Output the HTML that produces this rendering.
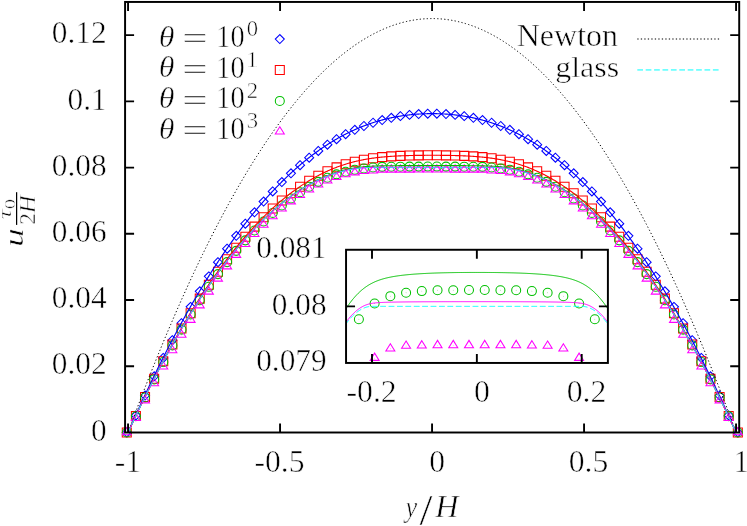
<!DOCTYPE html>
<html><head><meta charset="utf-8"><title>plot</title>
<style>
html,body{margin:0;padding:0;background:#fff;}
svg{display:block;font-family:"Liberation Serif",serif;fill:#000;will-change:transform;}
text{stroke:#fff;stroke-width:0.55;vector-effect:non-scaling-stroke;}
</style></head><body>
<svg width="747" height="526" viewBox="0 0 747 526">
<rect x="0" y="0" width="747" height="526" fill="#fff"/>
<g>
<path d="M126.79 427.99 l-4.50 4.50 l4.50 4.50 l4.50 -4.50 z" fill="none" stroke="#0000ff" stroke-width="1.05"/><circle cx="126.79" cy="432.49" r="0.45" fill="#0000ff" fill-opacity="0.6"/><path d="M135.91 410.89 l-4.50 4.50 l4.50 4.50 l4.50 -4.50 z" fill="none" stroke="#0000ff" stroke-width="1.05"/><circle cx="135.91" cy="415.39" r="0.45" fill="#0000ff" fill-opacity="0.6"/><path d="M145.03 391.02 l-4.50 4.50 l4.50 4.50 l4.50 -4.50 z" fill="none" stroke="#0000ff" stroke-width="1.05"/><circle cx="145.03" cy="395.52" r="0.45" fill="#0000ff" fill-opacity="0.6"/><path d="M154.15 371.86 l-4.50 4.50 l4.50 4.50 l4.50 -4.50 z" fill="none" stroke="#0000ff" stroke-width="1.05"/><circle cx="154.15" cy="376.36" r="0.45" fill="#0000ff" fill-opacity="0.6"/><path d="M163.27 353.42 l-4.50 4.50 l4.50 4.50 l4.50 -4.50 z" fill="none" stroke="#0000ff" stroke-width="1.05"/><circle cx="163.27" cy="357.92" r="0.45" fill="#0000ff" fill-opacity="0.6"/><path d="M172.39 335.70 l-4.50 4.50 l4.50 4.50 l4.50 -4.50 z" fill="none" stroke="#0000ff" stroke-width="1.05"/><circle cx="172.39" cy="340.20" r="0.45" fill="#0000ff" fill-opacity="0.6"/><path d="M181.51 318.68 l-4.50 4.50 l4.50 4.50 l4.50 -4.50 z" fill="none" stroke="#0000ff" stroke-width="1.05"/><circle cx="181.51" cy="323.18" r="0.45" fill="#0000ff" fill-opacity="0.6"/><path d="M190.63 302.37 l-4.50 4.50 l4.50 4.50 l4.50 -4.50 z" fill="none" stroke="#0000ff" stroke-width="1.05"/><circle cx="190.63" cy="306.87" r="0.45" fill="#0000ff" fill-opacity="0.6"/><path d="M199.75 286.77 l-4.50 4.50 l4.50 4.50 l4.50 -4.50 z" fill="none" stroke="#0000ff" stroke-width="1.05"/><circle cx="199.75" cy="291.27" r="0.45" fill="#0000ff" fill-opacity="0.6"/><path d="M208.87 271.87 l-4.50 4.50 l4.50 4.50 l4.50 -4.50 z" fill="none" stroke="#0000ff" stroke-width="1.05"/><circle cx="208.87" cy="276.37" r="0.45" fill="#0000ff" fill-opacity="0.6"/><path d="M217.99 257.66 l-4.50 4.50 l4.50 4.50 l4.50 -4.50 z" fill="none" stroke="#0000ff" stroke-width="1.05"/><circle cx="217.99" cy="262.16" r="0.45" fill="#0000ff" fill-opacity="0.6"/><path d="M227.11 244.16 l-4.50 4.50 l4.50 4.50 l4.50 -4.50 z" fill="none" stroke="#0000ff" stroke-width="1.05"/><circle cx="227.11" cy="248.66" r="0.45" fill="#0000ff" fill-opacity="0.6"/><path d="M236.23 231.35 l-4.50 4.50 l4.50 4.50 l4.50 -4.50 z" fill="none" stroke="#0000ff" stroke-width="1.05"/><circle cx="236.23" cy="235.85" r="0.45" fill="#0000ff" fill-opacity="0.6"/><path d="M245.35 219.22 l-4.50 4.50 l4.50 4.50 l4.50 -4.50 z" fill="none" stroke="#0000ff" stroke-width="1.05"/><circle cx="245.35" cy="223.72" r="0.45" fill="#0000ff" fill-opacity="0.6"/><path d="M254.47 207.79 l-4.50 4.50 l4.50 4.50 l4.50 -4.50 z" fill="none" stroke="#0000ff" stroke-width="1.05"/><circle cx="254.47" cy="212.29" r="0.45" fill="#0000ff" fill-opacity="0.6"/><path d="M263.59 197.03 l-4.50 4.50 l4.50 4.50 l4.50 -4.50 z" fill="none" stroke="#0000ff" stroke-width="1.05"/><circle cx="263.59" cy="201.53" r="0.45" fill="#0000ff" fill-opacity="0.6"/><path d="M272.71 186.94 l-4.50 4.50 l4.50 4.50 l4.50 -4.50 z" fill="none" stroke="#0000ff" stroke-width="1.05"/><circle cx="272.71" cy="191.44" r="0.45" fill="#0000ff" fill-opacity="0.6"/><path d="M281.83 177.53 l-4.50 4.50 l4.50 4.50 l4.50 -4.50 z" fill="none" stroke="#0000ff" stroke-width="1.05"/><circle cx="281.83" cy="182.03" r="0.45" fill="#0000ff" fill-opacity="0.6"/><path d="M290.95 168.78 l-4.50 4.50 l4.50 4.50 l4.50 -4.50 z" fill="none" stroke="#0000ff" stroke-width="1.05"/><circle cx="290.95" cy="173.28" r="0.45" fill="#0000ff" fill-opacity="0.6"/><path d="M300.07 160.68 l-4.50 4.50 l4.50 4.50 l4.50 -4.50 z" fill="none" stroke="#0000ff" stroke-width="1.05"/><circle cx="300.07" cy="165.18" r="0.45" fill="#0000ff" fill-opacity="0.6"/><path d="M309.19 153.23 l-4.50 4.50 l4.50 4.50 l4.50 -4.50 z" fill="none" stroke="#0000ff" stroke-width="1.05"/><circle cx="309.19" cy="157.73" r="0.45" fill="#0000ff" fill-opacity="0.6"/><path d="M318.31 146.41 l-4.50 4.50 l4.50 4.50 l4.50 -4.50 z" fill="none" stroke="#0000ff" stroke-width="1.05"/><circle cx="318.31" cy="150.91" r="0.45" fill="#0000ff" fill-opacity="0.6"/><path d="M327.43 140.23 l-4.50 4.50 l4.50 4.50 l4.50 -4.50 z" fill="none" stroke="#0000ff" stroke-width="1.05"/><circle cx="327.43" cy="144.73" r="0.45" fill="#0000ff" fill-opacity="0.6"/><path d="M336.55 134.66 l-4.50 4.50 l4.50 4.50 l4.50 -4.50 z" fill="none" stroke="#0000ff" stroke-width="1.05"/><circle cx="336.55" cy="139.16" r="0.45" fill="#0000ff" fill-opacity="0.6"/><path d="M345.67 129.69 l-4.50 4.50 l4.50 4.50 l4.50 -4.50 z" fill="none" stroke="#0000ff" stroke-width="1.05"/><circle cx="345.67" cy="134.19" r="0.45" fill="#0000ff" fill-opacity="0.6"/><path d="M354.79 125.31 l-4.50 4.50 l4.50 4.50 l4.50 -4.50 z" fill="none" stroke="#0000ff" stroke-width="1.05"/><circle cx="354.79" cy="129.81" r="0.45" fill="#0000ff" fill-opacity="0.6"/><path d="M363.91 121.50 l-4.50 4.50 l4.50 4.50 l4.50 -4.50 z" fill="none" stroke="#0000ff" stroke-width="1.05"/><circle cx="363.91" cy="126.00" r="0.45" fill="#0000ff" fill-opacity="0.6"/><path d="M373.03 118.25 l-4.50 4.50 l4.50 4.50 l4.50 -4.50 z" fill="none" stroke="#0000ff" stroke-width="1.05"/><circle cx="373.03" cy="122.75" r="0.45" fill="#0000ff" fill-opacity="0.6"/><path d="M382.15 115.54 l-4.50 4.50 l4.50 4.50 l4.50 -4.50 z" fill="none" stroke="#0000ff" stroke-width="1.05"/><circle cx="382.15" cy="120.04" r="0.45" fill="#0000ff" fill-opacity="0.6"/><path d="M391.27 113.33 l-4.50 4.50 l4.50 4.50 l4.50 -4.50 z" fill="none" stroke="#0000ff" stroke-width="1.05"/><circle cx="391.27" cy="117.83" r="0.45" fill="#0000ff" fill-opacity="0.6"/><path d="M400.39 111.63 l-4.50 4.50 l4.50 4.50 l4.50 -4.50 z" fill="none" stroke="#0000ff" stroke-width="1.05"/><circle cx="400.39" cy="116.13" r="0.45" fill="#0000ff" fill-opacity="0.6"/><path d="M409.51 110.38 l-4.50 4.50 l4.50 4.50 l4.50 -4.50 z" fill="none" stroke="#0000ff" stroke-width="1.05"/><circle cx="409.51" cy="114.88" r="0.45" fill="#0000ff" fill-opacity="0.6"/><path d="M418.63 109.58 l-4.50 4.50 l4.50 4.50 l4.50 -4.50 z" fill="none" stroke="#0000ff" stroke-width="1.05"/><circle cx="418.63" cy="114.08" r="0.45" fill="#0000ff" fill-opacity="0.6"/><path d="M427.75 109.19 l-4.50 4.50 l4.50 4.50 l4.50 -4.50 z" fill="none" stroke="#0000ff" stroke-width="1.05"/><circle cx="427.75" cy="113.69" r="0.45" fill="#0000ff" fill-opacity="0.6"/><path d="M436.87 109.19 l-4.50 4.50 l4.50 4.50 l4.50 -4.50 z" fill="none" stroke="#0000ff" stroke-width="1.05"/><circle cx="436.87" cy="113.69" r="0.45" fill="#0000ff" fill-opacity="0.6"/><path d="M445.99 109.58 l-4.50 4.50 l4.50 4.50 l4.50 -4.50 z" fill="none" stroke="#0000ff" stroke-width="1.05"/><circle cx="445.99" cy="114.08" r="0.45" fill="#0000ff" fill-opacity="0.6"/><path d="M455.11 110.38 l-4.50 4.50 l4.50 4.50 l4.50 -4.50 z" fill="none" stroke="#0000ff" stroke-width="1.05"/><circle cx="455.11" cy="114.88" r="0.45" fill="#0000ff" fill-opacity="0.6"/><path d="M464.23 111.63 l-4.50 4.50 l4.50 4.50 l4.50 -4.50 z" fill="none" stroke="#0000ff" stroke-width="1.05"/><circle cx="464.23" cy="116.13" r="0.45" fill="#0000ff" fill-opacity="0.6"/><path d="M473.35 113.33 l-4.50 4.50 l4.50 4.50 l4.50 -4.50 z" fill="none" stroke="#0000ff" stroke-width="1.05"/><circle cx="473.35" cy="117.83" r="0.45" fill="#0000ff" fill-opacity="0.6"/><path d="M482.47 115.54 l-4.50 4.50 l4.50 4.50 l4.50 -4.50 z" fill="none" stroke="#0000ff" stroke-width="1.05"/><circle cx="482.47" cy="120.04" r="0.45" fill="#0000ff" fill-opacity="0.6"/><path d="M491.59 118.25 l-4.50 4.50 l4.50 4.50 l4.50 -4.50 z" fill="none" stroke="#0000ff" stroke-width="1.05"/><circle cx="491.59" cy="122.75" r="0.45" fill="#0000ff" fill-opacity="0.6"/><path d="M500.71 121.50 l-4.50 4.50 l4.50 4.50 l4.50 -4.50 z" fill="none" stroke="#0000ff" stroke-width="1.05"/><circle cx="500.71" cy="126.00" r="0.45" fill="#0000ff" fill-opacity="0.6"/><path d="M509.83 125.31 l-4.50 4.50 l4.50 4.50 l4.50 -4.50 z" fill="none" stroke="#0000ff" stroke-width="1.05"/><circle cx="509.83" cy="129.81" r="0.45" fill="#0000ff" fill-opacity="0.6"/><path d="M518.95 129.69 l-4.50 4.50 l4.50 4.50 l4.50 -4.50 z" fill="none" stroke="#0000ff" stroke-width="1.05"/><circle cx="518.95" cy="134.19" r="0.45" fill="#0000ff" fill-opacity="0.6"/><path d="M528.07 134.66 l-4.50 4.50 l4.50 4.50 l4.50 -4.50 z" fill="none" stroke="#0000ff" stroke-width="1.05"/><circle cx="528.07" cy="139.16" r="0.45" fill="#0000ff" fill-opacity="0.6"/><path d="M537.19 140.23 l-4.50 4.50 l4.50 4.50 l4.50 -4.50 z" fill="none" stroke="#0000ff" stroke-width="1.05"/><circle cx="537.19" cy="144.73" r="0.45" fill="#0000ff" fill-opacity="0.6"/><path d="M546.31 146.41 l-4.50 4.50 l4.50 4.50 l4.50 -4.50 z" fill="none" stroke="#0000ff" stroke-width="1.05"/><circle cx="546.31" cy="150.91" r="0.45" fill="#0000ff" fill-opacity="0.6"/><path d="M555.43 153.23 l-4.50 4.50 l4.50 4.50 l4.50 -4.50 z" fill="none" stroke="#0000ff" stroke-width="1.05"/><circle cx="555.43" cy="157.73" r="0.45" fill="#0000ff" fill-opacity="0.6"/><path d="M564.55 160.68 l-4.50 4.50 l4.50 4.50 l4.50 -4.50 z" fill="none" stroke="#0000ff" stroke-width="1.05"/><circle cx="564.55" cy="165.18" r="0.45" fill="#0000ff" fill-opacity="0.6"/><path d="M573.67 168.78 l-4.50 4.50 l4.50 4.50 l4.50 -4.50 z" fill="none" stroke="#0000ff" stroke-width="1.05"/><circle cx="573.67" cy="173.28" r="0.45" fill="#0000ff" fill-opacity="0.6"/><path d="M582.79 177.53 l-4.50 4.50 l4.50 4.50 l4.50 -4.50 z" fill="none" stroke="#0000ff" stroke-width="1.05"/><circle cx="582.79" cy="182.03" r="0.45" fill="#0000ff" fill-opacity="0.6"/><path d="M591.91 186.94 l-4.50 4.50 l4.50 4.50 l4.50 -4.50 z" fill="none" stroke="#0000ff" stroke-width="1.05"/><circle cx="591.91" cy="191.44" r="0.45" fill="#0000ff" fill-opacity="0.6"/><path d="M601.03 197.03 l-4.50 4.50 l4.50 4.50 l4.50 -4.50 z" fill="none" stroke="#0000ff" stroke-width="1.05"/><circle cx="601.03" cy="201.53" r="0.45" fill="#0000ff" fill-opacity="0.6"/><path d="M610.15 207.79 l-4.50 4.50 l4.50 4.50 l4.50 -4.50 z" fill="none" stroke="#0000ff" stroke-width="1.05"/><circle cx="610.15" cy="212.29" r="0.45" fill="#0000ff" fill-opacity="0.6"/><path d="M619.27 219.22 l-4.50 4.50 l4.50 4.50 l4.50 -4.50 z" fill="none" stroke="#0000ff" stroke-width="1.05"/><circle cx="619.27" cy="223.72" r="0.45" fill="#0000ff" fill-opacity="0.6"/><path d="M628.39 231.35 l-4.50 4.50 l4.50 4.50 l4.50 -4.50 z" fill="none" stroke="#0000ff" stroke-width="1.05"/><circle cx="628.39" cy="235.85" r="0.45" fill="#0000ff" fill-opacity="0.6"/><path d="M637.51 244.16 l-4.50 4.50 l4.50 4.50 l4.50 -4.50 z" fill="none" stroke="#0000ff" stroke-width="1.05"/><circle cx="637.51" cy="248.66" r="0.45" fill="#0000ff" fill-opacity="0.6"/><path d="M646.63 257.66 l-4.50 4.50 l4.50 4.50 l4.50 -4.50 z" fill="none" stroke="#0000ff" stroke-width="1.05"/><circle cx="646.63" cy="262.16" r="0.45" fill="#0000ff" fill-opacity="0.6"/><path d="M655.75 271.87 l-4.50 4.50 l4.50 4.50 l4.50 -4.50 z" fill="none" stroke="#0000ff" stroke-width="1.05"/><circle cx="655.75" cy="276.37" r="0.45" fill="#0000ff" fill-opacity="0.6"/><path d="M664.87 286.77 l-4.50 4.50 l4.50 4.50 l4.50 -4.50 z" fill="none" stroke="#0000ff" stroke-width="1.05"/><circle cx="664.87" cy="291.27" r="0.45" fill="#0000ff" fill-opacity="0.6"/><path d="M673.99 302.37 l-4.50 4.50 l4.50 4.50 l4.50 -4.50 z" fill="none" stroke="#0000ff" stroke-width="1.05"/><circle cx="673.99" cy="306.87" r="0.45" fill="#0000ff" fill-opacity="0.6"/><path d="M683.11 318.68 l-4.50 4.50 l4.50 4.50 l4.50 -4.50 z" fill="none" stroke="#0000ff" stroke-width="1.05"/><circle cx="683.11" cy="323.18" r="0.45" fill="#0000ff" fill-opacity="0.6"/><path d="M692.23 335.70 l-4.50 4.50 l4.50 4.50 l4.50 -4.50 z" fill="none" stroke="#0000ff" stroke-width="1.05"/><circle cx="692.23" cy="340.20" r="0.45" fill="#0000ff" fill-opacity="0.6"/><path d="M701.35 353.42 l-4.50 4.50 l4.50 4.50 l4.50 -4.50 z" fill="none" stroke="#0000ff" stroke-width="1.05"/><circle cx="701.35" cy="357.92" r="0.45" fill="#0000ff" fill-opacity="0.6"/><path d="M710.47 371.86 l-4.50 4.50 l4.50 4.50 l4.50 -4.50 z" fill="none" stroke="#0000ff" stroke-width="1.05"/><circle cx="710.47" cy="376.36" r="0.45" fill="#0000ff" fill-opacity="0.6"/><path d="M719.59 391.02 l-4.50 4.50 l4.50 4.50 l4.50 -4.50 z" fill="none" stroke="#0000ff" stroke-width="1.05"/><circle cx="719.59" cy="395.52" r="0.45" fill="#0000ff" fill-opacity="0.6"/><path d="M728.71 410.89 l-4.50 4.50 l4.50 4.50 l4.50 -4.50 z" fill="none" stroke="#0000ff" stroke-width="1.05"/><circle cx="728.71" cy="415.39" r="0.45" fill="#0000ff" fill-opacity="0.6"/><path d="M737.83 427.99 l-4.50 4.50 l4.50 4.50 l4.50 -4.50 z" fill="none" stroke="#0000ff" stroke-width="1.05"/><circle cx="737.83" cy="432.49" r="0.45" fill="#0000ff" fill-opacity="0.6"/>
<path d="M122.29 427.99 h9.00 v9.00 h-9.00 z" fill="none" stroke="#ff0000" stroke-width="1.05"/><circle cx="126.79" cy="432.49" r="0.45" fill="#ff0000" fill-opacity="0.6"/><path d="M131.41 411.59 h9.00 v9.00 h-9.00 z" fill="none" stroke="#ff0000" stroke-width="1.05"/><circle cx="135.91" cy="416.09" r="0.45" fill="#ff0000" fill-opacity="0.6"/><path d="M140.53 392.59 h9.00 v9.00 h-9.00 z" fill="none" stroke="#ff0000" stroke-width="1.05"/><circle cx="145.03" cy="397.09" r="0.45" fill="#ff0000" fill-opacity="0.6"/><path d="M149.65 374.33 h9.00 v9.00 h-9.00 z" fill="none" stroke="#ff0000" stroke-width="1.05"/><circle cx="154.15" cy="378.83" r="0.45" fill="#ff0000" fill-opacity="0.6"/><path d="M158.77 356.81 h9.00 v9.00 h-9.00 z" fill="none" stroke="#ff0000" stroke-width="1.05"/><circle cx="163.27" cy="361.31" r="0.45" fill="#ff0000" fill-opacity="0.6"/><path d="M167.89 340.02 h9.00 v9.00 h-9.00 z" fill="none" stroke="#ff0000" stroke-width="1.05"/><circle cx="172.39" cy="344.52" r="0.45" fill="#ff0000" fill-opacity="0.6"/><path d="M177.01 323.98 h9.00 v9.00 h-9.00 z" fill="none" stroke="#ff0000" stroke-width="1.05"/><circle cx="181.51" cy="328.48" r="0.45" fill="#ff0000" fill-opacity="0.6"/><path d="M186.13 308.67 h9.00 v9.00 h-9.00 z" fill="none" stroke="#ff0000" stroke-width="1.05"/><circle cx="190.63" cy="313.17" r="0.45" fill="#ff0000" fill-opacity="0.6"/><path d="M195.25 294.10 h9.00 v9.00 h-9.00 z" fill="none" stroke="#ff0000" stroke-width="1.05"/><circle cx="199.75" cy="298.60" r="0.45" fill="#ff0000" fill-opacity="0.6"/><path d="M204.37 280.27 h9.00 v9.00 h-9.00 z" fill="none" stroke="#ff0000" stroke-width="1.05"/><circle cx="208.87" cy="284.77" r="0.45" fill="#ff0000" fill-opacity="0.6"/><path d="M213.49 267.18 h9.00 v9.00 h-9.00 z" fill="none" stroke="#ff0000" stroke-width="1.05"/><circle cx="217.99" cy="271.68" r="0.45" fill="#ff0000" fill-opacity="0.6"/><path d="M222.61 254.82 h9.00 v9.00 h-9.00 z" fill="none" stroke="#ff0000" stroke-width="1.05"/><circle cx="227.11" cy="259.32" r="0.45" fill="#ff0000" fill-opacity="0.6"/><path d="M231.73 243.19 h9.00 v9.00 h-9.00 z" fill="none" stroke="#ff0000" stroke-width="1.05"/><circle cx="236.23" cy="247.69" r="0.45" fill="#ff0000" fill-opacity="0.6"/><path d="M240.85 232.29 h9.00 v9.00 h-9.00 z" fill="none" stroke="#ff0000" stroke-width="1.05"/><circle cx="245.35" cy="236.79" r="0.45" fill="#ff0000" fill-opacity="0.6"/><path d="M249.97 222.13 h9.00 v9.00 h-9.00 z" fill="none" stroke="#ff0000" stroke-width="1.05"/><circle cx="254.47" cy="226.63" r="0.45" fill="#ff0000" fill-opacity="0.6"/><path d="M259.09 212.69 h9.00 v9.00 h-9.00 z" fill="none" stroke="#ff0000" stroke-width="1.05"/><circle cx="263.59" cy="217.19" r="0.45" fill="#ff0000" fill-opacity="0.6"/><path d="M268.21 203.98 h9.00 v9.00 h-9.00 z" fill="none" stroke="#ff0000" stroke-width="1.05"/><circle cx="272.71" cy="208.48" r="0.45" fill="#ff0000" fill-opacity="0.6"/><path d="M277.33 195.99 h9.00 v9.00 h-9.00 z" fill="none" stroke="#ff0000" stroke-width="1.05"/><circle cx="281.83" cy="200.49" r="0.45" fill="#ff0000" fill-opacity="0.6"/><path d="M286.45 188.71 h9.00 v9.00 h-9.00 z" fill="none" stroke="#ff0000" stroke-width="1.05"/><circle cx="290.95" cy="193.21" r="0.45" fill="#ff0000" fill-opacity="0.6"/><path d="M295.57 182.16 h9.00 v9.00 h-9.00 z" fill="none" stroke="#ff0000" stroke-width="1.05"/><circle cx="300.07" cy="186.66" r="0.45" fill="#ff0000" fill-opacity="0.6"/><path d="M304.69 176.30 h9.00 v9.00 h-9.00 z" fill="none" stroke="#ff0000" stroke-width="1.05"/><circle cx="309.19" cy="180.80" r="0.45" fill="#ff0000" fill-opacity="0.6"/><path d="M313.81 171.15 h9.00 v9.00 h-9.00 z" fill="none" stroke="#ff0000" stroke-width="1.05"/><circle cx="318.31" cy="175.65" r="0.45" fill="#ff0000" fill-opacity="0.6"/><path d="M322.93 166.68 h9.00 v9.00 h-9.00 z" fill="none" stroke="#ff0000" stroke-width="1.05"/><circle cx="327.43" cy="171.18" r="0.45" fill="#ff0000" fill-opacity="0.6"/><path d="M332.05 162.87 h9.00 v9.00 h-9.00 z" fill="none" stroke="#ff0000" stroke-width="1.05"/><circle cx="336.55" cy="167.37" r="0.45" fill="#ff0000" fill-opacity="0.6"/><path d="M341.17 159.71 h9.00 v9.00 h-9.00 z" fill="none" stroke="#ff0000" stroke-width="1.05"/><circle cx="345.67" cy="164.21" r="0.45" fill="#ff0000" fill-opacity="0.6"/><path d="M350.29 157.16 h9.00 v9.00 h-9.00 z" fill="none" stroke="#ff0000" stroke-width="1.05"/><circle cx="354.79" cy="161.66" r="0.45" fill="#ff0000" fill-opacity="0.6"/><path d="M359.41 155.17 h9.00 v9.00 h-9.00 z" fill="none" stroke="#ff0000" stroke-width="1.05"/><circle cx="363.91" cy="159.67" r="0.45" fill="#ff0000" fill-opacity="0.6"/><path d="M368.53 153.68 h9.00 v9.00 h-9.00 z" fill="none" stroke="#ff0000" stroke-width="1.05"/><circle cx="373.03" cy="158.18" r="0.45" fill="#ff0000" fill-opacity="0.6"/><path d="M377.65 152.60 h9.00 v9.00 h-9.00 z" fill="none" stroke="#ff0000" stroke-width="1.05"/><circle cx="382.15" cy="157.10" r="0.45" fill="#ff0000" fill-opacity="0.6"/><path d="M386.77 151.85 h9.00 v9.00 h-9.00 z" fill="none" stroke="#ff0000" stroke-width="1.05"/><circle cx="391.27" cy="156.35" r="0.45" fill="#ff0000" fill-opacity="0.6"/><path d="M395.89 151.35 h9.00 v9.00 h-9.00 z" fill="none" stroke="#ff0000" stroke-width="1.05"/><circle cx="400.39" cy="155.85" r="0.45" fill="#ff0000" fill-opacity="0.6"/><path d="M405.01 151.04 h9.00 v9.00 h-9.00 z" fill="none" stroke="#ff0000" stroke-width="1.05"/><circle cx="409.51" cy="155.54" r="0.45" fill="#ff0000" fill-opacity="0.6"/><path d="M414.13 150.86 h9.00 v9.00 h-9.00 z" fill="none" stroke="#ff0000" stroke-width="1.05"/><circle cx="418.63" cy="155.36" r="0.45" fill="#ff0000" fill-opacity="0.6"/><path d="M423.25 150.78 h9.00 v9.00 h-9.00 z" fill="none" stroke="#ff0000" stroke-width="1.05"/><circle cx="427.75" cy="155.28" r="0.45" fill="#ff0000" fill-opacity="0.6"/><path d="M432.37 150.78 h9.00 v9.00 h-9.00 z" fill="none" stroke="#ff0000" stroke-width="1.05"/><circle cx="436.87" cy="155.28" r="0.45" fill="#ff0000" fill-opacity="0.6"/><path d="M441.49 150.86 h9.00 v9.00 h-9.00 z" fill="none" stroke="#ff0000" stroke-width="1.05"/><circle cx="445.99" cy="155.36" r="0.45" fill="#ff0000" fill-opacity="0.6"/><path d="M450.61 151.04 h9.00 v9.00 h-9.00 z" fill="none" stroke="#ff0000" stroke-width="1.05"/><circle cx="455.11" cy="155.54" r="0.45" fill="#ff0000" fill-opacity="0.6"/><path d="M459.73 151.35 h9.00 v9.00 h-9.00 z" fill="none" stroke="#ff0000" stroke-width="1.05"/><circle cx="464.23" cy="155.85" r="0.45" fill="#ff0000" fill-opacity="0.6"/><path d="M468.85 151.85 h9.00 v9.00 h-9.00 z" fill="none" stroke="#ff0000" stroke-width="1.05"/><circle cx="473.35" cy="156.35" r="0.45" fill="#ff0000" fill-opacity="0.6"/><path d="M477.97 152.60 h9.00 v9.00 h-9.00 z" fill="none" stroke="#ff0000" stroke-width="1.05"/><circle cx="482.47" cy="157.10" r="0.45" fill="#ff0000" fill-opacity="0.6"/><path d="M487.09 153.68 h9.00 v9.00 h-9.00 z" fill="none" stroke="#ff0000" stroke-width="1.05"/><circle cx="491.59" cy="158.18" r="0.45" fill="#ff0000" fill-opacity="0.6"/><path d="M496.21 155.17 h9.00 v9.00 h-9.00 z" fill="none" stroke="#ff0000" stroke-width="1.05"/><circle cx="500.71" cy="159.67" r="0.45" fill="#ff0000" fill-opacity="0.6"/><path d="M505.33 157.16 h9.00 v9.00 h-9.00 z" fill="none" stroke="#ff0000" stroke-width="1.05"/><circle cx="509.83" cy="161.66" r="0.45" fill="#ff0000" fill-opacity="0.6"/><path d="M514.45 159.71 h9.00 v9.00 h-9.00 z" fill="none" stroke="#ff0000" stroke-width="1.05"/><circle cx="518.95" cy="164.21" r="0.45" fill="#ff0000" fill-opacity="0.6"/><path d="M523.57 162.87 h9.00 v9.00 h-9.00 z" fill="none" stroke="#ff0000" stroke-width="1.05"/><circle cx="528.07" cy="167.37" r="0.45" fill="#ff0000" fill-opacity="0.6"/><path d="M532.69 166.68 h9.00 v9.00 h-9.00 z" fill="none" stroke="#ff0000" stroke-width="1.05"/><circle cx="537.19" cy="171.18" r="0.45" fill="#ff0000" fill-opacity="0.6"/><path d="M541.81 171.15 h9.00 v9.00 h-9.00 z" fill="none" stroke="#ff0000" stroke-width="1.05"/><circle cx="546.31" cy="175.65" r="0.45" fill="#ff0000" fill-opacity="0.6"/><path d="M550.93 176.30 h9.00 v9.00 h-9.00 z" fill="none" stroke="#ff0000" stroke-width="1.05"/><circle cx="555.43" cy="180.80" r="0.45" fill="#ff0000" fill-opacity="0.6"/><path d="M560.05 182.16 h9.00 v9.00 h-9.00 z" fill="none" stroke="#ff0000" stroke-width="1.05"/><circle cx="564.55" cy="186.66" r="0.45" fill="#ff0000" fill-opacity="0.6"/><path d="M569.17 188.71 h9.00 v9.00 h-9.00 z" fill="none" stroke="#ff0000" stroke-width="1.05"/><circle cx="573.67" cy="193.21" r="0.45" fill="#ff0000" fill-opacity="0.6"/><path d="M578.29 195.99 h9.00 v9.00 h-9.00 z" fill="none" stroke="#ff0000" stroke-width="1.05"/><circle cx="582.79" cy="200.49" r="0.45" fill="#ff0000" fill-opacity="0.6"/><path d="M587.41 203.98 h9.00 v9.00 h-9.00 z" fill="none" stroke="#ff0000" stroke-width="1.05"/><circle cx="591.91" cy="208.48" r="0.45" fill="#ff0000" fill-opacity="0.6"/><path d="M596.53 212.69 h9.00 v9.00 h-9.00 z" fill="none" stroke="#ff0000" stroke-width="1.05"/><circle cx="601.03" cy="217.19" r="0.45" fill="#ff0000" fill-opacity="0.6"/><path d="M605.65 222.13 h9.00 v9.00 h-9.00 z" fill="none" stroke="#ff0000" stroke-width="1.05"/><circle cx="610.15" cy="226.63" r="0.45" fill="#ff0000" fill-opacity="0.6"/><path d="M614.77 232.29 h9.00 v9.00 h-9.00 z" fill="none" stroke="#ff0000" stroke-width="1.05"/><circle cx="619.27" cy="236.79" r="0.45" fill="#ff0000" fill-opacity="0.6"/><path d="M623.89 243.19 h9.00 v9.00 h-9.00 z" fill="none" stroke="#ff0000" stroke-width="1.05"/><circle cx="628.39" cy="247.69" r="0.45" fill="#ff0000" fill-opacity="0.6"/><path d="M633.01 254.82 h9.00 v9.00 h-9.00 z" fill="none" stroke="#ff0000" stroke-width="1.05"/><circle cx="637.51" cy="259.32" r="0.45" fill="#ff0000" fill-opacity="0.6"/><path d="M642.13 267.18 h9.00 v9.00 h-9.00 z" fill="none" stroke="#ff0000" stroke-width="1.05"/><circle cx="646.63" cy="271.68" r="0.45" fill="#ff0000" fill-opacity="0.6"/><path d="M651.25 280.27 h9.00 v9.00 h-9.00 z" fill="none" stroke="#ff0000" stroke-width="1.05"/><circle cx="655.75" cy="284.77" r="0.45" fill="#ff0000" fill-opacity="0.6"/><path d="M660.37 294.10 h9.00 v9.00 h-9.00 z" fill="none" stroke="#ff0000" stroke-width="1.05"/><circle cx="664.87" cy="298.60" r="0.45" fill="#ff0000" fill-opacity="0.6"/><path d="M669.49 308.67 h9.00 v9.00 h-9.00 z" fill="none" stroke="#ff0000" stroke-width="1.05"/><circle cx="673.99" cy="313.17" r="0.45" fill="#ff0000" fill-opacity="0.6"/><path d="M678.61 323.98 h9.00 v9.00 h-9.00 z" fill="none" stroke="#ff0000" stroke-width="1.05"/><circle cx="683.11" cy="328.48" r="0.45" fill="#ff0000" fill-opacity="0.6"/><path d="M687.73 340.02 h9.00 v9.00 h-9.00 z" fill="none" stroke="#ff0000" stroke-width="1.05"/><circle cx="692.23" cy="344.52" r="0.45" fill="#ff0000" fill-opacity="0.6"/><path d="M696.85 356.81 h9.00 v9.00 h-9.00 z" fill="none" stroke="#ff0000" stroke-width="1.05"/><circle cx="701.35" cy="361.31" r="0.45" fill="#ff0000" fill-opacity="0.6"/><path d="M705.97 374.33 h9.00 v9.00 h-9.00 z" fill="none" stroke="#ff0000" stroke-width="1.05"/><circle cx="710.47" cy="378.83" r="0.45" fill="#ff0000" fill-opacity="0.6"/><path d="M715.09 392.59 h9.00 v9.00 h-9.00 z" fill="none" stroke="#ff0000" stroke-width="1.05"/><circle cx="719.59" cy="397.09" r="0.45" fill="#ff0000" fill-opacity="0.6"/><path d="M724.21 411.59 h9.00 v9.00 h-9.00 z" fill="none" stroke="#ff0000" stroke-width="1.05"/><circle cx="728.71" cy="416.09" r="0.45" fill="#ff0000" fill-opacity="0.6"/><path d="M733.33 427.99 h9.00 v9.00 h-9.00 z" fill="none" stroke="#ff0000" stroke-width="1.05"/><circle cx="737.83" cy="432.49" r="0.45" fill="#ff0000" fill-opacity="0.6"/>
<circle cx="126.79" cy="432.49" r="4.50" fill="none" stroke="#00c000" stroke-width="1.05"/><circle cx="126.79" cy="432.49" r="0.45" fill="#00c000" fill-opacity="0.6"/><circle cx="135.91" cy="416.27" r="4.50" fill="none" stroke="#00c000" stroke-width="1.05"/><circle cx="135.91" cy="416.27" r="0.45" fill="#00c000" fill-opacity="0.6"/><circle cx="145.03" cy="397.46" r="4.50" fill="none" stroke="#00c000" stroke-width="1.05"/><circle cx="145.03" cy="397.46" r="0.45" fill="#00c000" fill-opacity="0.6"/><circle cx="154.15" cy="379.41" r="4.50" fill="none" stroke="#00c000" stroke-width="1.05"/><circle cx="154.15" cy="379.41" r="0.45" fill="#00c000" fill-opacity="0.6"/><circle cx="163.27" cy="362.08" r="4.50" fill="none" stroke="#00c000" stroke-width="1.05"/><circle cx="163.27" cy="362.08" r="0.45" fill="#00c000" fill-opacity="0.6"/><circle cx="172.39" cy="345.49" r="4.50" fill="none" stroke="#00c000" stroke-width="1.05"/><circle cx="172.39" cy="345.49" r="0.45" fill="#00c000" fill-opacity="0.6"/><circle cx="181.51" cy="329.64" r="4.50" fill="none" stroke="#00c000" stroke-width="1.05"/><circle cx="181.51" cy="329.64" r="0.45" fill="#00c000" fill-opacity="0.6"/><circle cx="190.63" cy="314.55" r="4.50" fill="none" stroke="#00c000" stroke-width="1.05"/><circle cx="190.63" cy="314.55" r="0.45" fill="#00c000" fill-opacity="0.6"/><circle cx="199.75" cy="300.33" r="4.50" fill="none" stroke="#00c000" stroke-width="1.05"/><circle cx="199.75" cy="300.33" r="0.45" fill="#00c000" fill-opacity="0.6"/><circle cx="208.87" cy="286.84" r="4.50" fill="none" stroke="#00c000" stroke-width="1.05"/><circle cx="208.87" cy="286.84" r="0.45" fill="#00c000" fill-opacity="0.6"/><circle cx="217.99" cy="274.11" r="4.50" fill="none" stroke="#00c000" stroke-width="1.05"/><circle cx="217.99" cy="274.11" r="0.45" fill="#00c000" fill-opacity="0.6"/><circle cx="227.11" cy="262.11" r="4.50" fill="none" stroke="#00c000" stroke-width="1.05"/><circle cx="227.11" cy="262.11" r="0.45" fill="#00c000" fill-opacity="0.6"/><circle cx="236.23" cy="250.86" r="4.50" fill="none" stroke="#00c000" stroke-width="1.05"/><circle cx="236.23" cy="250.86" r="0.45" fill="#00c000" fill-opacity="0.6"/><circle cx="245.35" cy="240.35" r="4.50" fill="none" stroke="#00c000" stroke-width="1.05"/><circle cx="245.35" cy="240.35" r="0.45" fill="#00c000" fill-opacity="0.6"/><circle cx="254.47" cy="230.54" r="4.50" fill="none" stroke="#00c000" stroke-width="1.05"/><circle cx="254.47" cy="230.54" r="0.45" fill="#00c000" fill-opacity="0.6"/><circle cx="263.59" cy="221.43" r="4.50" fill="none" stroke="#00c000" stroke-width="1.05"/><circle cx="263.59" cy="221.43" r="0.45" fill="#00c000" fill-opacity="0.6"/><circle cx="272.71" cy="213.05" r="4.50" fill="none" stroke="#00c000" stroke-width="1.05"/><circle cx="272.71" cy="213.05" r="0.45" fill="#00c000" fill-opacity="0.6"/><circle cx="281.83" cy="205.42" r="4.50" fill="none" stroke="#00c000" stroke-width="1.05"/><circle cx="281.83" cy="205.42" r="0.45" fill="#00c000" fill-opacity="0.6"/><circle cx="290.95" cy="198.53" r="4.50" fill="none" stroke="#00c000" stroke-width="1.05"/><circle cx="290.95" cy="198.53" r="0.45" fill="#00c000" fill-opacity="0.6"/><circle cx="300.07" cy="192.29" r="4.50" fill="none" stroke="#00c000" stroke-width="1.05"/><circle cx="300.07" cy="192.29" r="0.45" fill="#00c000" fill-opacity="0.6"/><circle cx="309.19" cy="186.71" r="4.50" fill="none" stroke="#00c000" stroke-width="1.05"/><circle cx="309.19" cy="186.71" r="0.45" fill="#00c000" fill-opacity="0.6"/><circle cx="318.31" cy="181.86" r="4.50" fill="none" stroke="#00c000" stroke-width="1.05"/><circle cx="318.31" cy="181.86" r="0.45" fill="#00c000" fill-opacity="0.6"/><circle cx="327.43" cy="177.74" r="4.50" fill="none" stroke="#00c000" stroke-width="1.05"/><circle cx="327.43" cy="177.74" r="0.45" fill="#00c000" fill-opacity="0.6"/><circle cx="336.55" cy="174.36" r="4.50" fill="none" stroke="#00c000" stroke-width="1.05"/><circle cx="336.55" cy="174.36" r="0.45" fill="#00c000" fill-opacity="0.6"/><circle cx="345.67" cy="171.70" r="4.50" fill="none" stroke="#00c000" stroke-width="1.05"/><circle cx="345.67" cy="171.70" r="0.45" fill="#00c000" fill-opacity="0.6"/><circle cx="354.79" cy="169.75" r="4.50" fill="none" stroke="#00c000" stroke-width="1.05"/><circle cx="354.79" cy="169.75" r="0.45" fill="#00c000" fill-opacity="0.6"/><circle cx="363.91" cy="168.48" r="4.50" fill="none" stroke="#00c000" stroke-width="1.05"/><circle cx="363.91" cy="168.48" r="0.45" fill="#00c000" fill-opacity="0.6"/><circle cx="373.03" cy="167.45" r="4.50" fill="none" stroke="#00c000" stroke-width="1.05"/><circle cx="373.03" cy="167.45" r="0.45" fill="#00c000" fill-opacity="0.6"/><circle cx="382.15" cy="166.87" r="4.50" fill="none" stroke="#00c000" stroke-width="1.05"/><circle cx="382.15" cy="166.87" r="0.45" fill="#00c000" fill-opacity="0.6"/><circle cx="391.27" cy="166.74" r="4.50" fill="none" stroke="#00c000" stroke-width="1.05"/><circle cx="391.27" cy="166.74" r="0.45" fill="#00c000" fill-opacity="0.6"/><circle cx="400.39" cy="166.66" r="4.50" fill="none" stroke="#00c000" stroke-width="1.05"/><circle cx="400.39" cy="166.66" r="0.45" fill="#00c000" fill-opacity="0.6"/><circle cx="409.51" cy="166.62" r="4.50" fill="none" stroke="#00c000" stroke-width="1.05"/><circle cx="409.51" cy="166.62" r="0.45" fill="#00c000" fill-opacity="0.6"/><circle cx="418.63" cy="166.60" r="4.50" fill="none" stroke="#00c000" stroke-width="1.05"/><circle cx="418.63" cy="166.60" r="0.45" fill="#00c000" fill-opacity="0.6"/><circle cx="427.75" cy="166.59" r="4.50" fill="none" stroke="#00c000" stroke-width="1.05"/><circle cx="427.75" cy="166.59" r="0.45" fill="#00c000" fill-opacity="0.6"/><circle cx="436.87" cy="166.59" r="4.50" fill="none" stroke="#00c000" stroke-width="1.05"/><circle cx="436.87" cy="166.59" r="0.45" fill="#00c000" fill-opacity="0.6"/><circle cx="445.99" cy="166.60" r="4.50" fill="none" stroke="#00c000" stroke-width="1.05"/><circle cx="445.99" cy="166.60" r="0.45" fill="#00c000" fill-opacity="0.6"/><circle cx="455.11" cy="166.62" r="4.50" fill="none" stroke="#00c000" stroke-width="1.05"/><circle cx="455.11" cy="166.62" r="0.45" fill="#00c000" fill-opacity="0.6"/><circle cx="464.23" cy="166.66" r="4.50" fill="none" stroke="#00c000" stroke-width="1.05"/><circle cx="464.23" cy="166.66" r="0.45" fill="#00c000" fill-opacity="0.6"/><circle cx="473.35" cy="166.74" r="4.50" fill="none" stroke="#00c000" stroke-width="1.05"/><circle cx="473.35" cy="166.74" r="0.45" fill="#00c000" fill-opacity="0.6"/><circle cx="482.47" cy="166.87" r="4.50" fill="none" stroke="#00c000" stroke-width="1.05"/><circle cx="482.47" cy="166.87" r="0.45" fill="#00c000" fill-opacity="0.6"/><circle cx="491.59" cy="167.45" r="4.50" fill="none" stroke="#00c000" stroke-width="1.05"/><circle cx="491.59" cy="167.45" r="0.45" fill="#00c000" fill-opacity="0.6"/><circle cx="500.71" cy="168.48" r="4.50" fill="none" stroke="#00c000" stroke-width="1.05"/><circle cx="500.71" cy="168.48" r="0.45" fill="#00c000" fill-opacity="0.6"/><circle cx="509.83" cy="169.75" r="4.50" fill="none" stroke="#00c000" stroke-width="1.05"/><circle cx="509.83" cy="169.75" r="0.45" fill="#00c000" fill-opacity="0.6"/><circle cx="518.95" cy="171.70" r="4.50" fill="none" stroke="#00c000" stroke-width="1.05"/><circle cx="518.95" cy="171.70" r="0.45" fill="#00c000" fill-opacity="0.6"/><circle cx="528.07" cy="174.36" r="4.50" fill="none" stroke="#00c000" stroke-width="1.05"/><circle cx="528.07" cy="174.36" r="0.45" fill="#00c000" fill-opacity="0.6"/><circle cx="537.19" cy="177.74" r="4.50" fill="none" stroke="#00c000" stroke-width="1.05"/><circle cx="537.19" cy="177.74" r="0.45" fill="#00c000" fill-opacity="0.6"/><circle cx="546.31" cy="181.86" r="4.50" fill="none" stroke="#00c000" stroke-width="1.05"/><circle cx="546.31" cy="181.86" r="0.45" fill="#00c000" fill-opacity="0.6"/><circle cx="555.43" cy="186.71" r="4.50" fill="none" stroke="#00c000" stroke-width="1.05"/><circle cx="555.43" cy="186.71" r="0.45" fill="#00c000" fill-opacity="0.6"/><circle cx="564.55" cy="192.29" r="4.50" fill="none" stroke="#00c000" stroke-width="1.05"/><circle cx="564.55" cy="192.29" r="0.45" fill="#00c000" fill-opacity="0.6"/><circle cx="573.67" cy="198.53" r="4.50" fill="none" stroke="#00c000" stroke-width="1.05"/><circle cx="573.67" cy="198.53" r="0.45" fill="#00c000" fill-opacity="0.6"/><circle cx="582.79" cy="205.42" r="4.50" fill="none" stroke="#00c000" stroke-width="1.05"/><circle cx="582.79" cy="205.42" r="0.45" fill="#00c000" fill-opacity="0.6"/><circle cx="591.91" cy="213.05" r="4.50" fill="none" stroke="#00c000" stroke-width="1.05"/><circle cx="591.91" cy="213.05" r="0.45" fill="#00c000" fill-opacity="0.6"/><circle cx="601.03" cy="221.43" r="4.50" fill="none" stroke="#00c000" stroke-width="1.05"/><circle cx="601.03" cy="221.43" r="0.45" fill="#00c000" fill-opacity="0.6"/><circle cx="610.15" cy="230.54" r="4.50" fill="none" stroke="#00c000" stroke-width="1.05"/><circle cx="610.15" cy="230.54" r="0.45" fill="#00c000" fill-opacity="0.6"/><circle cx="619.27" cy="240.35" r="4.50" fill="none" stroke="#00c000" stroke-width="1.05"/><circle cx="619.27" cy="240.35" r="0.45" fill="#00c000" fill-opacity="0.6"/><circle cx="628.39" cy="250.86" r="4.50" fill="none" stroke="#00c000" stroke-width="1.05"/><circle cx="628.39" cy="250.86" r="0.45" fill="#00c000" fill-opacity="0.6"/><circle cx="637.51" cy="262.11" r="4.50" fill="none" stroke="#00c000" stroke-width="1.05"/><circle cx="637.51" cy="262.11" r="0.45" fill="#00c000" fill-opacity="0.6"/><circle cx="646.63" cy="274.11" r="4.50" fill="none" stroke="#00c000" stroke-width="1.05"/><circle cx="646.63" cy="274.11" r="0.45" fill="#00c000" fill-opacity="0.6"/><circle cx="655.75" cy="286.84" r="4.50" fill="none" stroke="#00c000" stroke-width="1.05"/><circle cx="655.75" cy="286.84" r="0.45" fill="#00c000" fill-opacity="0.6"/><circle cx="664.87" cy="300.33" r="4.50" fill="none" stroke="#00c000" stroke-width="1.05"/><circle cx="664.87" cy="300.33" r="0.45" fill="#00c000" fill-opacity="0.6"/><circle cx="673.99" cy="314.55" r="4.50" fill="none" stroke="#00c000" stroke-width="1.05"/><circle cx="673.99" cy="314.55" r="0.45" fill="#00c000" fill-opacity="0.6"/><circle cx="683.11" cy="329.64" r="4.50" fill="none" stroke="#00c000" stroke-width="1.05"/><circle cx="683.11" cy="329.64" r="0.45" fill="#00c000" fill-opacity="0.6"/><circle cx="692.23" cy="345.49" r="4.50" fill="none" stroke="#00c000" stroke-width="1.05"/><circle cx="692.23" cy="345.49" r="0.45" fill="#00c000" fill-opacity="0.6"/><circle cx="701.35" cy="362.08" r="4.50" fill="none" stroke="#00c000" stroke-width="1.05"/><circle cx="701.35" cy="362.08" r="0.45" fill="#00c000" fill-opacity="0.6"/><circle cx="710.47" cy="379.41" r="4.50" fill="none" stroke="#00c000" stroke-width="1.05"/><circle cx="710.47" cy="379.41" r="0.45" fill="#00c000" fill-opacity="0.6"/><circle cx="719.59" cy="397.46" r="4.50" fill="none" stroke="#00c000" stroke-width="1.05"/><circle cx="719.59" cy="397.46" r="0.45" fill="#00c000" fill-opacity="0.6"/><circle cx="728.71" cy="416.27" r="4.50" fill="none" stroke="#00c000" stroke-width="1.05"/><circle cx="728.71" cy="416.27" r="0.45" fill="#00c000" fill-opacity="0.6"/><circle cx="737.83" cy="432.49" r="4.50" fill="none" stroke="#00c000" stroke-width="1.05"/><circle cx="737.83" cy="432.49" r="0.45" fill="#00c000" fill-opacity="0.6"/>
<path d="M126.79 427.45 l-4.50 7.29 h9.00 z" fill="none" stroke="#ff00ff" stroke-width="1.05"/><circle cx="126.79" cy="432.49" r="0.45" fill="#ff00ff" fill-opacity="0.6"/><path d="M135.91 413.30 l-4.50 7.29 h9.00 z" fill="none" stroke="#ff00ff" stroke-width="1.05"/><circle cx="135.91" cy="418.34" r="0.45" fill="#ff00ff" fill-opacity="0.6"/><path d="M145.03 395.57 l-4.50 7.29 h9.00 z" fill="none" stroke="#ff00ff" stroke-width="1.05"/><circle cx="145.03" cy="400.61" r="0.45" fill="#ff00ff" fill-opacity="0.6"/><path d="M154.15 378.54 l-4.50 7.29 h9.00 z" fill="none" stroke="#ff00ff" stroke-width="1.05"/><circle cx="154.15" cy="383.58" r="0.45" fill="#ff00ff" fill-opacity="0.6"/><path d="M163.27 361.66 l-4.50 7.29 h9.00 z" fill="none" stroke="#ff00ff" stroke-width="1.05"/><circle cx="163.27" cy="366.70" r="0.45" fill="#ff00ff" fill-opacity="0.6"/><path d="M172.39 345.52 l-4.50 7.29 h9.00 z" fill="none" stroke="#ff00ff" stroke-width="1.05"/><circle cx="172.39" cy="350.56" r="0.45" fill="#ff00ff" fill-opacity="0.6"/><path d="M181.51 329.92 l-4.50 7.29 h9.00 z" fill="none" stroke="#ff00ff" stroke-width="1.05"/><circle cx="181.51" cy="334.96" r="0.45" fill="#ff00ff" fill-opacity="0.6"/><path d="M190.63 315.07 l-4.50 7.29 h9.00 z" fill="none" stroke="#ff00ff" stroke-width="1.05"/><circle cx="190.63" cy="320.11" r="0.45" fill="#ff00ff" fill-opacity="0.6"/><path d="M199.75 300.58 l-4.50 7.29 h9.00 z" fill="none" stroke="#ff00ff" stroke-width="1.05"/><circle cx="199.75" cy="305.62" r="0.45" fill="#ff00ff" fill-opacity="0.6"/><path d="M208.87 286.83 l-4.50 7.29 h9.00 z" fill="none" stroke="#ff00ff" stroke-width="1.05"/><circle cx="208.87" cy="291.87" r="0.45" fill="#ff00ff" fill-opacity="0.6"/><path d="M217.99 273.83 l-4.50 7.29 h9.00 z" fill="none" stroke="#ff00ff" stroke-width="1.05"/><circle cx="217.99" cy="278.87" r="0.45" fill="#ff00ff" fill-opacity="0.6"/><path d="M227.11 261.58 l-4.50 7.29 h9.00 z" fill="none" stroke="#ff00ff" stroke-width="1.05"/><circle cx="227.11" cy="266.62" r="0.45" fill="#ff00ff" fill-opacity="0.6"/><path d="M236.23 250.07 l-4.50 7.29 h9.00 z" fill="none" stroke="#ff00ff" stroke-width="1.05"/><circle cx="236.23" cy="255.11" r="0.45" fill="#ff00ff" fill-opacity="0.6"/><path d="M245.35 239.30 l-4.50 7.29 h9.00 z" fill="none" stroke="#ff00ff" stroke-width="1.05"/><circle cx="245.35" cy="244.34" r="0.45" fill="#ff00ff" fill-opacity="0.6"/><path d="M254.47 229.27 l-4.50 7.29 h9.00 z" fill="none" stroke="#ff00ff" stroke-width="1.05"/><circle cx="254.47" cy="234.31" r="0.45" fill="#ff00ff" fill-opacity="0.6"/><path d="M263.59 219.98 l-4.50 7.29 h9.00 z" fill="none" stroke="#ff00ff" stroke-width="1.05"/><circle cx="263.59" cy="225.02" r="0.45" fill="#ff00ff" fill-opacity="0.6"/><path d="M272.71 211.43 l-4.50 7.29 h9.00 z" fill="none" stroke="#ff00ff" stroke-width="1.05"/><circle cx="272.71" cy="216.47" r="0.45" fill="#ff00ff" fill-opacity="0.6"/><path d="M281.83 203.63 l-4.50 7.29 h9.00 z" fill="none" stroke="#ff00ff" stroke-width="1.05"/><circle cx="281.83" cy="208.67" r="0.45" fill="#ff00ff" fill-opacity="0.6"/><path d="M290.95 196.57 l-4.50 7.29 h9.00 z" fill="none" stroke="#ff00ff" stroke-width="1.05"/><circle cx="290.95" cy="201.61" r="0.45" fill="#ff00ff" fill-opacity="0.6"/><path d="M300.07 190.26 l-4.50 7.29 h9.00 z" fill="none" stroke="#ff00ff" stroke-width="1.05"/><circle cx="300.07" cy="195.30" r="0.45" fill="#ff00ff" fill-opacity="0.6"/><path d="M309.19 184.64 l-4.50 7.29 h9.00 z" fill="none" stroke="#ff00ff" stroke-width="1.05"/><circle cx="309.19" cy="189.68" r="0.45" fill="#ff00ff" fill-opacity="0.6"/><path d="M318.31 179.76 l-4.50 7.29 h9.00 z" fill="none" stroke="#ff00ff" stroke-width="1.05"/><circle cx="318.31" cy="184.80" r="0.45" fill="#ff00ff" fill-opacity="0.6"/><path d="M327.43 175.63 l-4.50 7.29 h9.00 z" fill="none" stroke="#ff00ff" stroke-width="1.05"/><circle cx="327.43" cy="180.67" r="0.45" fill="#ff00ff" fill-opacity="0.6"/><path d="M336.55 172.25 l-4.50 7.29 h9.00 z" fill="none" stroke="#ff00ff" stroke-width="1.05"/><circle cx="336.55" cy="177.29" r="0.45" fill="#ff00ff" fill-opacity="0.6"/><path d="M345.67 169.55 l-4.50 7.29 h9.00 z" fill="none" stroke="#ff00ff" stroke-width="1.05"/><circle cx="345.67" cy="174.59" r="0.45" fill="#ff00ff" fill-opacity="0.6"/><path d="M354.79 167.60 l-4.50 7.29 h9.00 z" fill="none" stroke="#ff00ff" stroke-width="1.05"/><circle cx="354.79" cy="172.64" r="0.45" fill="#ff00ff" fill-opacity="0.6"/><path d="M363.91 166.28 l-4.50 7.29 h9.00 z" fill="none" stroke="#ff00ff" stroke-width="1.05"/><circle cx="363.91" cy="171.32" r="0.45" fill="#ff00ff" fill-opacity="0.6"/><path d="M373.03 165.64 l-4.50 7.29 h9.00 z" fill="none" stroke="#ff00ff" stroke-width="1.05"/><circle cx="373.03" cy="170.68" r="0.45" fill="#ff00ff" fill-opacity="0.6"/><path d="M382.15 164.84 l-4.50 7.29 h9.00 z" fill="none" stroke="#ff00ff" stroke-width="1.05"/><circle cx="382.15" cy="169.88" r="0.45" fill="#ff00ff" fill-opacity="0.6"/><path d="M391.27 164.83 l-4.50 7.29 h9.00 z" fill="none" stroke="#ff00ff" stroke-width="1.05"/><circle cx="391.27" cy="169.87" r="0.45" fill="#ff00ff" fill-opacity="0.6"/><path d="M400.39 164.82 l-4.50 7.29 h9.00 z" fill="none" stroke="#ff00ff" stroke-width="1.05"/><circle cx="400.39" cy="169.86" r="0.45" fill="#ff00ff" fill-opacity="0.6"/><path d="M409.51 164.82 l-4.50 7.29 h9.00 z" fill="none" stroke="#ff00ff" stroke-width="1.05"/><circle cx="409.51" cy="169.86" r="0.45" fill="#ff00ff" fill-opacity="0.6"/><path d="M418.63 164.81 l-4.50 7.29 h9.00 z" fill="none" stroke="#ff00ff" stroke-width="1.05"/><circle cx="418.63" cy="169.85" r="0.45" fill="#ff00ff" fill-opacity="0.6"/><path d="M427.75 164.81 l-4.50 7.29 h9.00 z" fill="none" stroke="#ff00ff" stroke-width="1.05"/><circle cx="427.75" cy="169.85" r="0.45" fill="#ff00ff" fill-opacity="0.6"/><path d="M436.87 164.81 l-4.50 7.29 h9.00 z" fill="none" stroke="#ff00ff" stroke-width="1.05"/><circle cx="436.87" cy="169.85" r="0.45" fill="#ff00ff" fill-opacity="0.6"/><path d="M445.99 164.81 l-4.50 7.29 h9.00 z" fill="none" stroke="#ff00ff" stroke-width="1.05"/><circle cx="445.99" cy="169.85" r="0.45" fill="#ff00ff" fill-opacity="0.6"/><path d="M455.11 164.82 l-4.50 7.29 h9.00 z" fill="none" stroke="#ff00ff" stroke-width="1.05"/><circle cx="455.11" cy="169.86" r="0.45" fill="#ff00ff" fill-opacity="0.6"/><path d="M464.23 164.82 l-4.50 7.29 h9.00 z" fill="none" stroke="#ff00ff" stroke-width="1.05"/><circle cx="464.23" cy="169.86" r="0.45" fill="#ff00ff" fill-opacity="0.6"/><path d="M473.35 164.83 l-4.50 7.29 h9.00 z" fill="none" stroke="#ff00ff" stroke-width="1.05"/><circle cx="473.35" cy="169.87" r="0.45" fill="#ff00ff" fill-opacity="0.6"/><path d="M482.47 164.84 l-4.50 7.29 h9.00 z" fill="none" stroke="#ff00ff" stroke-width="1.05"/><circle cx="482.47" cy="169.88" r="0.45" fill="#ff00ff" fill-opacity="0.6"/><path d="M491.59 165.64 l-4.50 7.29 h9.00 z" fill="none" stroke="#ff00ff" stroke-width="1.05"/><circle cx="491.59" cy="170.68" r="0.45" fill="#ff00ff" fill-opacity="0.6"/><path d="M500.71 166.28 l-4.50 7.29 h9.00 z" fill="none" stroke="#ff00ff" stroke-width="1.05"/><circle cx="500.71" cy="171.32" r="0.45" fill="#ff00ff" fill-opacity="0.6"/><path d="M509.83 167.60 l-4.50 7.29 h9.00 z" fill="none" stroke="#ff00ff" stroke-width="1.05"/><circle cx="509.83" cy="172.64" r="0.45" fill="#ff00ff" fill-opacity="0.6"/><path d="M518.95 169.55 l-4.50 7.29 h9.00 z" fill="none" stroke="#ff00ff" stroke-width="1.05"/><circle cx="518.95" cy="174.59" r="0.45" fill="#ff00ff" fill-opacity="0.6"/><path d="M528.07 172.25 l-4.50 7.29 h9.00 z" fill="none" stroke="#ff00ff" stroke-width="1.05"/><circle cx="528.07" cy="177.29" r="0.45" fill="#ff00ff" fill-opacity="0.6"/><path d="M537.19 175.63 l-4.50 7.29 h9.00 z" fill="none" stroke="#ff00ff" stroke-width="1.05"/><circle cx="537.19" cy="180.67" r="0.45" fill="#ff00ff" fill-opacity="0.6"/><path d="M546.31 179.76 l-4.50 7.29 h9.00 z" fill="none" stroke="#ff00ff" stroke-width="1.05"/><circle cx="546.31" cy="184.80" r="0.45" fill="#ff00ff" fill-opacity="0.6"/><path d="M555.43 184.64 l-4.50 7.29 h9.00 z" fill="none" stroke="#ff00ff" stroke-width="1.05"/><circle cx="555.43" cy="189.68" r="0.45" fill="#ff00ff" fill-opacity="0.6"/><path d="M564.55 190.26 l-4.50 7.29 h9.00 z" fill="none" stroke="#ff00ff" stroke-width="1.05"/><circle cx="564.55" cy="195.30" r="0.45" fill="#ff00ff" fill-opacity="0.6"/><path d="M573.67 196.57 l-4.50 7.29 h9.00 z" fill="none" stroke="#ff00ff" stroke-width="1.05"/><circle cx="573.67" cy="201.61" r="0.45" fill="#ff00ff" fill-opacity="0.6"/><path d="M582.79 203.63 l-4.50 7.29 h9.00 z" fill="none" stroke="#ff00ff" stroke-width="1.05"/><circle cx="582.79" cy="208.67" r="0.45" fill="#ff00ff" fill-opacity="0.6"/><path d="M591.91 211.43 l-4.50 7.29 h9.00 z" fill="none" stroke="#ff00ff" stroke-width="1.05"/><circle cx="591.91" cy="216.47" r="0.45" fill="#ff00ff" fill-opacity="0.6"/><path d="M601.03 219.98 l-4.50 7.29 h9.00 z" fill="none" stroke="#ff00ff" stroke-width="1.05"/><circle cx="601.03" cy="225.02" r="0.45" fill="#ff00ff" fill-opacity="0.6"/><path d="M610.15 229.27 l-4.50 7.29 h9.00 z" fill="none" stroke="#ff00ff" stroke-width="1.05"/><circle cx="610.15" cy="234.31" r="0.45" fill="#ff00ff" fill-opacity="0.6"/><path d="M619.27 239.30 l-4.50 7.29 h9.00 z" fill="none" stroke="#ff00ff" stroke-width="1.05"/><circle cx="619.27" cy="244.34" r="0.45" fill="#ff00ff" fill-opacity="0.6"/><path d="M628.39 250.07 l-4.50 7.29 h9.00 z" fill="none" stroke="#ff00ff" stroke-width="1.05"/><circle cx="628.39" cy="255.11" r="0.45" fill="#ff00ff" fill-opacity="0.6"/><path d="M637.51 261.58 l-4.50 7.29 h9.00 z" fill="none" stroke="#ff00ff" stroke-width="1.05"/><circle cx="637.51" cy="266.62" r="0.45" fill="#ff00ff" fill-opacity="0.6"/><path d="M646.63 273.83 l-4.50 7.29 h9.00 z" fill="none" stroke="#ff00ff" stroke-width="1.05"/><circle cx="646.63" cy="278.87" r="0.45" fill="#ff00ff" fill-opacity="0.6"/><path d="M655.75 286.83 l-4.50 7.29 h9.00 z" fill="none" stroke="#ff00ff" stroke-width="1.05"/><circle cx="655.75" cy="291.87" r="0.45" fill="#ff00ff" fill-opacity="0.6"/><path d="M664.87 300.58 l-4.50 7.29 h9.00 z" fill="none" stroke="#ff00ff" stroke-width="1.05"/><circle cx="664.87" cy="305.62" r="0.45" fill="#ff00ff" fill-opacity="0.6"/><path d="M673.99 315.07 l-4.50 7.29 h9.00 z" fill="none" stroke="#ff00ff" stroke-width="1.05"/><circle cx="673.99" cy="320.11" r="0.45" fill="#ff00ff" fill-opacity="0.6"/><path d="M683.11 329.92 l-4.50 7.29 h9.00 z" fill="none" stroke="#ff00ff" stroke-width="1.05"/><circle cx="683.11" cy="334.96" r="0.45" fill="#ff00ff" fill-opacity="0.6"/><path d="M692.23 345.52 l-4.50 7.29 h9.00 z" fill="none" stroke="#ff00ff" stroke-width="1.05"/><circle cx="692.23" cy="350.56" r="0.45" fill="#ff00ff" fill-opacity="0.6"/><path d="M701.35 361.66 l-4.50 7.29 h9.00 z" fill="none" stroke="#ff00ff" stroke-width="1.05"/><circle cx="701.35" cy="366.70" r="0.45" fill="#ff00ff" fill-opacity="0.6"/><path d="M710.47 378.54 l-4.50 7.29 h9.00 z" fill="none" stroke="#ff00ff" stroke-width="1.05"/><circle cx="710.47" cy="383.58" r="0.45" fill="#ff00ff" fill-opacity="0.6"/><path d="M719.59 395.57 l-4.50 7.29 h9.00 z" fill="none" stroke="#ff00ff" stroke-width="1.05"/><circle cx="719.59" cy="400.61" r="0.45" fill="#ff00ff" fill-opacity="0.6"/><path d="M728.71 413.30 l-4.50 7.29 h9.00 z" fill="none" stroke="#ff00ff" stroke-width="1.05"/><circle cx="728.71" cy="418.34" r="0.45" fill="#ff00ff" fill-opacity="0.6"/><path d="M737.83 427.45 l-4.50 7.29 h9.00 z" fill="none" stroke="#ff00ff" stroke-width="1.05"/><circle cx="737.83" cy="432.49" r="0.45" fill="#ff00ff" fill-opacity="0.6"/>
<path d="M128.06 432.49 L128.82 430.42 L129.58 428.36 L130.34 426.30 L131.10 424.25 L131.86 422.21 L132.62 420.17 L133.38 418.13 L134.14 416.10 L134.90 414.07 L135.66 412.05 L136.42 410.04 L137.18 408.03 L137.94 406.02 L138.70 404.02 L139.46 402.03 L140.22 400.04 L140.98 398.05 L141.74 396.07 L142.50 394.10 L143.26 392.13 L144.02 390.17 L144.78 388.21 L145.54 386.26 L146.30 384.31 L147.06 382.37 L147.82 380.43 L148.58 378.50 L149.34 376.57 L150.10 374.65 L150.86 372.73 L151.62 370.82 L152.38 368.91 L153.14 367.01 L153.90 365.11 L154.66 363.22 L155.42 361.34 L156.18 359.46 L156.94 357.58 L157.70 355.71 L158.46 353.84 L159.22 351.98 L159.98 350.13 L160.74 348.28 L161.50 346.43 L162.26 344.60 L163.02 342.76 L163.78 340.93 L164.54 339.11 L165.30 337.29 L166.06 335.48 L166.82 333.67 L167.58 331.86 L168.34 330.07 L169.10 328.27 L169.86 326.49 L170.62 324.70 L171.38 322.93 L172.14 321.15 L172.90 319.39 L173.66 317.63 L174.42 315.87 L175.18 314.12 L175.94 312.37 L176.70 310.63 L177.46 308.89 L178.22 307.16 L178.98 305.44 L179.74 303.72 L180.50 302.00 L181.26 300.29 L182.02 298.59 L182.78 296.89 L183.54 295.19 L184.30 293.50 L185.06 291.82 L185.82 290.14 L186.58 288.47 L187.34 286.80 L188.10 285.14 L188.86 283.48 L189.62 281.82 L190.38 280.18 L191.14 278.53 L191.90 276.90 L192.66 275.26 L193.42 273.64 L194.18 272.01 L194.94 270.40 L195.70 268.79 L196.46 267.18 L197.22 265.58 L197.98 263.98 L198.74 262.39 L199.50 260.80 L200.26 259.22 L201.02 257.65 L201.78 256.08 L202.54 254.51 L203.30 252.95 L204.06 251.40 L204.82 249.85 L205.58 248.30 L206.34 246.76 L207.10 245.23 L207.86 243.70 L208.62 242.18 L209.38 240.66 L210.14 239.15 L210.90 237.64 L211.66 236.13 L212.42 234.64 L213.18 233.14 L213.94 231.66 L214.70 230.17 L215.46 228.70 L216.22 227.22 L216.98 225.76 L217.74 224.30 L218.50 222.84 L219.26 221.39 L220.02 219.94 L220.78 218.50 L221.54 217.07 L222.30 215.63 L223.06 214.21 L223.82 212.79 L224.58 211.37 L225.34 209.96 L226.10 208.56 L226.86 207.16 L227.62 205.77 L228.38 204.38 L229.14 202.99 L229.90 201.61 L230.66 200.24 L231.42 198.87 L232.18 197.51 L232.94 196.15 L233.70 194.80 L234.46 193.45 L235.22 192.11 L235.98 190.77 L236.74 189.44 L237.50 188.11 L238.26 186.79 L239.02 185.47 L239.78 184.16 L240.54 182.85 L241.30 181.55 L242.06 180.25 L242.82 178.96 L243.58 177.68 L244.34 176.40 L245.10 175.12 L245.86 173.85 L246.62 172.59 L247.38 171.33 L248.14 170.07 L248.90 168.82 L249.66 167.58 L250.42 166.34 L251.18 165.10 L251.94 163.88 L252.70 162.65 L253.46 161.43 L254.22 160.22 L254.98 159.01 L255.74 157.81 L256.50 156.61 L257.26 155.42 L258.02 154.23 L258.78 153.05 L259.54 151.87 L260.30 150.70 L261.06 149.53 L261.82 148.37 L262.58 147.22 L263.34 146.06 L264.10 144.92 L264.86 143.78 L265.62 142.64 L266.38 141.51 L267.14 140.39 L267.90 139.27 L268.66 138.15 L269.42 137.04 L270.18 135.94 L270.94 134.84 L271.70 133.74 L272.46 132.65 L273.22 131.57 L273.98 130.49 L274.74 129.42 L275.50 128.35 L276.26 127.28 L277.02 126.23 L277.78 125.17 L278.54 124.13 L279.30 123.08 L280.06 122.05 L280.82 121.01 L281.58 119.99 L282.34 118.97 L283.10 117.95 L283.86 116.94 L284.62 115.93 L285.38 114.93 L286.14 113.93 L286.90 112.94 L287.66 111.96 L288.42 110.98 L289.18 110.00 L289.94 109.03 L290.70 108.07 L291.46 107.11 L292.22 106.15 L292.98 105.20 L293.74 104.26 L294.50 103.32 L295.26 102.38 L296.02 101.46 L296.78 100.53 L297.54 99.61 L298.30 98.70 L299.06 97.79 L299.82 96.89 L300.58 95.99 L301.34 95.10 L302.10 94.21 L302.86 93.33 L303.62 92.45 L304.38 91.58 L305.14 90.71 L305.90 89.85 L306.66 89.00 L307.42 88.15 L308.18 87.30 L308.94 86.46 L309.70 85.62 L310.46 84.79 L311.22 83.97 L311.98 83.15 L312.74 82.33 L313.50 81.52 L314.26 80.72 L315.02 79.92 L315.78 79.12 L316.54 78.34 L317.30 77.55 L318.06 76.77 L318.82 76.00 L319.58 75.23 L320.34 74.47 L321.10 73.71 L321.86 72.96 L322.62 72.21 L323.38 71.47 L324.14 70.73 L324.90 70.00 L325.66 69.27 L326.42 68.55 L327.18 67.83 L327.94 67.12 L328.70 66.41 L329.46 65.71 L330.22 65.02 L330.98 64.33 L331.74 63.64 L332.50 62.96 L333.26 62.29 L334.02 61.62 L334.78 60.95 L335.54 60.29 L336.30 59.64 L337.06 58.99 L337.82 58.34 L338.58 57.70 L339.34 57.07 L340.10 56.44 L340.86 55.82 L341.62 55.20 L342.38 54.59 L343.14 53.98 L343.90 53.38 L344.66 52.78 L345.42 52.19 L346.18 51.60 L346.94 51.02 L347.70 50.44 L348.46 49.87 L349.22 49.30 L349.98 48.74 L350.74 48.18 L351.50 47.63 L352.26 47.09 L353.02 46.55 L353.78 46.01 L354.54 45.48 L355.30 44.96 L356.06 44.44 L356.82 43.92 L357.58 43.41 L358.34 42.91 L359.10 42.41 L359.86 41.91 L360.62 41.42 L361.38 40.94 L362.14 40.46 L362.90 39.99 L363.66 39.52 L364.42 39.06 L365.18 38.60 L365.94 38.15 L366.70 37.70 L367.46 37.26 L368.22 36.82 L368.98 36.39 L369.74 35.96 L370.50 35.54 L371.26 35.12 L372.02 34.71 L372.78 34.30 L373.54 33.90 L374.30 33.51 L375.06 33.12 L375.82 32.73 L376.58 32.35 L377.34 31.98 L378.10 31.61 L378.86 31.24 L379.62 30.88 L380.38 30.53 L381.14 30.18 L381.90 29.83 L382.66 29.50 L383.42 29.16 L384.18 28.83 L384.94 28.51 L385.70 28.19 L386.46 27.88 L387.22 27.57 L387.98 27.27 L388.74 26.97 L389.50 26.68 L390.26 26.39 L391.02 26.11 L391.78 25.83 L392.54 25.56 L393.30 25.29 L394.06 25.03 L394.82 24.78 L395.58 24.53 L396.34 24.28 L397.10 24.04 L397.86 23.80 L398.62 23.57 L399.38 23.35 L400.14 23.13 L400.90 22.91 L401.66 22.70 L402.42 22.50 L403.18 22.30 L403.94 22.11 L404.70 21.92 L405.46 21.73 L406.22 21.56 L406.98 21.38 L407.74 21.21 L408.50 21.05 L409.26 20.89 L410.02 20.74 L410.78 20.59 L411.54 20.45 L412.30 20.31 L413.06 20.18 L413.82 20.06 L414.58 19.93 L415.34 19.82 L416.10 19.71 L416.86 19.60 L417.62 19.50 L418.38 19.40 L419.14 19.31 L419.90 19.23 L420.66 19.15 L421.42 19.07 L422.18 19.00 L422.94 18.94 L423.70 18.88 L424.46 18.82 L425.22 18.77 L425.98 18.73 L426.74 18.69 L427.50 18.66 L428.26 18.63 L429.02 18.61 L429.78 18.59 L430.54 18.58 L431.30 18.57 L432.06 18.56 L432.82 18.57 L433.58 18.58 L434.34 18.59 L435.10 18.61 L435.86 18.63 L436.62 18.66 L437.38 18.69 L438.14 18.73 L438.90 18.77 L439.66 18.82 L440.42 18.88 L441.18 18.94 L441.94 19.00 L442.70 19.07 L443.46 19.15 L444.22 19.23 L444.98 19.31 L445.74 19.40 L446.50 19.50 L447.26 19.60 L448.02 19.71 L448.78 19.82 L449.54 19.93 L450.30 20.06 L451.06 20.18 L451.82 20.31 L452.58 20.45 L453.34 20.59 L454.10 20.74 L454.86 20.89 L455.62 21.05 L456.38 21.21 L457.14 21.38 L457.90 21.56 L458.66 21.73 L459.42 21.92 L460.18 22.11 L460.94 22.30 L461.70 22.50 L462.46 22.70 L463.22 22.91 L463.98 23.13 L464.74 23.35 L465.50 23.57 L466.26 23.80 L467.02 24.04 L467.78 24.28 L468.54 24.53 L469.30 24.78 L470.06 25.03 L470.82 25.29 L471.58 25.56 L472.34 25.83 L473.10 26.11 L473.86 26.39 L474.62 26.68 L475.38 26.97 L476.14 27.27 L476.90 27.57 L477.66 27.88 L478.42 28.19 L479.18 28.51 L479.94 28.83 L480.70 29.16 L481.46 29.50 L482.22 29.83 L482.98 30.18 L483.74 30.53 L484.50 30.88 L485.26 31.24 L486.02 31.61 L486.78 31.98 L487.54 32.35 L488.30 32.73 L489.06 33.12 L489.82 33.51 L490.58 33.90 L491.34 34.30 L492.10 34.71 L492.86 35.12 L493.62 35.54 L494.38 35.96 L495.14 36.39 L495.90 36.82 L496.66 37.26 L497.42 37.70 L498.18 38.15 L498.94 38.60 L499.70 39.06 L500.46 39.52 L501.22 39.99 L501.98 40.46 L502.74 40.94 L503.50 41.42 L504.26 41.91 L505.02 42.41 L505.78 42.91 L506.54 43.41 L507.30 43.92 L508.06 44.44 L508.82 44.96 L509.58 45.48 L510.34 46.01 L511.10 46.55 L511.86 47.09 L512.62 47.63 L513.38 48.18 L514.14 48.74 L514.90 49.30 L515.66 49.87 L516.42 50.44 L517.18 51.02 L517.94 51.60 L518.70 52.19 L519.46 52.78 L520.22 53.38 L520.98 53.98 L521.74 54.59 L522.50 55.20 L523.26 55.82 L524.02 56.44 L524.78 57.07 L525.54 57.70 L526.30 58.34 L527.06 58.99 L527.82 59.64 L528.58 60.29 L529.34 60.95 L530.10 61.62 L530.86 62.29 L531.62 62.96 L532.38 63.64 L533.14 64.33 L533.90 65.02 L534.66 65.71 L535.42 66.41 L536.18 67.12 L536.94 67.83 L537.70 68.55 L538.46 69.27 L539.22 70.00 L539.98 70.73 L540.74 71.47 L541.50 72.21 L542.26 72.96 L543.02 73.71 L543.78 74.47 L544.54 75.23 L545.30 76.00 L546.06 76.77 L546.82 77.55 L547.58 78.34 L548.34 79.12 L549.10 79.92 L549.86 80.72 L550.62 81.52 L551.38 82.33 L552.14 83.15 L552.90 83.97 L553.66 84.79 L554.42 85.62 L555.18 86.46 L555.94 87.30 L556.70 88.15 L557.46 89.00 L558.22 89.85 L558.98 90.71 L559.74 91.58 L560.50 92.45 L561.26 93.33 L562.02 94.21 L562.78 95.10 L563.54 95.99 L564.30 96.89 L565.06 97.79 L565.82 98.70 L566.58 99.61 L567.34 100.53 L568.10 101.46 L568.86 102.38 L569.62 103.32 L570.38 104.26 L571.14 105.20 L571.90 106.15 L572.66 107.11 L573.42 108.07 L574.18 109.03 L574.94 110.00 L575.70 110.98 L576.46 111.96 L577.22 112.94 L577.98 113.93 L578.74 114.93 L579.50 115.93 L580.26 116.94 L581.02 117.95 L581.78 118.97 L582.54 119.99 L583.30 121.01 L584.06 122.05 L584.82 123.08 L585.58 124.13 L586.34 125.17 L587.10 126.23 L587.86 127.28 L588.62 128.35 L589.38 129.42 L590.14 130.49 L590.90 131.57 L591.66 132.65 L592.42 133.74 L593.18 134.84 L593.94 135.94 L594.70 137.04 L595.46 138.15 L596.22 139.27 L596.98 140.39 L597.74 141.51 L598.50 142.64 L599.26 143.78 L600.02 144.92 L600.78 146.06 L601.54 147.22 L602.30 148.37 L603.06 149.53 L603.82 150.70 L604.58 151.87 L605.34 153.05 L606.10 154.23 L606.86 155.42 L607.62 156.61 L608.38 157.81 L609.14 159.01 L609.90 160.22 L610.66 161.43 L611.42 162.65 L612.18 163.88 L612.94 165.10 L613.70 166.34 L614.46 167.58 L615.22 168.82 L615.98 170.07 L616.74 171.33 L617.50 172.59 L618.26 173.85 L619.02 175.12 L619.78 176.40 L620.54 177.68 L621.30 178.96 L622.06 180.25 L622.82 181.55 L623.58 182.85 L624.34 184.16 L625.10 185.47 L625.86 186.79 L626.62 188.11 L627.38 189.44 L628.14 190.77 L628.90 192.11 L629.66 193.45 L630.42 194.80 L631.18 196.15 L631.94 197.51 L632.70 198.87 L633.46 200.24 L634.22 201.61 L634.98 202.99 L635.74 204.38 L636.50 205.77 L637.26 207.16 L638.02 208.56 L638.78 209.96 L639.54 211.37 L640.30 212.79 L641.06 214.21 L641.82 215.63 L642.58 217.07 L643.34 218.50 L644.10 219.94 L644.86 221.39 L645.62 222.84 L646.38 224.30 L647.14 225.76 L647.90 227.22 L648.66 228.70 L649.42 230.17 L650.18 231.66 L650.94 233.14 L651.70 234.64 L652.46 236.13 L653.22 237.64 L653.98 239.15 L654.74 240.66 L655.50 242.18 L656.26 243.70 L657.02 245.23 L657.78 246.76 L658.54 248.30 L659.30 249.85 L660.06 251.40 L660.82 252.95 L661.58 254.51 L662.34 256.08 L663.10 257.65 L663.86 259.22 L664.62 260.80 L665.38 262.39 L666.14 263.98 L666.90 265.58 L667.66 267.18 L668.42 268.79 L669.18 270.40 L669.94 272.01 L670.70 273.64 L671.46 275.26 L672.22 276.90 L672.98 278.53 L673.74 280.18 L674.50 281.82 L675.26 283.48 L676.02 285.14 L676.78 286.80 L677.54 288.47 L678.30 290.14 L679.06 291.82 L679.82 293.50 L680.58 295.19 L681.34 296.89 L682.10 298.59 L682.86 300.29 L683.62 302.00 L684.38 303.72 L685.14 305.44 L685.90 307.16 L686.66 308.89 L687.42 310.63 L688.18 312.37 L688.94 314.12 L689.70 315.87 L690.46 317.63 L691.22 319.39 L691.98 321.15 L692.74 322.93 L693.50 324.70 L694.26 326.49 L695.02 328.27 L695.78 330.07 L696.54 331.86 L697.30 333.67 L698.06 335.48 L698.82 337.29 L699.58 339.11 L700.34 340.93 L701.10 342.76 L701.86 344.60 L702.62 346.43 L703.38 348.28 L704.14 350.13 L704.90 351.98 L705.66 353.84 L706.42 355.71 L707.18 357.58 L707.94 359.46 L708.70 361.34 L709.46 363.22 L710.22 365.11 L710.98 367.01 L711.74 368.91 L712.50 370.82 L713.26 372.73 L714.02 374.65 L714.78 376.57 L715.54 378.50 L716.30 380.43 L717.06 382.37 L717.82 384.31 L718.58 386.26 L719.34 388.21 L720.10 390.17 L720.86 392.13 L721.62 394.10 L722.38 396.07 L723.14 398.05 L723.90 400.04 L724.66 402.03 L725.42 404.02 L726.18 406.02 L726.94 408.03 L727.70 410.04 L728.46 412.05 L729.22 414.07 L729.98 416.10 L730.74 418.13 L731.50 420.17 L732.26 422.21 L733.02 424.25 L733.78 426.30 L734.54 428.36 L735.30 430.42 L736.06 432.49" fill="none" stroke="#000" stroke-width="1.0" stroke-dasharray="1.25 2.25"/>
<path d="M128.06 432.49 L128.82 430.76 L129.58 429.03 L130.34 427.31 L131.10 425.59 L131.86 423.88 L132.62 422.17 L133.38 420.46 L134.14 418.77 L134.90 417.07 L135.66 415.39 L136.42 413.70 L137.18 412.02 L137.94 410.35 L138.70 408.68 L139.46 407.02 L140.22 405.36 L140.98 403.71 L141.74 402.06 L142.50 400.42 L143.26 398.78 L144.02 397.15 L144.78 395.52 L145.54 393.89 L146.30 392.27 L147.06 390.66 L147.82 389.05 L148.58 387.45 L149.34 385.85 L150.10 384.26 L150.86 382.67 L151.62 381.09 L152.38 379.51 L153.14 377.93 L153.90 376.36 L154.66 374.80 L155.42 373.24 L156.18 371.69 L156.94 370.14 L157.70 368.59 L158.46 367.06 L159.22 365.52 L159.98 363.99 L160.74 362.47 L161.50 360.95 L162.26 359.43 L163.02 357.92 L163.78 356.42 L164.54 354.92 L165.30 353.43 L166.06 351.94 L166.82 350.45 L167.58 348.97 L168.34 347.50 L169.10 346.03 L169.86 344.56 L170.62 343.10 L171.38 341.65 L172.14 340.20 L172.90 338.75 L173.66 337.31 L174.42 335.88 L175.18 334.45 L175.94 333.02 L176.70 331.60 L177.46 330.18 L178.22 328.77 L178.98 327.37 L179.74 325.97 L180.50 324.57 L181.26 323.18 L182.02 321.79 L182.78 320.41 L183.54 319.04 L184.30 317.67 L185.06 316.30 L185.82 314.94 L186.58 313.58 L187.34 312.23 L188.10 310.88 L188.86 309.54 L189.62 308.20 L190.38 306.87 L191.14 305.54 L191.90 304.22 L192.66 302.90 L193.42 301.59 L194.18 300.28 L194.94 298.98 L195.70 297.68 L196.46 296.39 L197.22 295.10 L197.98 293.82 L198.74 292.54 L199.50 291.27 L200.26 290.00 L201.02 288.73 L201.78 287.48 L202.54 286.22 L203.30 284.97 L204.06 283.73 L204.82 282.49 L205.58 281.26 L206.34 280.03 L207.10 278.80 L207.86 277.58 L208.62 276.37 L209.38 275.16 L210.14 273.95 L210.90 272.75 L211.66 271.55 L212.42 270.36 L213.18 269.18 L213.94 268.00 L214.70 266.82 L215.46 265.65 L216.22 264.48 L216.98 263.32 L217.74 262.16 L218.50 261.01 L219.26 259.87 L220.02 258.72 L220.78 257.59 L221.54 256.45 L222.30 255.32 L223.06 254.20 L223.82 253.08 L224.58 251.97 L225.34 250.86 L226.10 249.76 L226.86 248.66 L227.62 247.56 L228.38 246.48 L229.14 245.39 L229.90 244.31 L230.66 243.24 L231.42 242.17 L232.18 241.10 L232.94 240.04 L233.70 238.99 L234.46 237.93 L235.22 236.89 L235.98 235.85 L236.74 234.81 L237.50 233.78 L238.26 232.75 L239.02 231.73 L239.78 230.71 L240.54 229.70 L241.30 228.69 L242.06 227.69 L242.82 226.69 L243.58 225.70 L244.34 224.71 L245.10 223.72 L245.86 222.74 L246.62 221.77 L247.38 220.80 L248.14 219.84 L248.90 218.87 L249.66 217.92 L250.42 216.97 L251.18 216.02 L251.94 215.08 L252.70 214.14 L253.46 213.21 L254.22 212.29 L254.98 211.36 L255.74 210.45 L256.50 209.53 L257.26 208.62 L258.02 207.72 L258.78 206.82 L259.54 205.93 L260.30 205.04 L261.06 204.15 L261.82 203.27 L262.58 202.40 L263.34 201.53 L264.10 200.66 L264.86 199.80 L265.62 198.94 L266.38 198.09 L267.14 197.24 L267.90 196.40 L268.66 195.56 L269.42 194.73 L270.18 193.90 L270.94 193.08 L271.70 192.26 L272.46 191.44 L273.22 190.63 L273.98 189.83 L274.74 189.03 L275.50 188.23 L276.26 187.44 L277.02 186.65 L277.78 185.87 L278.54 185.09 L279.30 184.32 L280.06 183.55 L280.82 182.79 L281.58 182.03 L282.34 181.27 L283.10 180.52 L283.86 179.78 L284.62 179.04 L285.38 178.30 L286.14 177.57 L286.90 176.84 L287.66 176.12 L288.42 175.40 L289.18 174.69 L289.94 173.98 L290.70 173.28 L291.46 172.58 L292.22 171.88 L292.98 171.19 L293.74 170.50 L294.50 169.82 L295.26 169.15 L296.02 168.47 L296.78 167.81 L297.54 167.14 L298.30 166.48 L299.06 165.83 L299.82 165.18 L300.58 164.53 L301.34 163.89 L302.10 163.26 L302.86 162.62 L303.62 162.00 L304.38 161.37 L305.14 160.75 L305.90 160.14 L306.66 159.53 L307.42 158.92 L308.18 158.32 L308.94 157.73 L309.70 157.14 L310.46 156.55 L311.22 155.96 L311.98 155.39 L312.74 154.81 L313.50 154.24 L314.26 153.68 L315.02 153.11 L315.78 152.56 L316.54 152.01 L317.30 151.46 L318.06 150.91 L318.82 150.37 L319.58 149.84 L320.34 149.31 L321.10 148.78 L321.86 148.26 L322.62 147.74 L323.38 147.23 L324.14 146.72 L324.90 146.22 L325.66 145.72 L326.42 145.22 L327.18 144.73 L327.94 144.24 L328.70 143.76 L329.46 143.28 L330.22 142.80 L330.98 142.33 L331.74 141.87 L332.50 141.40 L333.26 140.95 L334.02 140.49 L334.78 140.04 L335.54 139.60 L336.30 139.16 L337.06 138.72 L337.82 138.29 L338.58 137.86 L339.34 137.43 L340.10 137.01 L340.86 136.60 L341.62 136.19 L342.38 135.78 L343.14 135.38 L343.90 134.98 L344.66 134.58 L345.42 134.19 L346.18 133.80 L346.94 133.42 L347.70 133.04 L348.46 132.66 L349.22 132.29 L349.98 131.93 L350.74 131.56 L351.50 131.21 L352.26 130.85 L353.02 130.50 L353.78 130.15 L354.54 129.81 L355.30 129.47 L356.06 129.14 L356.82 128.81 L357.58 128.48 L358.34 128.16 L359.10 127.84 L359.86 127.52 L360.62 127.21 L361.38 126.90 L362.14 126.60 L362.90 126.30 L363.66 126.00 L364.42 125.71 L365.18 125.42 L365.94 125.14 L366.70 124.86 L367.46 124.58 L368.22 124.31 L368.98 124.04 L369.74 123.78 L370.50 123.51 L371.26 123.26 L372.02 123.00 L372.78 122.75 L373.54 122.51 L374.30 122.26 L375.06 122.02 L375.82 121.79 L376.58 121.56 L377.34 121.33 L378.10 121.10 L378.86 120.88 L379.62 120.67 L380.38 120.45 L381.14 120.24 L381.90 120.04 L382.66 119.83 L383.42 119.63 L384.18 119.44 L384.94 119.25 L385.70 119.06 L386.46 118.87 L387.22 118.69 L387.98 118.51 L388.74 118.34 L389.50 118.17 L390.26 118.00 L391.02 117.83 L391.78 117.67 L392.54 117.52 L393.30 117.36 L394.06 117.21 L394.82 117.06 L395.58 116.92 L396.34 116.78 L397.10 116.64 L397.86 116.51 L398.62 116.38 L399.38 116.25 L400.14 116.13 L400.90 116.00 L401.66 115.89 L402.42 115.77 L403.18 115.66 L403.94 115.55 L404.70 115.45 L405.46 115.34 L406.22 115.25 L406.98 115.15 L407.74 115.06 L408.50 114.97 L409.26 114.88 L410.02 114.80 L410.78 114.72 L411.54 114.64 L412.30 114.57 L413.06 114.50 L413.82 114.43 L414.58 114.36 L415.34 114.30 L416.10 114.24 L416.86 114.18 L417.62 114.13 L418.38 114.08 L419.14 114.03 L419.90 113.99 L420.66 113.95 L421.42 113.91 L422.18 113.87 L422.94 113.84 L423.70 113.81 L424.46 113.78 L425.22 113.75 L425.98 113.73 L426.74 113.71 L427.50 113.69 L428.26 113.68 L429.02 113.67 L429.78 113.66 L430.54 113.65 L431.30 113.65 L432.06 113.65 L432.82 113.65 L433.58 113.65 L434.34 113.66 L435.10 113.67 L435.86 113.68 L436.62 113.69 L437.38 113.71 L438.14 113.73 L438.90 113.75 L439.66 113.78 L440.42 113.81 L441.18 113.84 L441.94 113.87 L442.70 113.91 L443.46 113.95 L444.22 113.99 L444.98 114.03 L445.74 114.08 L446.50 114.13 L447.26 114.18 L448.02 114.24 L448.78 114.30 L449.54 114.36 L450.30 114.43 L451.06 114.50 L451.82 114.57 L452.58 114.64 L453.34 114.72 L454.10 114.80 L454.86 114.88 L455.62 114.97 L456.38 115.06 L457.14 115.15 L457.90 115.25 L458.66 115.34 L459.42 115.45 L460.18 115.55 L460.94 115.66 L461.70 115.77 L462.46 115.89 L463.22 116.00 L463.98 116.13 L464.74 116.25 L465.50 116.38 L466.26 116.51 L467.02 116.64 L467.78 116.78 L468.54 116.92 L469.30 117.06 L470.06 117.21 L470.82 117.36 L471.58 117.52 L472.34 117.67 L473.10 117.83 L473.86 118.00 L474.62 118.17 L475.38 118.34 L476.14 118.51 L476.90 118.69 L477.66 118.87 L478.42 119.06 L479.18 119.25 L479.94 119.44 L480.70 119.63 L481.46 119.83 L482.22 120.04 L482.98 120.24 L483.74 120.45 L484.50 120.67 L485.26 120.88 L486.02 121.10 L486.78 121.33 L487.54 121.56 L488.30 121.79 L489.06 122.02 L489.82 122.26 L490.58 122.51 L491.34 122.75 L492.10 123.00 L492.86 123.26 L493.62 123.51 L494.38 123.78 L495.14 124.04 L495.90 124.31 L496.66 124.58 L497.42 124.86 L498.18 125.14 L498.94 125.42 L499.70 125.71 L500.46 126.00 L501.22 126.30 L501.98 126.60 L502.74 126.90 L503.50 127.21 L504.26 127.52 L505.02 127.84 L505.78 128.16 L506.54 128.48 L507.30 128.81 L508.06 129.14 L508.82 129.47 L509.58 129.81 L510.34 130.15 L511.10 130.50 L511.86 130.85 L512.62 131.21 L513.38 131.56 L514.14 131.93 L514.90 132.29 L515.66 132.66 L516.42 133.04 L517.18 133.42 L517.94 133.80 L518.70 134.19 L519.46 134.58 L520.22 134.98 L520.98 135.38 L521.74 135.78 L522.50 136.19 L523.26 136.60 L524.02 137.01 L524.78 137.43 L525.54 137.86 L526.30 138.29 L527.06 138.72 L527.82 139.16 L528.58 139.60 L529.34 140.04 L530.10 140.49 L530.86 140.95 L531.62 141.40 L532.38 141.87 L533.14 142.33 L533.90 142.80 L534.66 143.28 L535.42 143.76 L536.18 144.24 L536.94 144.73 L537.70 145.22 L538.46 145.72 L539.22 146.22 L539.98 146.72 L540.74 147.23 L541.50 147.74 L542.26 148.26 L543.02 148.78 L543.78 149.31 L544.54 149.84 L545.30 150.37 L546.06 150.91 L546.82 151.46 L547.58 152.01 L548.34 152.56 L549.10 153.11 L549.86 153.68 L550.62 154.24 L551.38 154.81 L552.14 155.39 L552.90 155.96 L553.66 156.55 L554.42 157.14 L555.18 157.73 L555.94 158.32 L556.70 158.92 L557.46 159.53 L558.22 160.14 L558.98 160.75 L559.74 161.37 L560.50 162.00 L561.26 162.62 L562.02 163.26 L562.78 163.89 L563.54 164.53 L564.30 165.18 L565.06 165.83 L565.82 166.48 L566.58 167.14 L567.34 167.81 L568.10 168.47 L568.86 169.15 L569.62 169.82 L570.38 170.50 L571.14 171.19 L571.90 171.88 L572.66 172.58 L573.42 173.28 L574.18 173.98 L574.94 174.69 L575.70 175.40 L576.46 176.12 L577.22 176.84 L577.98 177.57 L578.74 178.30 L579.50 179.04 L580.26 179.78 L581.02 180.52 L581.78 181.27 L582.54 182.03 L583.30 182.79 L584.06 183.55 L584.82 184.32 L585.58 185.09 L586.34 185.87 L587.10 186.65 L587.86 187.44 L588.62 188.23 L589.38 189.03 L590.14 189.83 L590.90 190.63 L591.66 191.44 L592.42 192.26 L593.18 193.08 L593.94 193.90 L594.70 194.73 L595.46 195.56 L596.22 196.40 L596.98 197.24 L597.74 198.09 L598.50 198.94 L599.26 199.80 L600.02 200.66 L600.78 201.53 L601.54 202.40 L602.30 203.27 L603.06 204.15 L603.82 205.04 L604.58 205.93 L605.34 206.82 L606.10 207.72 L606.86 208.62 L607.62 209.53 L608.38 210.45 L609.14 211.36 L609.90 212.29 L610.66 213.21 L611.42 214.14 L612.18 215.08 L612.94 216.02 L613.70 216.97 L614.46 217.92 L615.22 218.87 L615.98 219.84 L616.74 220.80 L617.50 221.77 L618.26 222.74 L619.02 223.72 L619.78 224.71 L620.54 225.70 L621.30 226.69 L622.06 227.69 L622.82 228.69 L623.58 229.70 L624.34 230.71 L625.10 231.73 L625.86 232.75 L626.62 233.78 L627.38 234.81 L628.14 235.85 L628.90 236.89 L629.66 237.93 L630.42 238.99 L631.18 240.04 L631.94 241.10 L632.70 242.17 L633.46 243.24 L634.22 244.31 L634.98 245.39 L635.74 246.48 L636.50 247.56 L637.26 248.66 L638.02 249.76 L638.78 250.86 L639.54 251.97 L640.30 253.08 L641.06 254.20 L641.82 255.32 L642.58 256.45 L643.34 257.59 L644.10 258.72 L644.86 259.87 L645.62 261.01 L646.38 262.16 L647.14 263.32 L647.90 264.48 L648.66 265.65 L649.42 266.82 L650.18 268.00 L650.94 269.18 L651.70 270.36 L652.46 271.55 L653.22 272.75 L653.98 273.95 L654.74 275.16 L655.50 276.37 L656.26 277.58 L657.02 278.80 L657.78 280.03 L658.54 281.26 L659.30 282.49 L660.06 283.73 L660.82 284.97 L661.58 286.22 L662.34 287.48 L663.10 288.73 L663.86 290.00 L664.62 291.27 L665.38 292.54 L666.14 293.82 L666.90 295.10 L667.66 296.39 L668.42 297.68 L669.18 298.98 L669.94 300.28 L670.70 301.59 L671.46 302.90 L672.22 304.22 L672.98 305.54 L673.74 306.87 L674.50 308.20 L675.26 309.54 L676.02 310.88 L676.78 312.23 L677.54 313.58 L678.30 314.94 L679.06 316.30 L679.82 317.67 L680.58 319.04 L681.34 320.41 L682.10 321.79 L682.86 323.18 L683.62 324.57 L684.38 325.97 L685.14 327.37 L685.90 328.77 L686.66 330.18 L687.42 331.60 L688.18 333.02 L688.94 334.45 L689.70 335.88 L690.46 337.31 L691.22 338.75 L691.98 340.20 L692.74 341.65 L693.50 343.10 L694.26 344.56 L695.02 346.03 L695.78 347.50 L696.54 348.97 L697.30 350.45 L698.06 351.94 L698.82 353.43 L699.58 354.92 L700.34 356.42 L701.10 357.92 L701.86 359.43 L702.62 360.95 L703.38 362.47 L704.14 363.99 L704.90 365.52 L705.66 367.06 L706.42 368.59 L707.18 370.14 L707.94 371.69 L708.70 373.24 L709.46 374.80 L710.22 376.36 L710.98 377.93 L711.74 379.51 L712.50 381.09 L713.26 382.67 L714.02 384.26 L714.78 385.85 L715.54 387.45 L716.30 389.05 L717.06 390.66 L717.82 392.27 L718.58 393.89 L719.34 395.52 L720.10 397.15 L720.86 398.78 L721.62 400.42 L722.38 402.06 L723.14 403.71 L723.90 405.36 L724.66 407.02 L725.42 408.68 L726.18 410.35 L726.94 412.02 L727.70 413.70 L728.46 415.39 L729.22 417.07 L729.98 418.77 L730.74 420.46 L731.50 422.17 L732.26 423.88 L733.02 425.59 L733.78 427.31 L734.54 429.03 L735.30 430.76 L736.06 432.49" fill="none" stroke="#0000ff" stroke-width="1.15"/>
<path d="M128.06 432.49 L128.82 430.83 L129.58 429.17 L130.34 427.52 L131.10 425.87 L131.86 424.23 L132.62 422.59 L133.38 420.96 L134.14 419.33 L134.90 417.71 L135.66 416.09 L136.42 414.48 L137.18 412.87 L137.94 411.27 L138.70 409.67 L139.46 408.08 L140.22 406.50 L140.98 404.92 L141.74 403.34 L142.50 401.77 L143.26 400.20 L144.02 398.64 L144.78 397.09 L145.54 395.54 L146.30 393.99 L147.06 392.45 L147.82 390.92 L148.58 389.39 L149.34 387.87 L150.10 386.35 L150.86 384.83 L151.62 383.32 L152.38 381.82 L153.14 380.32 L153.90 378.83 L154.66 377.34 L155.42 375.86 L156.18 374.38 L156.94 372.90 L157.70 371.44 L158.46 369.97 L159.22 368.52 L159.98 367.06 L160.74 365.62 L161.50 364.17 L162.26 362.74 L163.02 361.31 L163.78 359.88 L164.54 358.46 L165.30 357.04 L166.06 355.63 L166.82 354.22 L167.58 352.82 L168.34 351.43 L169.10 350.03 L169.86 348.65 L170.62 347.27 L171.38 345.89 L172.14 344.52 L172.90 343.16 L173.66 341.80 L174.42 340.44 L175.18 339.09 L175.94 337.75 L176.70 336.41 L177.46 335.07 L178.22 333.74 L178.98 332.42 L179.74 331.10 L180.50 329.79 L181.26 328.48 L182.02 327.17 L182.78 325.88 L183.54 324.58 L184.30 323.29 L185.06 322.01 L185.82 320.73 L186.58 319.46 L187.34 318.19 L188.10 316.93 L188.86 315.67 L189.62 314.42 L190.38 313.17 L191.14 311.93 L191.90 310.69 L192.66 309.46 L193.42 308.23 L194.18 307.01 L194.94 305.80 L195.70 304.58 L196.46 303.38 L197.22 302.18 L197.98 300.98 L198.74 299.79 L199.50 298.60 L200.26 297.42 L201.02 296.25 L201.78 295.08 L202.54 293.91 L203.30 292.75 L204.06 291.60 L204.82 290.45 L205.58 289.30 L206.34 288.16 L207.10 287.03 L207.86 285.90 L208.62 284.77 L209.38 283.65 L210.14 282.54 L210.90 281.43 L211.66 280.33 L212.42 279.23 L213.18 278.13 L213.94 277.04 L214.70 275.96 L215.46 274.88 L216.22 273.81 L216.98 272.74 L217.74 271.68 L218.50 270.62 L219.26 269.57 L220.02 268.52 L220.78 267.47 L221.54 266.44 L222.30 265.40 L223.06 264.38 L223.82 263.35 L224.58 262.34 L225.34 261.32 L226.10 260.32 L226.86 259.32 L227.62 258.32 L228.38 257.33 L229.14 256.34 L229.90 255.36 L230.66 254.38 L231.42 253.41 L232.18 252.44 L232.94 251.48 L233.70 250.53 L234.46 249.57 L235.22 248.63 L235.98 247.69 L236.74 246.75 L237.50 245.82 L238.26 244.89 L239.02 243.97 L239.78 243.06 L240.54 242.15 L241.30 241.24 L242.06 240.34 L242.82 239.45 L243.58 238.56 L244.34 237.67 L245.10 236.79 L245.86 235.92 L246.62 235.05 L247.38 234.18 L248.14 233.32 L248.90 232.47 L249.66 231.62 L250.42 230.77 L251.18 229.93 L251.94 229.10 L252.70 228.27 L253.46 227.45 L254.22 226.63 L254.98 225.81 L255.74 225.00 L256.50 224.20 L257.26 223.40 L258.02 222.61 L258.78 221.82 L259.54 221.03 L260.30 220.25 L261.06 219.48 L261.82 218.71 L262.58 217.95 L263.34 217.19 L264.10 216.43 L264.86 215.69 L265.62 214.94 L266.38 214.20 L267.14 213.47 L267.90 212.74 L268.66 212.02 L269.42 211.30 L270.18 210.59 L270.94 209.88 L271.70 209.17 L272.46 208.48 L273.22 207.78 L273.98 207.09 L274.74 206.41 L275.50 205.73 L276.26 205.06 L277.02 204.39 L277.78 203.73 L278.54 203.07 L279.30 202.42 L280.06 201.77 L280.82 201.12 L281.58 200.49 L282.34 199.85 L283.10 199.22 L283.86 198.60 L284.62 197.98 L285.38 197.37 L286.14 196.76 L286.90 196.16 L287.66 195.56 L288.42 194.97 L289.18 194.38 L289.94 193.79 L290.70 193.21 L291.46 192.64 L292.22 192.07 L292.98 191.51 L293.74 190.95 L294.50 190.40 L295.26 189.85 L296.02 189.30 L296.78 188.76 L297.54 188.23 L298.30 187.70 L299.06 187.18 L299.82 186.66 L300.58 186.14 L301.34 185.63 L302.10 185.13 L302.86 184.63 L303.62 184.13 L304.38 183.64 L305.14 183.16 L305.90 182.68 L306.66 182.20 L307.42 181.73 L308.18 181.26 L308.94 180.80 L309.70 180.35 L310.46 179.90 L311.22 179.45 L311.98 179.01 L312.74 178.57 L313.50 178.14 L314.26 177.71 L315.02 177.29 L315.78 176.87 L316.54 176.46 L317.30 176.05 L318.06 175.65 L318.82 175.25 L319.58 174.85 L320.34 174.47 L321.10 174.08 L321.86 173.70 L322.62 173.33 L323.38 172.96 L324.14 172.59 L324.90 172.23 L325.66 171.87 L326.42 171.52 L327.18 171.18 L327.94 170.83 L328.70 170.50 L329.46 170.16 L330.22 169.83 L330.98 169.51 L331.74 169.19 L332.50 168.88 L333.26 168.57 L334.02 168.26 L334.78 167.96 L335.54 167.66 L336.30 167.37 L337.06 167.08 L337.82 166.80 L338.58 166.52 L339.34 166.25 L340.10 165.98 L340.86 165.71 L341.62 165.45 L342.38 165.20 L343.14 164.94 L343.90 164.70 L344.66 164.45 L345.42 164.21 L346.18 163.98 L346.94 163.75 L347.70 163.52 L348.46 163.30 L349.22 163.08 L349.98 162.86 L350.74 162.65 L351.50 162.45 L352.26 162.24 L353.02 162.05 L353.78 161.85 L354.54 161.66 L355.30 161.48 L356.06 161.29 L356.82 161.11 L357.58 160.94 L358.34 160.77 L359.10 160.60 L359.86 160.44 L360.62 160.28 L361.38 160.12 L362.14 159.97 L362.90 159.82 L363.66 159.67 L364.42 159.53 L365.18 159.39 L365.94 159.26 L366.70 159.12 L367.46 158.99 L368.22 158.87 L368.98 158.75 L369.74 158.63 L370.50 158.51 L371.26 158.40 L372.02 158.29 L372.78 158.18 L373.54 158.07 L374.30 157.97 L375.06 157.87 L375.82 157.78 L376.58 157.68 L377.34 157.59 L378.10 157.51 L378.86 157.42 L379.62 157.34 L380.38 157.26 L381.14 157.18 L381.90 157.10 L382.66 157.03 L383.42 156.96 L384.18 156.89 L384.94 156.82 L385.70 156.75 L386.46 156.69 L387.22 156.63 L387.98 156.57 L388.74 156.51 L389.50 156.46 L390.26 156.40 L391.02 156.35 L391.78 156.30 L392.54 156.25 L393.30 156.21 L394.06 156.16 L394.82 156.12 L395.58 156.08 L396.34 156.04 L397.10 156.00 L397.86 155.96 L398.62 155.92 L399.38 155.89 L400.14 155.85 L400.90 155.82 L401.66 155.79 L402.42 155.76 L403.18 155.73 L403.94 155.70 L404.70 155.68 L405.46 155.65 L406.22 155.63 L406.98 155.60 L407.74 155.58 L408.50 155.56 L409.26 155.54 L410.02 155.52 L410.78 155.50 L411.54 155.48 L412.30 155.46 L413.06 155.45 L413.82 155.43 L414.58 155.42 L415.34 155.41 L416.10 155.39 L416.86 155.38 L417.62 155.37 L418.38 155.36 L419.14 155.35 L419.90 155.34 L420.66 155.33 L421.42 155.32 L422.18 155.31 L422.94 155.31 L423.70 155.30 L424.46 155.30 L425.22 155.29 L425.98 155.29 L426.74 155.28 L427.50 155.28 L428.26 155.28 L429.02 155.27 L429.78 155.27 L430.54 155.27 L431.30 155.27 L432.06 155.27 L432.82 155.27 L433.58 155.27 L434.34 155.27 L435.10 155.27 L435.86 155.28 L436.62 155.28 L437.38 155.28 L438.14 155.29 L438.90 155.29 L439.66 155.30 L440.42 155.30 L441.18 155.31 L441.94 155.31 L442.70 155.32 L443.46 155.33 L444.22 155.34 L444.98 155.35 L445.74 155.36 L446.50 155.37 L447.26 155.38 L448.02 155.39 L448.78 155.41 L449.54 155.42 L450.30 155.43 L451.06 155.45 L451.82 155.46 L452.58 155.48 L453.34 155.50 L454.10 155.52 L454.86 155.54 L455.62 155.56 L456.38 155.58 L457.14 155.60 L457.90 155.63 L458.66 155.65 L459.42 155.68 L460.18 155.70 L460.94 155.73 L461.70 155.76 L462.46 155.79 L463.22 155.82 L463.98 155.85 L464.74 155.89 L465.50 155.92 L466.26 155.96 L467.02 156.00 L467.78 156.04 L468.54 156.08 L469.30 156.12 L470.06 156.16 L470.82 156.21 L471.58 156.25 L472.34 156.30 L473.10 156.35 L473.86 156.40 L474.62 156.46 L475.38 156.51 L476.14 156.57 L476.90 156.63 L477.66 156.69 L478.42 156.75 L479.18 156.82 L479.94 156.89 L480.70 156.96 L481.46 157.03 L482.22 157.10 L482.98 157.18 L483.74 157.26 L484.50 157.34 L485.26 157.42 L486.02 157.51 L486.78 157.59 L487.54 157.68 L488.30 157.78 L489.06 157.87 L489.82 157.97 L490.58 158.07 L491.34 158.18 L492.10 158.29 L492.86 158.40 L493.62 158.51 L494.38 158.63 L495.14 158.75 L495.90 158.87 L496.66 158.99 L497.42 159.12 L498.18 159.26 L498.94 159.39 L499.70 159.53 L500.46 159.67 L501.22 159.82 L501.98 159.97 L502.74 160.12 L503.50 160.28 L504.26 160.44 L505.02 160.60 L505.78 160.77 L506.54 160.94 L507.30 161.11 L508.06 161.29 L508.82 161.48 L509.58 161.66 L510.34 161.85 L511.10 162.05 L511.86 162.24 L512.62 162.45 L513.38 162.65 L514.14 162.86 L514.90 163.08 L515.66 163.30 L516.42 163.52 L517.18 163.75 L517.94 163.98 L518.70 164.21 L519.46 164.45 L520.22 164.70 L520.98 164.94 L521.74 165.20 L522.50 165.45 L523.26 165.71 L524.02 165.98 L524.78 166.25 L525.54 166.52 L526.30 166.80 L527.06 167.08 L527.82 167.37 L528.58 167.66 L529.34 167.96 L530.10 168.26 L530.86 168.57 L531.62 168.88 L532.38 169.19 L533.14 169.51 L533.90 169.83 L534.66 170.16 L535.42 170.50 L536.18 170.83 L536.94 171.18 L537.70 171.52 L538.46 171.87 L539.22 172.23 L539.98 172.59 L540.74 172.96 L541.50 173.33 L542.26 173.70 L543.02 174.08 L543.78 174.47 L544.54 174.85 L545.30 175.25 L546.06 175.65 L546.82 176.05 L547.58 176.46 L548.34 176.87 L549.10 177.29 L549.86 177.71 L550.62 178.14 L551.38 178.57 L552.14 179.01 L552.90 179.45 L553.66 179.90 L554.42 180.35 L555.18 180.80 L555.94 181.26 L556.70 181.73 L557.46 182.20 L558.22 182.68 L558.98 183.16 L559.74 183.64 L560.50 184.13 L561.26 184.63 L562.02 185.13 L562.78 185.63 L563.54 186.14 L564.30 186.66 L565.06 187.18 L565.82 187.70 L566.58 188.23 L567.34 188.76 L568.10 189.30 L568.86 189.85 L569.62 190.40 L570.38 190.95 L571.14 191.51 L571.90 192.07 L572.66 192.64 L573.42 193.21 L574.18 193.79 L574.94 194.38 L575.70 194.97 L576.46 195.56 L577.22 196.16 L577.98 196.76 L578.74 197.37 L579.50 197.98 L580.26 198.60 L581.02 199.22 L581.78 199.85 L582.54 200.49 L583.30 201.12 L584.06 201.77 L584.82 202.42 L585.58 203.07 L586.34 203.73 L587.10 204.39 L587.86 205.06 L588.62 205.73 L589.38 206.41 L590.14 207.09 L590.90 207.78 L591.66 208.48 L592.42 209.17 L593.18 209.88 L593.94 210.59 L594.70 211.30 L595.46 212.02 L596.22 212.74 L596.98 213.47 L597.74 214.20 L598.50 214.94 L599.26 215.69 L600.02 216.43 L600.78 217.19 L601.54 217.95 L602.30 218.71 L603.06 219.48 L603.82 220.25 L604.58 221.03 L605.34 221.82 L606.10 222.61 L606.86 223.40 L607.62 224.20 L608.38 225.00 L609.14 225.81 L609.90 226.63 L610.66 227.45 L611.42 228.27 L612.18 229.10 L612.94 229.93 L613.70 230.77 L614.46 231.62 L615.22 232.47 L615.98 233.32 L616.74 234.18 L617.50 235.05 L618.26 235.92 L619.02 236.79 L619.78 237.67 L620.54 238.56 L621.30 239.45 L622.06 240.34 L622.82 241.24 L623.58 242.15 L624.34 243.06 L625.10 243.97 L625.86 244.89 L626.62 245.82 L627.38 246.75 L628.14 247.69 L628.90 248.63 L629.66 249.57 L630.42 250.53 L631.18 251.48 L631.94 252.44 L632.70 253.41 L633.46 254.38 L634.22 255.36 L634.98 256.34 L635.74 257.33 L636.50 258.32 L637.26 259.32 L638.02 260.32 L638.78 261.32 L639.54 262.34 L640.30 263.35 L641.06 264.38 L641.82 265.40 L642.58 266.44 L643.34 267.47 L644.10 268.52 L644.86 269.57 L645.62 270.62 L646.38 271.68 L647.14 272.74 L647.90 273.81 L648.66 274.88 L649.42 275.96 L650.18 277.04 L650.94 278.13 L651.70 279.23 L652.46 280.33 L653.22 281.43 L653.98 282.54 L654.74 283.65 L655.50 284.77 L656.26 285.90 L657.02 287.03 L657.78 288.16 L658.54 289.30 L659.30 290.45 L660.06 291.60 L660.82 292.75 L661.58 293.91 L662.34 295.08 L663.10 296.25 L663.86 297.42 L664.62 298.60 L665.38 299.79 L666.14 300.98 L666.90 302.18 L667.66 303.38 L668.42 304.58 L669.18 305.80 L669.94 307.01 L670.70 308.23 L671.46 309.46 L672.22 310.69 L672.98 311.93 L673.74 313.17 L674.50 314.42 L675.26 315.67 L676.02 316.93 L676.78 318.19 L677.54 319.46 L678.30 320.73 L679.06 322.01 L679.82 323.29 L680.58 324.58 L681.34 325.88 L682.10 327.17 L682.86 328.48 L683.62 329.79 L684.38 331.10 L685.14 332.42 L685.90 333.74 L686.66 335.07 L687.42 336.41 L688.18 337.75 L688.94 339.09 L689.70 340.44 L690.46 341.80 L691.22 343.16 L691.98 344.52 L692.74 345.89 L693.50 347.27 L694.26 348.65 L695.02 350.03 L695.78 351.43 L696.54 352.82 L697.30 354.22 L698.06 355.63 L698.82 357.04 L699.58 358.46 L700.34 359.88 L701.10 361.31 L701.86 362.74 L702.62 364.17 L703.38 365.62 L704.14 367.06 L704.90 368.52 L705.66 369.97 L706.42 371.44 L707.18 372.90 L707.94 374.38 L708.70 375.86 L709.46 377.34 L710.22 378.83 L710.98 380.32 L711.74 381.82 L712.50 383.32 L713.26 384.83 L714.02 386.35 L714.78 387.87 L715.54 389.39 L716.30 390.92 L717.06 392.45 L717.82 393.99 L718.58 395.54 L719.34 397.09 L720.10 398.64 L720.86 400.20 L721.62 401.77 L722.38 403.34 L723.14 404.92 L723.90 406.50 L724.66 408.08 L725.42 409.67 L726.18 411.27 L726.94 412.87 L727.70 414.48 L728.46 416.09 L729.22 417.71 L729.98 419.33 L730.74 420.96 L731.50 422.59 L732.26 424.23 L733.02 425.87 L733.78 427.52 L734.54 429.17 L735.30 430.83 L736.06 432.49" fill="none" stroke="#ff0000" stroke-width="1.15"/>
<path d="M128.06 432.49 L128.82 430.84 L129.58 429.19 L130.34 427.54 L131.10 425.90 L131.86 424.27 L132.62 422.64 L133.38 421.02 L134.14 419.40 L134.90 417.79 L135.66 416.18 L136.42 414.58 L137.18 412.98 L137.94 411.39 L138.70 409.80 L139.46 408.22 L140.22 406.64 L140.98 405.07 L141.74 403.51 L142.50 401.95 L143.26 400.39 L144.02 398.84 L144.78 397.29 L145.54 395.75 L146.30 394.22 L147.06 392.69 L147.82 391.16 L148.58 389.64 L149.34 388.13 L150.10 386.62 L150.86 385.11 L151.62 383.62 L152.38 382.12 L153.14 380.63 L153.90 379.15 L154.66 377.67 L155.42 376.20 L156.18 374.73 L156.94 373.27 L157.70 371.81 L158.46 370.36 L159.22 368.91 L159.98 367.47 L160.74 366.03 L161.50 364.60 L162.26 363.17 L163.02 361.75 L163.78 360.33 L164.54 358.92 L165.30 357.52 L166.06 356.12 L166.82 354.72 L167.58 353.33 L168.34 351.95 L169.10 350.56 L169.86 349.19 L170.62 347.82 L171.38 346.46 L172.14 345.10 L172.90 343.74 L173.66 342.39 L174.42 341.05 L175.18 339.71 L175.94 338.38 L176.70 337.05 L177.46 335.72 L178.22 334.41 L178.98 333.09 L179.74 331.79 L180.50 330.48 L181.26 329.19 L182.02 327.89 L182.78 326.61 L183.54 325.32 L184.30 324.05 L185.06 322.78 L185.82 321.51 L186.58 320.25 L187.34 318.99 L188.10 317.74 L188.86 316.50 L189.62 315.26 L190.38 314.02 L191.14 312.79 L191.90 311.56 L192.66 310.34 L193.42 309.13 L194.18 307.92 L194.94 306.72 L195.70 305.52 L196.46 304.32 L197.22 303.13 L197.98 301.95 L198.74 300.77 L199.50 299.60 L200.26 298.43 L201.02 297.27 L201.78 296.11 L202.54 294.96 L203.30 293.81 L204.06 292.67 L204.82 291.53 L205.58 290.40 L206.34 289.27 L207.10 288.15 L207.86 287.03 L208.62 285.92 L209.38 284.81 L210.14 283.71 L210.90 282.62 L211.66 281.53 L212.42 280.44 L213.18 279.36 L213.94 278.29 L214.70 277.22 L215.46 276.15 L216.22 275.09 L216.98 274.04 L217.74 272.99 L218.50 271.94 L219.26 270.90 L220.02 269.87 L220.78 268.84 L221.54 267.82 L222.30 266.80 L223.06 265.79 L223.82 264.78 L224.58 263.78 L225.34 262.78 L226.10 261.79 L226.86 260.80 L227.62 259.82 L228.38 258.84 L229.14 257.87 L229.90 256.90 L230.66 255.94 L231.42 254.98 L232.18 254.03 L232.94 253.08 L233.70 252.14 L234.46 251.21 L235.22 250.28 L235.98 249.35 L236.74 248.43 L237.50 247.52 L238.26 246.61 L239.02 245.70 L239.78 244.80 L240.54 243.91 L241.30 243.02 L242.06 242.13 L242.82 241.26 L243.58 240.38 L244.34 239.51 L245.10 238.65 L245.86 237.79 L246.62 236.94 L247.38 236.09 L248.14 235.25 L248.90 234.41 L249.66 233.58 L250.42 232.75 L251.18 231.93 L251.94 231.11 L252.70 230.30 L253.46 229.49 L254.22 228.69 L254.98 227.89 L255.74 227.10 L256.50 226.32 L257.26 225.54 L258.02 224.76 L258.78 223.99 L259.54 223.22 L260.30 222.46 L261.06 221.71 L261.82 220.96 L262.58 220.21 L263.34 219.48 L264.10 218.74 L264.86 218.01 L265.62 217.29 L266.38 216.57 L267.14 215.85 L267.90 215.15 L268.66 214.44 L269.42 213.74 L270.18 213.05 L270.94 212.36 L271.70 211.68 L272.46 211.00 L273.22 210.33 L273.98 209.66 L274.74 209.00 L275.50 208.34 L276.26 207.69 L277.02 207.04 L277.78 206.40 L278.54 205.77 L279.30 205.13 L280.06 204.51 L280.82 203.89 L281.58 203.27 L282.34 202.66 L283.10 202.06 L283.86 201.45 L284.62 200.86 L285.38 200.27 L286.14 199.68 L286.90 199.10 L287.66 198.53 L288.42 197.96 L289.18 197.40 L289.94 196.84 L290.70 196.28 L291.46 195.73 L292.22 195.19 L292.98 194.65 L293.74 194.12 L294.50 193.59 L295.26 193.07 L296.02 192.55 L296.78 192.03 L297.54 191.53 L298.30 191.02 L299.06 190.53 L299.82 190.03 L300.58 189.55 L301.34 189.07 L302.10 188.59 L302.86 188.12 L303.62 187.65 L304.38 187.19 L305.14 186.73 L305.90 186.28 L306.66 185.83 L307.42 185.39 L308.18 184.96 L308.94 184.53 L309.70 184.10 L310.46 183.68 L311.22 183.26 L311.98 182.85 L312.74 182.45 L313.50 182.05 L314.26 181.65 L315.02 181.26 L315.78 180.88 L316.54 180.50 L317.30 180.13 L318.06 179.76 L318.82 179.39 L319.58 179.03 L320.34 178.68 L321.10 178.33 L321.86 177.99 L322.62 177.65 L323.38 177.31 L324.14 176.99 L324.90 176.66 L325.66 176.34 L326.42 176.03 L327.18 175.72 L327.94 175.42 L328.70 175.12 L329.46 174.83 L330.22 174.54 L330.98 174.26 L331.74 173.98 L332.50 173.71 L333.26 173.44 L334.02 173.18 L334.78 172.92 L335.54 172.67 L336.30 172.42 L337.06 172.18 L337.82 171.94 L338.58 171.71 L339.34 171.48 L340.10 171.26 L340.86 171.04 L341.62 170.83 L342.38 170.62 L343.14 170.42 L343.90 170.22 L344.66 170.03 L345.42 169.84 L346.18 169.66 L346.94 169.48 L347.70 169.31 L348.46 169.14 L349.22 168.98 L349.98 168.82 L350.74 168.67 L351.50 168.52 L352.26 168.37 L353.02 168.24 L353.78 168.10 L354.54 167.97 L355.30 167.85 L356.06 167.73 L356.82 167.61 L357.58 167.50 L358.34 167.40 L359.10 167.29 L359.86 167.20 L360.62 167.10 L361.38 167.02 L362.14 166.93 L362.90 166.85 L363.66 166.78 L364.42 166.71 L365.18 166.64 L365.94 166.57 L366.70 166.51 L367.46 166.46 L368.22 166.40 L368.98 166.35 L369.74 166.31 L370.50 166.26 L371.26 166.22 L372.02 166.18 L372.78 166.15 L373.54 166.12 L374.30 166.08 L375.06 166.06 L375.82 166.03 L376.58 166.00 L377.34 165.98 L378.10 165.96 L378.86 165.94 L379.62 165.92 L380.38 165.90 L381.14 165.88 L381.90 165.87 L382.66 165.85 L383.42 165.84 L384.18 165.83 L384.94 165.81 L385.70 165.80 L386.46 165.79 L387.22 165.78 L387.98 165.77 L388.74 165.76 L389.50 165.75 L390.26 165.74 L391.02 165.74 L391.78 165.73 L392.54 165.72 L393.30 165.71 L394.06 165.71 L394.82 165.70 L395.58 165.69 L396.34 165.69 L397.10 165.68 L397.86 165.68 L398.62 165.67 L399.38 165.67 L400.14 165.66 L400.90 165.66 L401.66 165.66 L402.42 165.65 L403.18 165.65 L403.94 165.64 L404.70 165.64 L405.46 165.64 L406.22 165.63 L406.98 165.63 L407.74 165.63 L408.50 165.63 L409.26 165.62 L410.02 165.62 L410.78 165.62 L411.54 165.62 L412.30 165.62 L413.06 165.61 L413.82 165.61 L414.58 165.61 L415.34 165.61 L416.10 165.61 L416.86 165.61 L417.62 165.60 L418.38 165.60 L419.14 165.60 L419.90 165.60 L420.66 165.60 L421.42 165.60 L422.18 165.60 L422.94 165.60 L423.70 165.60 L424.46 165.60 L425.22 165.60 L425.98 165.59 L426.74 165.59 L427.50 165.59 L428.26 165.59 L429.02 165.59 L429.78 165.59 L430.54 165.59 L431.30 165.59 L432.06 165.59 L432.82 165.59 L433.58 165.59 L434.34 165.59 L435.10 165.59 L435.86 165.59 L436.62 165.59 L437.38 165.59 L438.14 165.59 L438.90 165.60 L439.66 165.60 L440.42 165.60 L441.18 165.60 L441.94 165.60 L442.70 165.60 L443.46 165.60 L444.22 165.60 L444.98 165.60 L445.74 165.60 L446.50 165.60 L447.26 165.61 L448.02 165.61 L448.78 165.61 L449.54 165.61 L450.30 165.61 L451.06 165.61 L451.82 165.62 L452.58 165.62 L453.34 165.62 L454.10 165.62 L454.86 165.62 L455.62 165.63 L456.38 165.63 L457.14 165.63 L457.90 165.63 L458.66 165.64 L459.42 165.64 L460.18 165.64 L460.94 165.65 L461.70 165.65 L462.46 165.66 L463.22 165.66 L463.98 165.66 L464.74 165.67 L465.50 165.67 L466.26 165.68 L467.02 165.68 L467.78 165.69 L468.54 165.69 L469.30 165.70 L470.06 165.71 L470.82 165.71 L471.58 165.72 L472.34 165.73 L473.10 165.74 L473.86 165.74 L474.62 165.75 L475.38 165.76 L476.14 165.77 L476.90 165.78 L477.66 165.79 L478.42 165.80 L479.18 165.81 L479.94 165.83 L480.70 165.84 L481.46 165.85 L482.22 165.87 L482.98 165.88 L483.74 165.90 L484.50 165.92 L485.26 165.94 L486.02 165.96 L486.78 165.98 L487.54 166.00 L488.30 166.03 L489.06 166.06 L489.82 166.08 L490.58 166.12 L491.34 166.15 L492.10 166.18 L492.86 166.22 L493.62 166.26 L494.38 166.31 L495.14 166.35 L495.90 166.40 L496.66 166.46 L497.42 166.51 L498.18 166.57 L498.94 166.64 L499.70 166.71 L500.46 166.78 L501.22 166.85 L501.98 166.93 L502.74 167.02 L503.50 167.10 L504.26 167.20 L505.02 167.29 L505.78 167.40 L506.54 167.50 L507.30 167.61 L508.06 167.73 L508.82 167.85 L509.58 167.97 L510.34 168.10 L511.10 168.24 L511.86 168.37 L512.62 168.52 L513.38 168.67 L514.14 168.82 L514.90 168.98 L515.66 169.14 L516.42 169.31 L517.18 169.48 L517.94 169.66 L518.70 169.84 L519.46 170.03 L520.22 170.22 L520.98 170.42 L521.74 170.62 L522.50 170.83 L523.26 171.04 L524.02 171.26 L524.78 171.48 L525.54 171.71 L526.30 171.94 L527.06 172.18 L527.82 172.42 L528.58 172.67 L529.34 172.92 L530.10 173.18 L530.86 173.44 L531.62 173.71 L532.38 173.98 L533.14 174.26 L533.90 174.54 L534.66 174.83 L535.42 175.12 L536.18 175.42 L536.94 175.72 L537.70 176.03 L538.46 176.34 L539.22 176.66 L539.98 176.99 L540.74 177.31 L541.50 177.65 L542.26 177.99 L543.02 178.33 L543.78 178.68 L544.54 179.03 L545.30 179.39 L546.06 179.76 L546.82 180.13 L547.58 180.50 L548.34 180.88 L549.10 181.26 L549.86 181.65 L550.62 182.05 L551.38 182.45 L552.14 182.85 L552.90 183.26 L553.66 183.68 L554.42 184.10 L555.18 184.53 L555.94 184.96 L556.70 185.39 L557.46 185.83 L558.22 186.28 L558.98 186.73 L559.74 187.19 L560.50 187.65 L561.26 188.12 L562.02 188.59 L562.78 189.07 L563.54 189.55 L564.30 190.03 L565.06 190.53 L565.82 191.02 L566.58 191.53 L567.34 192.03 L568.10 192.55 L568.86 193.07 L569.62 193.59 L570.38 194.12 L571.14 194.65 L571.90 195.19 L572.66 195.73 L573.42 196.28 L574.18 196.84 L574.94 197.40 L575.70 197.96 L576.46 198.53 L577.22 199.10 L577.98 199.68 L578.74 200.27 L579.50 200.86 L580.26 201.45 L581.02 202.06 L581.78 202.66 L582.54 203.27 L583.30 203.89 L584.06 204.51 L584.82 205.13 L585.58 205.77 L586.34 206.40 L587.10 207.04 L587.86 207.69 L588.62 208.34 L589.38 209.00 L590.14 209.66 L590.90 210.33 L591.66 211.00 L592.42 211.68 L593.18 212.36 L593.94 213.05 L594.70 213.74 L595.46 214.44 L596.22 215.15 L596.98 215.85 L597.74 216.57 L598.50 217.29 L599.26 218.01 L600.02 218.74 L600.78 219.48 L601.54 220.21 L602.30 220.96 L603.06 221.71 L603.82 222.46 L604.58 223.22 L605.34 223.99 L606.10 224.76 L606.86 225.54 L607.62 226.32 L608.38 227.10 L609.14 227.89 L609.90 228.69 L610.66 229.49 L611.42 230.30 L612.18 231.11 L612.94 231.93 L613.70 232.75 L614.46 233.58 L615.22 234.41 L615.98 235.25 L616.74 236.09 L617.50 236.94 L618.26 237.79 L619.02 238.65 L619.78 239.51 L620.54 240.38 L621.30 241.26 L622.06 242.13 L622.82 243.02 L623.58 243.91 L624.34 244.80 L625.10 245.70 L625.86 246.61 L626.62 247.52 L627.38 248.43 L628.14 249.35 L628.90 250.28 L629.66 251.21 L630.42 252.14 L631.18 253.08 L631.94 254.03 L632.70 254.98 L633.46 255.94 L634.22 256.90 L634.98 257.87 L635.74 258.84 L636.50 259.82 L637.26 260.80 L638.02 261.79 L638.78 262.78 L639.54 263.78 L640.30 264.78 L641.06 265.79 L641.82 266.80 L642.58 267.82 L643.34 268.84 L644.10 269.87 L644.86 270.90 L645.62 271.94 L646.38 272.99 L647.14 274.04 L647.90 275.09 L648.66 276.15 L649.42 277.22 L650.18 278.29 L650.94 279.36 L651.70 280.44 L652.46 281.53 L653.22 282.62 L653.98 283.71 L654.74 284.81 L655.50 285.92 L656.26 287.03 L657.02 288.15 L657.78 289.27 L658.54 290.40 L659.30 291.53 L660.06 292.67 L660.82 293.81 L661.58 294.96 L662.34 296.11 L663.10 297.27 L663.86 298.43 L664.62 299.60 L665.38 300.77 L666.14 301.95 L666.90 303.13 L667.66 304.32 L668.42 305.52 L669.18 306.72 L669.94 307.92 L670.70 309.13 L671.46 310.34 L672.22 311.56 L672.98 312.79 L673.74 314.02 L674.50 315.26 L675.26 316.50 L676.02 317.74 L676.78 318.99 L677.54 320.25 L678.30 321.51 L679.06 322.78 L679.82 324.05 L680.58 325.32 L681.34 326.61 L682.10 327.89 L682.86 329.19 L683.62 330.48 L684.38 331.79 L685.14 333.09 L685.90 334.41 L686.66 335.72 L687.42 337.05 L688.18 338.38 L688.94 339.71 L689.70 341.05 L690.46 342.39 L691.22 343.74 L691.98 345.10 L692.74 346.46 L693.50 347.82 L694.26 349.19 L695.02 350.56 L695.78 351.95 L696.54 353.33 L697.30 354.72 L698.06 356.12 L698.82 357.52 L699.58 358.92 L700.34 360.33 L701.10 361.75 L701.86 363.17 L702.62 364.60 L703.38 366.03 L704.14 367.47 L704.90 368.91 L705.66 370.36 L706.42 371.81 L707.18 373.27 L707.94 374.73 L708.70 376.20 L709.46 377.67 L710.22 379.15 L710.98 380.63 L711.74 382.12 L712.50 383.62 L713.26 385.11 L714.02 386.62 L714.78 388.13 L715.54 389.64 L716.30 391.16 L717.06 392.69 L717.82 394.22 L718.58 395.75 L719.34 397.29 L720.10 398.84 L720.86 400.39 L721.62 401.95 L722.38 403.51 L723.14 405.07 L723.90 406.64 L724.66 408.22 L725.42 409.80 L726.18 411.39 L726.94 412.98 L727.70 414.58 L728.46 416.18 L729.22 417.79 L729.98 419.40 L730.74 421.02 L731.50 422.64 L732.26 424.27 L733.02 425.90 L733.78 427.54 L734.54 429.19 L735.30 430.84 L736.06 432.49" fill="none" stroke="#00c000" stroke-width="1.1"/>
<path d="M128.06 432.49 L128.82 430.84 L129.58 429.19 L130.34 427.55 L131.10 425.91 L131.86 424.28 L132.62 422.65 L133.38 421.03 L134.14 419.41 L134.90 417.80 L135.66 416.19 L136.42 414.59 L137.18 412.99 L137.94 411.40 L138.70 409.82 L139.46 408.23 L140.22 406.66 L140.98 405.09 L141.74 403.52 L142.50 401.96 L143.26 400.41 L144.02 398.86 L144.78 397.31 L145.54 395.77 L146.30 394.24 L147.06 392.71 L147.82 391.19 L148.58 389.67 L149.34 388.16 L150.10 386.65 L150.86 385.14 L151.62 383.65 L152.38 382.15 L153.14 380.67 L153.90 379.18 L154.66 377.71 L155.42 376.23 L156.18 374.77 L156.94 373.30 L157.70 371.85 L158.46 370.40 L159.22 368.95 L159.98 367.51 L160.74 366.07 L161.50 364.64 L162.26 363.22 L163.02 361.80 L163.78 360.38 L164.54 358.97 L165.30 357.57 L166.06 356.17 L166.82 354.77 L167.58 353.38 L168.34 352.00 L169.10 350.62 L169.86 349.25 L170.62 347.88 L171.38 346.51 L172.14 345.16 L172.90 343.80 L173.66 342.45 L174.42 341.11 L175.18 339.77 L175.94 338.44 L176.70 337.11 L177.46 335.79 L178.22 334.48 L178.98 333.16 L179.74 331.86 L180.50 330.56 L181.26 329.26 L182.02 327.97 L182.78 326.68 L183.54 325.40 L184.30 324.13 L185.06 322.86 L185.82 321.59 L186.58 320.33 L187.34 319.08 L188.10 317.83 L188.86 316.58 L189.62 315.34 L190.38 314.11 L191.14 312.88 L191.90 311.66 L192.66 310.44 L193.42 309.22 L194.18 308.01 L194.94 306.81 L195.70 305.61 L196.46 304.42 L197.22 303.23 L197.98 302.05 L198.74 300.87 L199.50 299.70 L200.26 298.53 L201.02 297.37 L201.78 296.22 L202.54 295.07 L203.30 293.92 L204.06 292.78 L204.82 291.64 L205.58 290.51 L206.34 289.39 L207.10 288.27 L207.86 287.15 L208.62 286.04 L209.38 284.94 L210.14 283.84 L210.90 282.74 L211.66 281.65 L212.42 280.57 L213.18 279.49 L213.94 278.42 L214.70 277.35 L215.46 276.28 L216.22 275.22 L216.98 274.17 L217.74 273.12 L218.50 272.08 L219.26 271.04 L220.02 270.01 L220.78 268.98 L221.54 267.96 L222.30 266.95 L223.06 265.93 L223.82 264.93 L224.58 263.93 L225.34 262.93 L226.10 261.94 L226.86 260.95 L227.62 259.97 L228.38 259.00 L229.14 258.03 L229.90 257.06 L230.66 256.10 L231.42 255.15 L232.18 254.20 L232.94 253.25 L233.70 252.31 L234.46 251.38 L235.22 250.45 L235.98 249.53 L236.74 248.61 L237.50 247.69 L238.26 246.79 L239.02 245.88 L239.78 244.98 L240.54 244.09 L241.30 243.20 L242.06 242.32 L242.82 241.45 L243.58 240.57 L244.34 239.71 L245.10 238.84 L245.86 237.99 L246.62 237.14 L247.38 236.29 L248.14 235.45 L248.90 234.61 L249.66 233.78 L250.42 232.96 L251.18 232.14 L251.94 231.32 L252.70 230.51 L253.46 229.71 L254.22 228.91 L254.98 228.11 L255.74 227.32 L256.50 226.54 L257.26 225.76 L258.02 224.99 L258.78 224.22 L259.54 223.46 L260.30 222.70 L261.06 221.94 L261.82 221.20 L262.58 220.45 L263.34 219.72 L264.10 218.98 L264.86 218.26 L265.62 217.53 L266.38 216.82 L267.14 216.11 L267.90 215.40 L268.66 214.70 L269.42 214.00 L270.18 213.31 L270.94 212.63 L271.70 211.94 L272.46 211.27 L273.22 210.60 L273.98 209.93 L274.74 209.27 L275.50 208.62 L276.26 207.97 L277.02 207.32 L277.78 206.69 L278.54 206.05 L279.30 205.42 L280.06 204.80 L280.82 204.18 L281.58 203.57 L282.34 202.96 L283.10 202.36 L283.86 201.76 L284.62 201.16 L285.38 200.58 L286.14 199.99 L286.90 199.42 L287.66 198.85 L288.42 198.28 L289.18 197.72 L289.94 197.16 L290.70 196.61 L291.46 196.06 L292.22 195.52 L292.98 194.99 L293.74 194.46 L294.50 193.93 L295.26 193.41 L296.02 192.89 L296.78 192.38 L297.54 191.88 L298.30 191.38 L299.06 190.89 L299.82 190.40 L300.58 189.91 L301.34 189.43 L302.10 188.96 L302.86 188.49 L303.62 188.03 L304.38 187.57 L305.14 187.12 L305.90 186.67 L306.66 186.23 L307.42 185.79 L308.18 185.36 L308.94 184.93 L309.70 184.51 L310.46 184.09 L311.22 183.68 L311.98 183.27 L312.74 182.87 L313.50 182.47 L314.26 182.08 L315.02 181.70 L315.78 181.32 L316.54 180.94 L317.30 180.57 L318.06 180.20 L318.82 179.84 L319.58 179.49 L320.34 179.14 L321.10 178.79 L321.86 178.46 L322.62 178.12 L323.38 177.79 L324.14 177.47 L324.90 177.15 L325.66 176.84 L326.42 176.53 L327.18 176.22 L327.94 175.93 L328.70 175.63 L329.46 175.35 L330.22 175.06 L330.98 174.79 L331.74 174.51 L332.50 174.25 L333.26 173.98 L334.02 173.73 L334.78 173.48 L335.54 173.23 L336.30 172.99 L337.06 172.75 L337.82 172.52 L338.58 172.30 L339.34 172.07 L340.10 171.86 L340.86 171.65 L341.62 171.44 L342.38 171.24 L343.14 171.05 L343.90 170.86 L344.66 170.67 L345.42 170.49 L346.18 170.32 L346.94 170.15 L347.70 169.99 L348.46 169.83 L349.22 169.67 L349.98 169.53 L350.74 169.38 L351.50 169.24 L352.26 169.11 L353.02 168.98 L353.78 168.86 L354.54 168.74 L355.30 168.63 L356.06 168.52 L356.82 168.42 L357.58 168.32 L358.34 168.23 L359.10 168.14 L359.86 168.06 L360.62 167.98 L361.38 167.91 L362.14 167.84 L362.90 167.78 L363.66 167.72 L364.42 167.67 L365.18 167.62 L365.94 167.58 L366.70 167.54 L367.46 167.51 L368.22 167.48 L368.98 167.45 L369.74 167.43 L370.50 167.42 L371.26 167.40 L372.02 167.39 L372.78 167.38 L373.54 167.37 L374.30 167.37 L375.06 167.36 L375.82 167.36 L376.58 167.35 L377.34 167.35 L378.10 167.35 L378.86 167.34 L379.62 167.34 L380.38 167.34 L381.14 167.34 L381.90 167.33 L382.66 167.33 L383.42 167.33 L384.18 167.33 L384.94 167.33 L385.70 167.33 L386.46 167.32 L387.22 167.32 L387.98 167.32 L388.74 167.32 L389.50 167.32 L390.26 167.32 L391.02 167.32 L391.78 167.32 L392.54 167.32 L393.30 167.32 L394.06 167.32 L394.82 167.31 L395.58 167.31 L396.34 167.31 L397.10 167.31 L397.86 167.31 L398.62 167.31 L399.38 167.31 L400.14 167.31 L400.90 167.31 L401.66 167.31 L402.42 167.31 L403.18 167.31 L403.94 167.31 L404.70 167.31 L405.46 167.31 L406.22 167.31 L406.98 167.31 L407.74 167.31 L408.50 167.31 L409.26 167.31 L410.02 167.31 L410.78 167.31 L411.54 167.31 L412.30 167.31 L413.06 167.31 L413.82 167.31 L414.58 167.31 L415.34 167.30 L416.10 167.30 L416.86 167.30 L417.62 167.30 L418.38 167.30 L419.14 167.30 L419.90 167.30 L420.66 167.30 L421.42 167.30 L422.18 167.30 L422.94 167.30 L423.70 167.30 L424.46 167.30 L425.22 167.30 L425.98 167.30 L426.74 167.30 L427.50 167.30 L428.26 167.30 L429.02 167.30 L429.78 167.30 L430.54 167.30 L431.30 167.30 L432.06 167.30 L432.82 167.30 L433.58 167.30 L434.34 167.30 L435.10 167.30 L435.86 167.30 L436.62 167.30 L437.38 167.30 L438.14 167.30 L438.90 167.30 L439.66 167.30 L440.42 167.30 L441.18 167.30 L441.94 167.30 L442.70 167.30 L443.46 167.30 L444.22 167.30 L444.98 167.30 L445.74 167.30 L446.50 167.30 L447.26 167.30 L448.02 167.30 L448.78 167.30 L449.54 167.31 L450.30 167.31 L451.06 167.31 L451.82 167.31 L452.58 167.31 L453.34 167.31 L454.10 167.31 L454.86 167.31 L455.62 167.31 L456.38 167.31 L457.14 167.31 L457.90 167.31 L458.66 167.31 L459.42 167.31 L460.18 167.31 L460.94 167.31 L461.70 167.31 L462.46 167.31 L463.22 167.31 L463.98 167.31 L464.74 167.31 L465.50 167.31 L466.26 167.31 L467.02 167.31 L467.78 167.31 L468.54 167.31 L469.30 167.31 L470.06 167.32 L470.82 167.32 L471.58 167.32 L472.34 167.32 L473.10 167.32 L473.86 167.32 L474.62 167.32 L475.38 167.32 L476.14 167.32 L476.90 167.32 L477.66 167.32 L478.42 167.33 L479.18 167.33 L479.94 167.33 L480.70 167.33 L481.46 167.33 L482.22 167.33 L482.98 167.34 L483.74 167.34 L484.50 167.34 L485.26 167.34 L486.02 167.35 L486.78 167.35 L487.54 167.35 L488.30 167.36 L489.06 167.36 L489.82 167.37 L490.58 167.37 L491.34 167.38 L492.10 167.39 L492.86 167.40 L493.62 167.42 L494.38 167.43 L495.14 167.45 L495.90 167.48 L496.66 167.51 L497.42 167.54 L498.18 167.58 L498.94 167.62 L499.70 167.67 L500.46 167.72 L501.22 167.78 L501.98 167.84 L502.74 167.91 L503.50 167.98 L504.26 168.06 L505.02 168.14 L505.78 168.23 L506.54 168.32 L507.30 168.42 L508.06 168.52 L508.82 168.63 L509.58 168.74 L510.34 168.86 L511.10 168.98 L511.86 169.11 L512.62 169.24 L513.38 169.38 L514.14 169.53 L514.90 169.67 L515.66 169.83 L516.42 169.99 L517.18 170.15 L517.94 170.32 L518.70 170.49 L519.46 170.67 L520.22 170.86 L520.98 171.05 L521.74 171.24 L522.50 171.44 L523.26 171.65 L524.02 171.86 L524.78 172.07 L525.54 172.30 L526.30 172.52 L527.06 172.75 L527.82 172.99 L528.58 173.23 L529.34 173.48 L530.10 173.73 L530.86 173.98 L531.62 174.25 L532.38 174.51 L533.14 174.79 L533.90 175.06 L534.66 175.35 L535.42 175.63 L536.18 175.93 L536.94 176.22 L537.70 176.53 L538.46 176.84 L539.22 177.15 L539.98 177.47 L540.74 177.79 L541.50 178.12 L542.26 178.46 L543.02 178.79 L543.78 179.14 L544.54 179.49 L545.30 179.84 L546.06 180.20 L546.82 180.57 L547.58 180.94 L548.34 181.32 L549.10 181.70 L549.86 182.08 L550.62 182.47 L551.38 182.87 L552.14 183.27 L552.90 183.68 L553.66 184.09 L554.42 184.51 L555.18 184.93 L555.94 185.36 L556.70 185.79 L557.46 186.23 L558.22 186.67 L558.98 187.12 L559.74 187.57 L560.50 188.03 L561.26 188.49 L562.02 188.96 L562.78 189.43 L563.54 189.91 L564.30 190.40 L565.06 190.89 L565.82 191.38 L566.58 191.88 L567.34 192.38 L568.10 192.89 L568.86 193.41 L569.62 193.93 L570.38 194.46 L571.14 194.99 L571.90 195.52 L572.66 196.06 L573.42 196.61 L574.18 197.16 L574.94 197.72 L575.70 198.28 L576.46 198.85 L577.22 199.42 L577.98 199.99 L578.74 200.58 L579.50 201.16 L580.26 201.76 L581.02 202.36 L581.78 202.96 L582.54 203.57 L583.30 204.18 L584.06 204.80 L584.82 205.42 L585.58 206.05 L586.34 206.69 L587.10 207.32 L587.86 207.97 L588.62 208.62 L589.38 209.27 L590.14 209.93 L590.90 210.60 L591.66 211.27 L592.42 211.94 L593.18 212.63 L593.94 213.31 L594.70 214.00 L595.46 214.70 L596.22 215.40 L596.98 216.11 L597.74 216.82 L598.50 217.53 L599.26 218.26 L600.02 218.98 L600.78 219.72 L601.54 220.45 L602.30 221.20 L603.06 221.94 L603.82 222.70 L604.58 223.46 L605.34 224.22 L606.10 224.99 L606.86 225.76 L607.62 226.54 L608.38 227.32 L609.14 228.11 L609.90 228.91 L610.66 229.71 L611.42 230.51 L612.18 231.32 L612.94 232.14 L613.70 232.96 L614.46 233.78 L615.22 234.61 L615.98 235.45 L616.74 236.29 L617.50 237.14 L618.26 237.99 L619.02 238.84 L619.78 239.71 L620.54 240.57 L621.30 241.45 L622.06 242.32 L622.82 243.20 L623.58 244.09 L624.34 244.98 L625.10 245.88 L625.86 246.79 L626.62 247.69 L627.38 248.61 L628.14 249.53 L628.90 250.45 L629.66 251.38 L630.42 252.31 L631.18 253.25 L631.94 254.20 L632.70 255.15 L633.46 256.10 L634.22 257.06 L634.98 258.03 L635.74 259.00 L636.50 259.97 L637.26 260.95 L638.02 261.94 L638.78 262.93 L639.54 263.93 L640.30 264.93 L641.06 265.93 L641.82 266.95 L642.58 267.96 L643.34 268.98 L644.10 270.01 L644.86 271.04 L645.62 272.08 L646.38 273.12 L647.14 274.17 L647.90 275.22 L648.66 276.28 L649.42 277.35 L650.18 278.42 L650.94 279.49 L651.70 280.57 L652.46 281.65 L653.22 282.74 L653.98 283.84 L654.74 284.94 L655.50 286.04 L656.26 287.15 L657.02 288.27 L657.78 289.39 L658.54 290.51 L659.30 291.64 L660.06 292.78 L660.82 293.92 L661.58 295.07 L662.34 296.22 L663.10 297.37 L663.86 298.53 L664.62 299.70 L665.38 300.87 L666.14 302.05 L666.90 303.23 L667.66 304.42 L668.42 305.61 L669.18 306.81 L669.94 308.01 L670.70 309.22 L671.46 310.44 L672.22 311.66 L672.98 312.88 L673.74 314.11 L674.50 315.34 L675.26 316.58 L676.02 317.83 L676.78 319.08 L677.54 320.33 L678.30 321.59 L679.06 322.86 L679.82 324.13 L680.58 325.40 L681.34 326.68 L682.10 327.97 L682.86 329.26 L683.62 330.56 L684.38 331.86 L685.14 333.16 L685.90 334.48 L686.66 335.79 L687.42 337.11 L688.18 338.44 L688.94 339.77 L689.70 341.11 L690.46 342.45 L691.22 343.80 L691.98 345.16 L692.74 346.51 L693.50 347.88 L694.26 349.25 L695.02 350.62 L695.78 352.00 L696.54 353.38 L697.30 354.77 L698.06 356.17 L698.82 357.57 L699.58 358.97 L700.34 360.38 L701.10 361.80 L701.86 363.22 L702.62 364.64 L703.38 366.07 L704.14 367.51 L704.90 368.95 L705.66 370.40 L706.42 371.85 L707.18 373.30 L707.94 374.77 L708.70 376.23 L709.46 377.71 L710.22 379.18 L710.98 380.67 L711.74 382.15 L712.50 383.65 L713.26 385.14 L714.02 386.65 L714.78 388.16 L715.54 389.67 L716.30 391.19 L717.06 392.71 L717.82 394.24 L718.58 395.77 L719.34 397.31 L720.10 398.86 L720.86 400.41 L721.62 401.96 L722.38 403.52 L723.14 405.09 L723.90 406.66 L724.66 408.23 L725.42 409.82 L726.18 411.40 L726.94 412.99 L727.70 414.59 L728.46 416.19 L729.22 417.80 L729.98 419.41 L730.74 421.03 L731.50 422.65 L732.26 424.28 L733.02 425.91 L733.78 427.55 L734.54 429.19 L735.30 430.84 L736.06 432.49" fill="none" stroke="#ff00ff" stroke-width="1.1"/>
<path d="M128.06 432.49 L128.82 430.84 L129.58 429.19 L130.34 427.55 L131.10 425.91 L131.86 424.28 L132.62 422.65 L133.38 421.03 L134.14 419.41 L134.90 417.80 L135.66 416.19 L136.42 414.59 L137.18 412.99 L137.94 411.40 L138.70 409.82 L139.46 408.24 L140.22 406.66 L140.98 405.09 L141.74 403.53 L142.50 401.97 L143.26 400.41 L144.02 398.86 L144.78 397.32 L145.54 395.78 L146.30 394.24 L147.06 392.71 L147.82 391.19 L148.58 389.67 L149.34 388.16 L150.10 386.65 L150.86 385.15 L151.62 383.65 L152.38 382.16 L153.14 380.67 L153.90 379.19 L154.66 377.71 L155.42 376.24 L156.18 374.77 L156.94 373.31 L157.70 371.85 L158.46 370.40 L159.22 368.96 L159.98 367.51 L160.74 366.08 L161.50 364.65 L162.26 363.22 L163.02 361.80 L163.78 360.39 L164.54 358.98 L165.30 357.57 L166.06 356.17 L166.82 354.78 L167.58 353.39 L168.34 352.00 L169.10 350.63 L169.86 349.25 L170.62 347.88 L171.38 346.52 L172.14 345.16 L172.90 343.81 L173.66 342.46 L174.42 341.12 L175.18 339.78 L175.94 338.45 L176.70 337.12 L177.46 335.80 L178.22 334.48 L178.98 333.17 L179.74 331.86 L180.50 330.56 L181.26 329.27 L182.02 327.98 L182.78 326.69 L183.54 325.41 L184.30 324.13 L185.06 322.86 L185.82 321.60 L186.58 320.34 L187.34 319.08 L188.10 317.84 L188.86 316.59 L189.62 315.35 L190.38 314.12 L191.14 312.89 L191.90 311.67 L192.66 310.45 L193.42 309.23 L194.18 308.03 L194.94 306.82 L195.70 305.62 L196.46 304.43 L197.22 303.24 L197.98 302.06 L198.74 300.89 L199.50 299.71 L200.26 298.55 L201.02 297.38 L201.78 296.23 L202.54 295.08 L203.30 293.93 L204.06 292.79 L204.82 291.65 L205.58 290.52 L206.34 289.40 L207.10 288.28 L207.86 287.16 L208.62 286.05 L209.38 284.95 L210.14 283.85 L210.90 282.76 L211.66 281.67 L212.42 280.58 L213.18 279.50 L213.94 278.43 L214.70 277.36 L215.46 276.30 L216.22 275.24 L216.98 274.19 L217.74 273.14 L218.50 272.10 L219.26 271.06 L220.02 270.03 L220.78 269.00 L221.54 267.98 L222.30 266.96 L223.06 265.95 L223.82 264.94 L224.58 263.94 L225.34 262.95 L226.10 261.96 L226.86 260.97 L227.62 259.99 L228.38 259.01 L229.14 258.04 L229.90 257.08 L230.66 256.12 L231.42 255.16 L232.18 254.22 L232.94 253.27 L233.70 252.33 L234.46 251.40 L235.22 250.47 L235.98 249.55 L236.74 248.63 L237.50 247.71 L238.26 246.81 L239.02 245.90 L239.78 245.01 L240.54 244.11 L241.30 243.23 L242.06 242.34 L242.82 241.47 L243.58 240.59 L244.34 239.73 L245.10 238.87 L245.86 238.01 L246.62 237.16 L247.38 236.31 L248.14 235.47 L248.90 234.64 L249.66 233.81 L250.42 232.98 L251.18 232.16 L251.94 231.35 L252.70 230.54 L253.46 229.73 L254.22 228.93 L254.98 228.14 L255.74 227.35 L256.50 226.56 L257.26 225.79 L258.02 225.01 L258.78 224.24 L259.54 223.48 L260.30 222.72 L261.06 221.97 L261.82 221.22 L262.58 220.48 L263.34 219.74 L264.10 219.01 L264.86 218.28 L265.62 217.56 L266.38 216.85 L267.14 216.13 L267.90 215.43 L268.66 214.73 L269.42 214.03 L270.18 213.34 L270.94 212.65 L271.70 211.97 L272.46 211.30 L273.22 210.63 L273.98 209.96 L274.74 209.30 L275.50 208.65 L276.26 208.00 L277.02 207.36 L277.78 206.72 L278.54 206.08 L279.30 205.45 L280.06 204.83 L280.82 204.21 L281.58 203.60 L282.34 202.99 L283.10 202.39 L283.86 201.79 L284.62 201.20 L285.38 200.61 L286.14 200.03 L286.90 199.45 L287.66 198.88 L288.42 198.31 L289.18 197.75 L289.94 197.20 L290.70 196.65 L291.46 196.10 L292.22 195.56 L292.98 195.02 L293.74 194.49 L294.50 193.97 L295.26 193.45 L296.02 192.93 L296.78 192.42 L297.54 191.92 L298.30 191.42 L299.06 190.93 L299.82 190.44 L300.58 189.95 L301.34 189.47 L302.10 189.00 L302.86 188.53 L303.62 188.07 L304.38 187.61 L305.14 187.16 L305.90 186.71 L306.66 186.27 L307.42 185.83 L308.18 185.40 L308.94 184.97 L309.70 184.55 L310.46 184.14 L311.22 183.72 L311.98 183.32 L312.74 182.92 L313.50 182.52 L314.26 182.13 L315.02 181.74 L315.78 181.36 L316.54 180.99 L317.30 180.62 L318.06 180.25 L318.82 179.89 L319.58 179.54 L320.34 179.19 L321.10 178.85 L321.86 178.51 L322.62 178.17 L323.38 177.85 L324.14 177.52 L324.90 177.20 L325.66 176.89 L326.42 176.58 L327.18 176.28 L327.94 175.98 L328.70 175.69 L329.46 175.40 L330.22 175.12 L330.98 174.84 L331.74 174.57 L332.50 174.31 L333.26 174.05 L334.02 173.79 L334.78 173.54 L335.54 173.29 L336.30 173.05 L337.06 172.82 L337.82 172.59 L338.58 172.36 L339.34 172.14 L340.10 171.93 L340.86 171.72 L341.62 171.51 L342.38 171.31 L343.14 171.12 L343.90 170.93 L344.66 170.75 L345.42 170.57 L346.18 170.40 L346.94 170.23 L347.70 170.06 L348.46 169.91 L349.22 169.75 L349.98 169.61 L350.74 169.46 L351.50 169.33 L352.26 169.19 L353.02 169.07 L353.78 168.95 L354.54 168.83 L355.30 168.72 L356.06 168.61 L356.82 168.51 L357.58 168.42 L358.34 168.33 L359.10 168.24 L359.86 168.16 L360.62 168.09 L361.38 168.02 L362.14 167.95 L362.90 167.89 L363.66 167.84 L364.42 167.79 L365.18 167.74 L365.94 167.70 L366.70 167.67 L367.46 167.64 L368.22 167.62 L368.98 167.60 L369.74 167.59 L370.50 167.58 L371.26 167.58 L372.02 167.58 L372.78 167.58 L373.54 167.58 L374.30 167.58 L375.06 167.58 L375.82 167.58 L376.58 167.58 L377.34 167.58 L378.10 167.58 L378.86 167.58 L379.62 167.58 L380.38 167.58 L381.14 167.58 L381.90 167.58 L382.66 167.58 L383.42 167.58 L384.18 167.58 L384.94 167.58 L385.70 167.58 L386.46 167.58 L387.22 167.58 L387.98 167.58 L388.74 167.58 L389.50 167.58 L390.26 167.58 L391.02 167.58 L391.78 167.58 L392.54 167.58 L393.30 167.58 L394.06 167.58 L394.82 167.58 L395.58 167.58 L396.34 167.58 L397.10 167.58 L397.86 167.58 L398.62 167.58 L399.38 167.58 L400.14 167.58 L400.90 167.58 L401.66 167.58 L402.42 167.58 L403.18 167.58 L403.94 167.58 L404.70 167.58 L405.46 167.58 L406.22 167.58 L406.98 167.58 L407.74 167.58 L408.50 167.58 L409.26 167.58 L410.02 167.58 L410.78 167.58 L411.54 167.58 L412.30 167.58 L413.06 167.58 L413.82 167.58 L414.58 167.58 L415.34 167.58 L416.10 167.58 L416.86 167.58 L417.62 167.58 L418.38 167.58 L419.14 167.58 L419.90 167.58 L420.66 167.58 L421.42 167.58 L422.18 167.58 L422.94 167.58 L423.70 167.58 L424.46 167.58 L425.22 167.58 L425.98 167.58 L426.74 167.58 L427.50 167.58 L428.26 167.58 L429.02 167.58 L429.78 167.58 L430.54 167.58 L431.30 167.58 L432.06 167.58 L432.82 167.58 L433.58 167.58 L434.34 167.58 L435.10 167.58 L435.86 167.58 L436.62 167.58 L437.38 167.58 L438.14 167.58 L438.90 167.58 L439.66 167.58 L440.42 167.58 L441.18 167.58 L441.94 167.58 L442.70 167.58 L443.46 167.58 L444.22 167.58 L444.98 167.58 L445.74 167.58 L446.50 167.58 L447.26 167.58 L448.02 167.58 L448.78 167.58 L449.54 167.58 L450.30 167.58 L451.06 167.58 L451.82 167.58 L452.58 167.58 L453.34 167.58 L454.10 167.58 L454.86 167.58 L455.62 167.58 L456.38 167.58 L457.14 167.58 L457.90 167.58 L458.66 167.58 L459.42 167.58 L460.18 167.58 L460.94 167.58 L461.70 167.58 L462.46 167.58 L463.22 167.58 L463.98 167.58 L464.74 167.58 L465.50 167.58 L466.26 167.58 L467.02 167.58 L467.78 167.58 L468.54 167.58 L469.30 167.58 L470.06 167.58 L470.82 167.58 L471.58 167.58 L472.34 167.58 L473.10 167.58 L473.86 167.58 L474.62 167.58 L475.38 167.58 L476.14 167.58 L476.90 167.58 L477.66 167.58 L478.42 167.58 L479.18 167.58 L479.94 167.58 L480.70 167.58 L481.46 167.58 L482.22 167.58 L482.98 167.58 L483.74 167.58 L484.50 167.58 L485.26 167.58 L486.02 167.58 L486.78 167.58 L487.54 167.58 L488.30 167.58 L489.06 167.58 L489.82 167.58 L490.58 167.58 L491.34 167.58 L492.10 167.58 L492.86 167.58 L493.62 167.58 L494.38 167.59 L495.14 167.60 L495.90 167.62 L496.66 167.64 L497.42 167.67 L498.18 167.70 L498.94 167.74 L499.70 167.79 L500.46 167.84 L501.22 167.89 L501.98 167.95 L502.74 168.02 L503.50 168.09 L504.26 168.16 L505.02 168.24 L505.78 168.33 L506.54 168.42 L507.30 168.51 L508.06 168.61 L508.82 168.72 L509.58 168.83 L510.34 168.95 L511.10 169.07 L511.86 169.19 L512.62 169.33 L513.38 169.46 L514.14 169.61 L514.90 169.75 L515.66 169.91 L516.42 170.06 L517.18 170.23 L517.94 170.40 L518.70 170.57 L519.46 170.75 L520.22 170.93 L520.98 171.12 L521.74 171.31 L522.50 171.51 L523.26 171.72 L524.02 171.93 L524.78 172.14 L525.54 172.36 L526.30 172.59 L527.06 172.82 L527.82 173.05 L528.58 173.29 L529.34 173.54 L530.10 173.79 L530.86 174.05 L531.62 174.31 L532.38 174.57 L533.14 174.84 L533.90 175.12 L534.66 175.40 L535.42 175.69 L536.18 175.98 L536.94 176.28 L537.70 176.58 L538.46 176.89 L539.22 177.20 L539.98 177.52 L540.74 177.85 L541.50 178.17 L542.26 178.51 L543.02 178.85 L543.78 179.19 L544.54 179.54 L545.30 179.89 L546.06 180.25 L546.82 180.62 L547.58 180.99 L548.34 181.36 L549.10 181.74 L549.86 182.13 L550.62 182.52 L551.38 182.92 L552.14 183.32 L552.90 183.72 L553.66 184.14 L554.42 184.55 L555.18 184.97 L555.94 185.40 L556.70 185.83 L557.46 186.27 L558.22 186.71 L558.98 187.16 L559.74 187.61 L560.50 188.07 L561.26 188.53 L562.02 189.00 L562.78 189.47 L563.54 189.95 L564.30 190.44 L565.06 190.93 L565.82 191.42 L566.58 191.92 L567.34 192.42 L568.10 192.93 L568.86 193.45 L569.62 193.97 L570.38 194.49 L571.14 195.02 L571.90 195.56 L572.66 196.10 L573.42 196.65 L574.18 197.20 L574.94 197.75 L575.70 198.31 L576.46 198.88 L577.22 199.45 L577.98 200.03 L578.74 200.61 L579.50 201.20 L580.26 201.79 L581.02 202.39 L581.78 202.99 L582.54 203.60 L583.30 204.21 L584.06 204.83 L584.82 205.45 L585.58 206.08 L586.34 206.72 L587.10 207.36 L587.86 208.00 L588.62 208.65 L589.38 209.30 L590.14 209.96 L590.90 210.63 L591.66 211.30 L592.42 211.97 L593.18 212.65 L593.94 213.34 L594.70 214.03 L595.46 214.73 L596.22 215.43 L596.98 216.13 L597.74 216.85 L598.50 217.56 L599.26 218.28 L600.02 219.01 L600.78 219.74 L601.54 220.48 L602.30 221.22 L603.06 221.97 L603.82 222.72 L604.58 223.48 L605.34 224.24 L606.10 225.01 L606.86 225.79 L607.62 226.56 L608.38 227.35 L609.14 228.14 L609.90 228.93 L610.66 229.73 L611.42 230.54 L612.18 231.35 L612.94 232.16 L613.70 232.98 L614.46 233.81 L615.22 234.64 L615.98 235.47 L616.74 236.31 L617.50 237.16 L618.26 238.01 L619.02 238.87 L619.78 239.73 L620.54 240.59 L621.30 241.47 L622.06 242.34 L622.82 243.23 L623.58 244.11 L624.34 245.01 L625.10 245.90 L625.86 246.81 L626.62 247.71 L627.38 248.63 L628.14 249.55 L628.90 250.47 L629.66 251.40 L630.42 252.33 L631.18 253.27 L631.94 254.22 L632.70 255.16 L633.46 256.12 L634.22 257.08 L634.98 258.04 L635.74 259.01 L636.50 259.99 L637.26 260.97 L638.02 261.96 L638.78 262.95 L639.54 263.94 L640.30 264.94 L641.06 265.95 L641.82 266.96 L642.58 267.98 L643.34 269.00 L644.10 270.03 L644.86 271.06 L645.62 272.10 L646.38 273.14 L647.14 274.19 L647.90 275.24 L648.66 276.30 L649.42 277.36 L650.18 278.43 L650.94 279.50 L651.70 280.58 L652.46 281.67 L653.22 282.76 L653.98 283.85 L654.74 284.95 L655.50 286.05 L656.26 287.16 L657.02 288.28 L657.78 289.40 L658.54 290.52 L659.30 291.65 L660.06 292.79 L660.82 293.93 L661.58 295.08 L662.34 296.23 L663.10 297.38 L663.86 298.55 L664.62 299.71 L665.38 300.89 L666.14 302.06 L666.90 303.24 L667.66 304.43 L668.42 305.62 L669.18 306.82 L669.94 308.03 L670.70 309.23 L671.46 310.45 L672.22 311.67 L672.98 312.89 L673.74 314.12 L674.50 315.35 L675.26 316.59 L676.02 317.84 L676.78 319.08 L677.54 320.34 L678.30 321.60 L679.06 322.86 L679.82 324.13 L680.58 325.41 L681.34 326.69 L682.10 327.98 L682.86 329.27 L683.62 330.56 L684.38 331.86 L685.14 333.17 L685.90 334.48 L686.66 335.80 L687.42 337.12 L688.18 338.45 L688.94 339.78 L689.70 341.12 L690.46 342.46 L691.22 343.81 L691.98 345.16 L692.74 346.52 L693.50 347.88 L694.26 349.25 L695.02 350.63 L695.78 352.00 L696.54 353.39 L697.30 354.78 L698.06 356.17 L698.82 357.57 L699.58 358.98 L700.34 360.39 L701.10 361.80 L701.86 363.22 L702.62 364.65 L703.38 366.08 L704.14 367.51 L704.90 368.96 L705.66 370.40 L706.42 371.85 L707.18 373.31 L707.94 374.77 L708.70 376.24 L709.46 377.71 L710.22 379.19 L710.98 380.67 L711.74 382.16 L712.50 383.65 L713.26 385.15 L714.02 386.65 L714.78 388.16 L715.54 389.67 L716.30 391.19 L717.06 392.71 L717.82 394.24 L718.58 395.78 L719.34 397.32 L720.10 398.86 L720.86 400.41 L721.62 401.97 L722.38 403.53 L723.14 405.09 L723.90 406.66 L724.66 408.24 L725.42 409.82 L726.18 411.40 L726.94 412.99 L727.70 414.59 L728.46 416.19 L729.22 417.80 L729.98 419.41 L730.74 421.03 L731.50 422.65 L732.26 424.28 L733.02 425.91 L733.78 427.55 L734.54 429.19 L735.30 430.84 L736.06 432.49" fill="none" stroke="#00ffff" stroke-width="1.0" stroke-dasharray="5.7 2.7"/>
</g>
<rect x="125.08" y="1.95" width="614.12" height="430.55" fill="none" stroke="#000" stroke-width="1.95"/>
<path d="M125.08 366.26 h9.00 M739.20 366.26 h-9.00 M125.08 300.03 h9.00 M739.20 300.03 h-9.00 M125.08 233.81 h9.00 M739.20 233.81 h-9.00 M125.08 167.58 h9.00 M739.20 167.58 h-9.00 M125.08 101.35 h9.00 M739.20 101.35 h-9.00 M125.08 35.12 h9.00 M739.20 35.12 h-9.00 M128.06 432.50 v-9.00 M128.06 1.95 v9.00 M280.06 432.50 v-9.00 M280.06 1.95 v9.00 M432.06 432.50 v-9.00 M432.06 1.95 v9.00 M584.06 432.50 v-9.00 M584.06 1.95 v9.00 M736.06 432.50 v-9.00 M736.06 1.95 v9.00" stroke="#000" stroke-width="1.9" fill="none"/>
<rect x="346.05" y="249.77" width="261.85" height="113.18" fill="#fff" stroke="none"/>
<clipPath id="ic"><rect x="346.05" y="249.77" width="261.85" height="113.18"/></clipPath>
<g clip-path="url(#ic)">
<circle cx="468.99" cy="289.95" r="4.50" fill="none" stroke="#00c000" stroke-width="1.05"/><circle cx="468.99" cy="289.95" r="0.45" fill="#00c000" fill-opacity="0.6"/>
<circle cx="484.71" cy="289.95" r="4.50" fill="none" stroke="#00c000" stroke-width="1.05"/><circle cx="484.71" cy="289.95" r="0.45" fill="#00c000" fill-opacity="0.6"/>
<circle cx="453.26" cy="290.23" r="4.50" fill="none" stroke="#00c000" stroke-width="1.05"/><circle cx="453.26" cy="290.23" r="0.45" fill="#00c000" fill-opacity="0.6"/>
<circle cx="500.44" cy="290.23" r="4.50" fill="none" stroke="#00c000" stroke-width="1.05"/><circle cx="500.44" cy="290.23" r="0.45" fill="#00c000" fill-opacity="0.6"/>
<circle cx="437.53" cy="290.23" r="4.50" fill="none" stroke="#00c000" stroke-width="1.05"/><circle cx="437.53" cy="290.23" r="0.45" fill="#00c000" fill-opacity="0.6"/>
<circle cx="516.17" cy="290.23" r="4.50" fill="none" stroke="#00c000" stroke-width="1.05"/><circle cx="516.17" cy="290.23" r="0.45" fill="#00c000" fill-opacity="0.6"/>
<circle cx="421.80" cy="291.08" r="4.50" fill="none" stroke="#00c000" stroke-width="1.05"/><circle cx="421.80" cy="291.08" r="0.45" fill="#00c000" fill-opacity="0.6"/>
<circle cx="531.90" cy="291.08" r="4.50" fill="none" stroke="#00c000" stroke-width="1.05"/><circle cx="531.90" cy="291.08" r="0.45" fill="#00c000" fill-opacity="0.6"/>
<circle cx="406.08" cy="292.78" r="4.50" fill="none" stroke="#00c000" stroke-width="1.05"/><circle cx="406.08" cy="292.78" r="0.45" fill="#00c000" fill-opacity="0.6"/>
<circle cx="547.62" cy="292.78" r="4.50" fill="none" stroke="#00c000" stroke-width="1.05"/><circle cx="547.62" cy="292.78" r="0.45" fill="#00c000" fill-opacity="0.6"/>
<circle cx="390.35" cy="296.17" r="4.50" fill="none" stroke="#00c000" stroke-width="1.05"/><circle cx="390.35" cy="296.17" r="0.45" fill="#00c000" fill-opacity="0.6"/>
<circle cx="563.35" cy="296.17" r="4.50" fill="none" stroke="#00c000" stroke-width="1.05"/><circle cx="563.35" cy="296.17" r="0.45" fill="#00c000" fill-opacity="0.6"/>
<circle cx="374.62" cy="303.53" r="4.50" fill="none" stroke="#00c000" stroke-width="1.05"/><circle cx="374.62" cy="303.53" r="0.45" fill="#00c000" fill-opacity="0.6"/>
<circle cx="579.08" cy="303.53" r="4.50" fill="none" stroke="#00c000" stroke-width="1.05"/><circle cx="579.08" cy="303.53" r="0.45" fill="#00c000" fill-opacity="0.6"/>
<circle cx="358.89" cy="319.26" r="4.50" fill="none" stroke="#00c000" stroke-width="1.05"/><circle cx="358.89" cy="319.26" r="0.45" fill="#00c000" fill-opacity="0.6"/>
<circle cx="594.81" cy="319.26" r="4.50" fill="none" stroke="#00c000" stroke-width="1.05"/><circle cx="594.81" cy="319.26" r="0.45" fill="#00c000" fill-opacity="0.6"/>
<path d="M468.99 340.37 l-4.50 7.29 h9.00 z" fill="none" stroke="#ff00ff" stroke-width="1.05"/><circle cx="468.99" cy="345.41" r="0.45" fill="#ff00ff" fill-opacity="0.6"/>
<path d="M484.71 340.37 l-4.50 7.29 h9.00 z" fill="none" stroke="#ff00ff" stroke-width="1.05"/><circle cx="484.71" cy="345.41" r="0.45" fill="#ff00ff" fill-opacity="0.6"/>
<path d="M453.26 340.37 l-4.50 7.29 h9.00 z" fill="none" stroke="#ff00ff" stroke-width="1.05"/><circle cx="453.26" cy="345.41" r="0.45" fill="#ff00ff" fill-opacity="0.6"/>
<path d="M500.44 340.37 l-4.50 7.29 h9.00 z" fill="none" stroke="#ff00ff" stroke-width="1.05"/><circle cx="500.44" cy="345.41" r="0.45" fill="#ff00ff" fill-opacity="0.6"/>
<path d="M437.53 340.37 l-4.50 7.29 h9.00 z" fill="none" stroke="#ff00ff" stroke-width="1.05"/><circle cx="437.53" cy="345.41" r="0.45" fill="#ff00ff" fill-opacity="0.6"/>
<path d="M516.17 340.37 l-4.50 7.29 h9.00 z" fill="none" stroke="#ff00ff" stroke-width="1.05"/><circle cx="516.17" cy="345.41" r="0.45" fill="#ff00ff" fill-opacity="0.6"/>
<path d="M421.80 340.65 l-4.50 7.29 h9.00 z" fill="none" stroke="#ff00ff" stroke-width="1.05"/><circle cx="421.80" cy="345.69" r="0.45" fill="#ff00ff" fill-opacity="0.6"/>
<path d="M531.90 340.65 l-4.50 7.29 h9.00 z" fill="none" stroke="#ff00ff" stroke-width="1.05"/><circle cx="531.90" cy="345.69" r="0.45" fill="#ff00ff" fill-opacity="0.6"/>
<path d="M406.08 340.93 l-4.50 7.29 h9.00 z" fill="none" stroke="#ff00ff" stroke-width="1.05"/><circle cx="406.08" cy="345.97" r="0.45" fill="#ff00ff" fill-opacity="0.6"/>
<path d="M547.62 340.93 l-4.50 7.29 h9.00 z" fill="none" stroke="#ff00ff" stroke-width="1.05"/><circle cx="547.62" cy="345.97" r="0.45" fill="#ff00ff" fill-opacity="0.6"/>
<path d="M390.35 343.76 l-4.50 7.29 h9.00 z" fill="none" stroke="#ff00ff" stroke-width="1.05"/><circle cx="390.35" cy="348.80" r="0.45" fill="#ff00ff" fill-opacity="0.6"/>
<path d="M563.35 343.76 l-4.50 7.29 h9.00 z" fill="none" stroke="#ff00ff" stroke-width="1.05"/><circle cx="563.35" cy="348.80" r="0.45" fill="#ff00ff" fill-opacity="0.6"/>
<path d="M374.62 353.10 l-4.50 7.29 h9.00 z" fill="none" stroke="#ff00ff" stroke-width="1.05"/><circle cx="374.62" cy="358.14" r="0.45" fill="#ff00ff" fill-opacity="0.6"/>
<path d="M579.08 353.10 l-4.50 7.29 h9.00 z" fill="none" stroke="#ff00ff" stroke-width="1.05"/><circle cx="579.08" cy="358.14" r="0.45" fill="#ff00ff" fill-opacity="0.6"/>
<path d="M340.55 317.61 L341.23 316.40 L341.91 315.23 L342.59 314.07 L343.27 312.93 L343.95 311.82 L344.63 310.73 L345.32 309.66 L346.00 308.61 L346.68 307.58 L347.36 306.57 L348.04 305.59 L348.72 304.63 L349.40 303.68 L350.09 302.76 L350.77 301.86 L351.45 300.98 L352.13 300.12 L352.81 299.28 L353.49 298.46 L354.18 297.66 L354.86 296.88 L355.54 296.12 L356.22 295.38 L356.90 294.66 L357.58 293.96 L358.26 293.28 L358.95 292.62 L359.63 291.97 L360.31 291.35 L360.99 290.74 L361.67 290.15 L362.35 289.58 L363.04 289.02 L363.72 288.48 L364.40 287.96 L365.08 287.46 L365.76 286.97 L366.44 286.50 L367.12 286.04 L367.81 285.60 L368.49 285.17 L369.17 284.76 L369.85 284.36 L370.53 283.97 L371.21 283.60 L371.90 283.25 L372.58 282.90 L373.26 282.57 L373.94 282.24 L374.62 281.93 L375.30 281.64 L375.98 281.35 L376.67 281.07 L377.35 280.80 L378.03 280.54 L378.71 280.29 L379.39 280.05 L380.07 279.82 L380.75 279.60 L381.44 279.38 L382.12 279.17 L382.80 278.97 L383.48 278.78 L384.16 278.59 L384.84 278.41 L385.53 278.23 L386.21 278.06 L386.89 277.90 L387.57 277.74 L388.25 277.59 L388.93 277.44 L389.61 277.29 L390.30 277.16 L390.98 277.02 L391.66 276.89 L392.34 276.76 L393.02 276.64 L393.70 276.52 L394.39 276.41 L395.07 276.29 L395.75 276.19 L396.43 276.08 L397.11 275.98 L397.79 275.88 L398.47 275.78 L399.16 275.69 L399.84 275.60 L400.52 275.51 L401.20 275.42 L401.88 275.34 L402.56 275.25 L403.25 275.18 L403.93 275.10 L404.61 275.02 L405.29 274.95 L405.97 274.88 L406.65 274.81 L407.33 274.74 L408.02 274.67 L408.70 274.61 L409.38 274.55 L410.06 274.49 L410.74 274.43 L411.42 274.37 L412.11 274.31 L412.79 274.26 L413.47 274.20 L414.15 274.15 L414.83 274.10 L415.51 274.05 L416.19 274.00 L416.88 273.96 L417.56 273.91 L418.24 273.86 L418.92 273.82 L419.60 273.78 L420.28 273.74 L420.96 273.70 L421.65 273.66 L422.33 273.62 L423.01 273.58 L423.69 273.54 L424.37 273.51 L425.05 273.47 L425.74 273.44 L426.42 273.40 L427.10 273.37 L427.78 273.34 L428.46 273.31 L429.14 273.28 L429.82 273.25 L430.51 273.22 L431.19 273.19 L431.87 273.17 L432.55 273.14 L433.23 273.11 L433.91 273.09 L434.60 273.06 L435.28 273.04 L435.96 273.02 L436.64 272.99 L437.32 272.97 L438.00 272.95 L438.68 272.93 L439.37 272.91 L440.05 272.89 L440.73 272.87 L441.41 272.85 L442.09 272.83 L442.77 272.82 L443.46 272.80 L444.14 272.78 L444.82 272.77 L445.50 272.75 L446.18 272.74 L446.86 272.72 L447.54 272.71 L448.23 272.69 L448.91 272.68 L449.59 272.67 L450.27 272.66 L450.95 272.64 L451.63 272.63 L452.32 272.62 L453.00 272.61 L453.68 272.60 L454.36 272.59 L455.04 272.58 L455.72 272.57 L456.40 272.56 L457.09 272.55 L457.77 272.54 L458.45 272.54 L459.13 272.53 L459.81 272.52 L460.49 272.51 L461.17 272.51 L461.86 272.50 L462.54 272.50 L463.22 272.49 L463.90 272.48 L464.58 272.48 L465.26 272.48 L465.95 272.47 L466.63 272.47 L467.31 272.46 L467.99 272.46 L468.67 272.46 L469.35 272.45 L470.03 272.45 L470.72 272.45 L471.40 272.45 L472.08 272.44 L472.76 272.44 L473.44 272.44 L474.12 272.44 L474.81 272.44 L475.49 272.44 L476.17 272.44 L476.85 272.44 L477.53 272.44 L478.21 272.44 L478.89 272.44 L479.58 272.44 L480.26 272.44 L480.94 272.44 L481.62 272.44 L482.30 272.45 L482.98 272.45 L483.67 272.45 L484.35 272.45 L485.03 272.46 L485.71 272.46 L486.39 272.46 L487.07 272.47 L487.75 272.47 L488.44 272.48 L489.12 272.48 L489.80 272.48 L490.48 272.49 L491.16 272.50 L491.84 272.50 L492.53 272.51 L493.21 272.51 L493.89 272.52 L494.57 272.53 L495.25 272.54 L495.93 272.54 L496.61 272.55 L497.30 272.56 L497.98 272.57 L498.66 272.58 L499.34 272.59 L500.02 272.60 L500.70 272.61 L501.38 272.62 L502.07 272.63 L502.75 272.64 L503.43 272.66 L504.11 272.67 L504.79 272.68 L505.47 272.69 L506.16 272.71 L506.84 272.72 L507.52 272.74 L508.20 272.75 L508.88 272.77 L509.56 272.78 L510.24 272.80 L510.93 272.82 L511.61 272.83 L512.29 272.85 L512.97 272.87 L513.65 272.89 L514.33 272.91 L515.02 272.93 L515.70 272.95 L516.38 272.97 L517.06 272.99 L517.74 273.02 L518.42 273.04 L519.10 273.06 L519.79 273.09 L520.47 273.11 L521.15 273.14 L521.83 273.17 L522.51 273.19 L523.19 273.22 L523.88 273.25 L524.56 273.28 L525.24 273.31 L525.92 273.34 L526.60 273.37 L527.28 273.40 L527.96 273.44 L528.65 273.47 L529.33 273.51 L530.01 273.54 L530.69 273.58 L531.37 273.62 L532.05 273.66 L532.74 273.70 L533.42 273.74 L534.10 273.78 L534.78 273.82 L535.46 273.86 L536.14 273.91 L536.82 273.96 L537.51 274.00 L538.19 274.05 L538.87 274.10 L539.55 274.15 L540.23 274.20 L540.91 274.26 L541.59 274.31 L542.28 274.37 L542.96 274.43 L543.64 274.49 L544.32 274.55 L545.00 274.61 L545.68 274.67 L546.37 274.74 L547.05 274.81 L547.73 274.88 L548.41 274.95 L549.09 275.02 L549.77 275.10 L550.45 275.18 L551.14 275.25 L551.82 275.34 L552.50 275.42 L553.18 275.51 L553.86 275.60 L554.54 275.69 L555.23 275.78 L555.91 275.88 L556.59 275.98 L557.27 276.08 L557.95 276.19 L558.63 276.29 L559.31 276.41 L560.00 276.52 L560.68 276.64 L561.36 276.76 L562.04 276.89 L562.72 277.02 L563.40 277.16 L564.09 277.29 L564.77 277.44 L565.45 277.59 L566.13 277.74 L566.81 277.90 L567.49 278.06 L568.17 278.23 L568.86 278.41 L569.54 278.59 L570.22 278.78 L570.90 278.97 L571.58 279.17 L572.26 279.38 L572.95 279.60 L573.63 279.82 L574.31 280.05 L574.99 280.29 L575.67 280.54 L576.35 280.80 L577.03 281.07 L577.72 281.35 L578.40 281.64 L579.08 281.93 L579.76 282.24 L580.44 282.57 L581.12 282.90 L581.80 283.25 L582.49 283.60 L583.17 283.97 L583.85 284.36 L584.53 284.76 L585.21 285.17 L585.89 285.60 L586.58 286.04 L587.26 286.50 L587.94 286.97 L588.62 287.46 L589.30 287.96 L589.98 288.48 L590.66 289.02 L591.35 289.58 L592.03 290.15 L592.71 290.74 L593.39 291.35 L594.07 291.97 L594.75 292.62 L595.44 293.28 L596.12 293.96 L596.80 294.66 L597.48 295.38 L598.16 296.12 L598.84 296.88 L599.52 297.66 L600.21 298.46 L600.89 299.28 L601.57 300.12 L602.25 300.98 L602.93 301.86 L603.61 302.76 L604.30 303.68 L604.98 304.63 L605.66 305.59 L606.34 306.57 L607.02 307.58 L607.70 308.61 L608.38 309.66 L609.07 310.73 L609.75 311.82 L610.43 312.93 L611.11 314.07 L611.79 315.23 L612.47 316.40 L613.15 317.61" fill="none" stroke="#00c000" stroke-width="1.0"/>
<path d="M340.55 330.36 L341.23 329.26 L341.91 328.18 L342.59 327.12 L343.27 326.09 L343.95 325.08 L344.63 324.10 L345.32 323.13 L346.00 322.20 L346.68 321.28 L347.36 320.39 L348.04 319.52 L348.72 318.68 L349.40 317.86 L350.09 317.06 L350.77 316.28 L351.45 315.53 L352.13 314.81 L352.81 314.10 L353.49 313.42 L354.18 312.76 L354.86 312.13 L355.54 311.52 L356.22 310.93 L356.90 310.36 L357.58 309.82 L358.26 309.30 L358.95 308.80 L359.63 308.33 L360.31 307.88 L360.99 307.45 L361.67 307.04 L362.35 306.66 L363.04 306.29 L363.72 305.95 L364.40 305.63 L365.08 305.33 L365.76 305.05 L366.44 304.79 L367.12 304.55 L367.81 304.33 L368.49 304.13 L369.17 303.95 L369.85 303.78 L370.53 303.63 L371.21 303.50 L371.90 303.37 L372.58 303.26 L373.26 303.16 L373.94 303.07 L374.62 302.99 L375.30 302.92 L375.98 302.85 L376.67 302.79 L377.35 302.74 L378.03 302.69 L378.71 302.64 L379.39 302.60 L380.07 302.56 L380.75 302.52 L381.44 302.49 L382.12 302.46 L382.80 302.43 L383.48 302.40 L384.16 302.37 L384.84 302.34 L385.53 302.32 L386.21 302.30 L386.89 302.28 L387.57 302.25 L388.25 302.23 L388.93 302.22 L389.61 302.20 L390.30 302.18 L390.98 302.16 L391.66 302.15 L392.34 302.13 L393.02 302.12 L393.70 302.10 L394.39 302.09 L395.07 302.08 L395.75 302.07 L396.43 302.05 L397.11 302.04 L397.79 302.03 L398.47 302.02 L399.16 302.01 L399.84 302.00 L400.52 301.99 L401.20 301.98 L401.88 301.97 L402.56 301.96 L403.25 301.95 L403.93 301.94 L404.61 301.94 L405.29 301.93 L405.97 301.92 L406.65 301.91 L407.33 301.91 L408.02 301.90 L408.70 301.89 L409.38 301.88 L410.06 301.88 L410.74 301.87 L411.42 301.87 L412.11 301.86 L412.79 301.85 L413.47 301.85 L414.15 301.84 L414.83 301.84 L415.51 301.83 L416.19 301.83 L416.88 301.82 L417.56 301.82 L418.24 301.81 L418.92 301.81 L419.60 301.80 L420.28 301.80 L420.96 301.80 L421.65 301.79 L422.33 301.79 L423.01 301.78 L423.69 301.78 L424.37 301.78 L425.05 301.77 L425.74 301.77 L426.42 301.76 L427.10 301.76 L427.78 301.76 L428.46 301.76 L429.14 301.75 L429.82 301.75 L430.51 301.75 L431.19 301.74 L431.87 301.74 L432.55 301.74 L433.23 301.73 L433.91 301.73 L434.60 301.73 L435.28 301.73 L435.96 301.73 L436.64 301.72 L437.32 301.72 L438.00 301.72 L438.68 301.72 L439.37 301.71 L440.05 301.71 L440.73 301.71 L441.41 301.71 L442.09 301.71 L442.77 301.70 L443.46 301.70 L444.14 301.70 L444.82 301.70 L445.50 301.70 L446.18 301.70 L446.86 301.69 L447.54 301.69 L448.23 301.69 L448.91 301.69 L449.59 301.69 L450.27 301.69 L450.95 301.69 L451.63 301.69 L452.32 301.68 L453.00 301.68 L453.68 301.68 L454.36 301.68 L455.04 301.68 L455.72 301.68 L456.40 301.68 L457.09 301.68 L457.77 301.68 L458.45 301.68 L459.13 301.68 L459.81 301.67 L460.49 301.67 L461.17 301.67 L461.86 301.67 L462.54 301.67 L463.22 301.67 L463.90 301.67 L464.58 301.67 L465.26 301.67 L465.95 301.67 L466.63 301.67 L467.31 301.67 L467.99 301.67 L468.67 301.67 L469.35 301.67 L470.03 301.67 L470.72 301.67 L471.40 301.67 L472.08 301.67 L472.76 301.67 L473.44 301.67 L474.12 301.67 L474.81 301.67 L475.49 301.67 L476.17 301.67 L476.85 301.67 L477.53 301.67 L478.21 301.67 L478.89 301.67 L479.58 301.67 L480.26 301.67 L480.94 301.67 L481.62 301.67 L482.30 301.67 L482.98 301.67 L483.67 301.67 L484.35 301.67 L485.03 301.67 L485.71 301.67 L486.39 301.67 L487.07 301.67 L487.75 301.67 L488.44 301.67 L489.12 301.67 L489.80 301.67 L490.48 301.67 L491.16 301.67 L491.84 301.67 L492.53 301.67 L493.21 301.67 L493.89 301.67 L494.57 301.68 L495.25 301.68 L495.93 301.68 L496.61 301.68 L497.30 301.68 L497.98 301.68 L498.66 301.68 L499.34 301.68 L500.02 301.68 L500.70 301.68 L501.38 301.68 L502.07 301.69 L502.75 301.69 L503.43 301.69 L504.11 301.69 L504.79 301.69 L505.47 301.69 L506.16 301.69 L506.84 301.69 L507.52 301.70 L508.20 301.70 L508.88 301.70 L509.56 301.70 L510.24 301.70 L510.93 301.70 L511.61 301.71 L512.29 301.71 L512.97 301.71 L513.65 301.71 L514.33 301.71 L515.02 301.72 L515.70 301.72 L516.38 301.72 L517.06 301.72 L517.74 301.73 L518.42 301.73 L519.10 301.73 L519.79 301.73 L520.47 301.73 L521.15 301.74 L521.83 301.74 L522.51 301.74 L523.19 301.75 L523.88 301.75 L524.56 301.75 L525.24 301.76 L525.92 301.76 L526.60 301.76 L527.28 301.76 L527.96 301.77 L528.65 301.77 L529.33 301.78 L530.01 301.78 L530.69 301.78 L531.37 301.79 L532.05 301.79 L532.74 301.80 L533.42 301.80 L534.10 301.80 L534.78 301.81 L535.46 301.81 L536.14 301.82 L536.82 301.82 L537.51 301.83 L538.19 301.83 L538.87 301.84 L539.55 301.84 L540.23 301.85 L540.91 301.85 L541.59 301.86 L542.28 301.87 L542.96 301.87 L543.64 301.88 L544.32 301.88 L545.00 301.89 L545.68 301.90 L546.37 301.91 L547.05 301.91 L547.73 301.92 L548.41 301.93 L549.09 301.94 L549.77 301.94 L550.45 301.95 L551.14 301.96 L551.82 301.97 L552.50 301.98 L553.18 301.99 L553.86 302.00 L554.54 302.01 L555.23 302.02 L555.91 302.03 L556.59 302.04 L557.27 302.05 L557.95 302.07 L558.63 302.08 L559.31 302.09 L560.00 302.10 L560.68 302.12 L561.36 302.13 L562.04 302.15 L562.72 302.16 L563.40 302.18 L564.09 302.20 L564.77 302.22 L565.45 302.23 L566.13 302.25 L566.81 302.28 L567.49 302.30 L568.17 302.32 L568.86 302.34 L569.54 302.37 L570.22 302.40 L570.90 302.43 L571.58 302.46 L572.26 302.49 L572.95 302.52 L573.63 302.56 L574.31 302.60 L574.99 302.64 L575.67 302.69 L576.35 302.74 L577.03 302.79 L577.72 302.85 L578.40 302.92 L579.08 302.99 L579.76 303.07 L580.44 303.16 L581.12 303.26 L581.80 303.37 L582.49 303.50 L583.17 303.63 L583.85 303.78 L584.53 303.95 L585.21 304.13 L585.89 304.33 L586.58 304.55 L587.26 304.79 L587.94 305.05 L588.62 305.33 L589.30 305.63 L589.98 305.95 L590.66 306.29 L591.35 306.66 L592.03 307.04 L592.71 307.45 L593.39 307.88 L594.07 308.33 L594.75 308.80 L595.44 309.30 L596.12 309.82 L596.80 310.36 L597.48 310.93 L598.16 311.52 L598.84 312.13 L599.52 312.76 L600.21 313.42 L600.89 314.10 L601.57 314.81 L602.25 315.53 L602.93 316.28 L603.61 317.06 L604.30 317.86 L604.98 318.68 L605.66 319.52 L606.34 320.39 L607.02 321.28 L607.70 322.20 L608.38 323.13 L609.07 324.10 L609.75 325.08 L610.43 326.09 L611.11 327.12 L611.79 328.18 L612.47 329.26 L613.15 330.36" fill="none" stroke="#ff00ff" stroke-width="1.0"/>
<path d="M340.55 331.83 L341.23 330.73 L341.91 329.67 L342.59 328.62 L343.27 327.60 L343.95 326.61 L344.63 325.63 L345.32 324.69 L346.00 323.76 L346.68 322.86 L347.36 321.99 L348.04 321.13 L348.72 320.30 L349.40 319.50 L350.09 318.72 L350.77 317.96 L351.45 317.23 L352.13 316.52 L352.81 315.84 L353.49 315.17 L354.18 314.54 L354.86 313.92 L355.54 313.33 L356.22 312.77 L356.90 312.23 L357.58 311.71 L358.26 311.22 L358.95 310.75 L359.63 310.30 L360.31 309.88 L360.99 309.48 L361.67 309.11 L362.35 308.75 L363.04 308.43 L363.72 308.13 L364.40 307.85 L365.08 307.59 L365.76 307.36 L366.44 307.15 L367.12 306.97 L367.81 306.81 L368.49 306.68 L369.17 306.57 L369.85 306.48 L370.53 306.42 L371.21 306.38 L371.90 306.36 L372.58 306.36 L373.26 306.36 L373.94 306.36 L374.62 306.36 L375.30 306.36 L375.98 306.36 L376.67 306.36 L377.35 306.36 L378.03 306.36 L378.71 306.36 L379.39 306.36 L380.07 306.36 L380.75 306.36 L381.44 306.36 L382.12 306.36 L382.80 306.36 L383.48 306.36 L384.16 306.36 L384.84 306.36 L385.53 306.36 L386.21 306.36 L386.89 306.36 L387.57 306.36 L388.25 306.36 L388.93 306.36 L389.61 306.36 L390.30 306.36 L390.98 306.36 L391.66 306.36 L392.34 306.36 L393.02 306.36 L393.70 306.36 L394.39 306.36 L395.07 306.36 L395.75 306.36 L396.43 306.36 L397.11 306.36 L397.79 306.36 L398.47 306.36 L399.16 306.36 L399.84 306.36 L400.52 306.36 L401.20 306.36 L401.88 306.36 L402.56 306.36 L403.25 306.36 L403.93 306.36 L404.61 306.36 L405.29 306.36 L405.97 306.36 L406.65 306.36 L407.33 306.36 L408.02 306.36 L408.70 306.36 L409.38 306.36 L410.06 306.36 L410.74 306.36 L411.42 306.36 L412.11 306.36 L412.79 306.36 L413.47 306.36 L414.15 306.36 L414.83 306.36 L415.51 306.36 L416.19 306.36 L416.88 306.36 L417.56 306.36 L418.24 306.36 L418.92 306.36 L419.60 306.36 L420.28 306.36 L420.96 306.36 L421.65 306.36 L422.33 306.36 L423.01 306.36 L423.69 306.36 L424.37 306.36 L425.05 306.36 L425.74 306.36 L426.42 306.36 L427.10 306.36 L427.78 306.36 L428.46 306.36 L429.14 306.36 L429.82 306.36 L430.51 306.36 L431.19 306.36 L431.87 306.36 L432.55 306.36 L433.23 306.36 L433.91 306.36 L434.60 306.36 L435.28 306.36 L435.96 306.36 L436.64 306.36 L437.32 306.36 L438.00 306.36 L438.68 306.36 L439.37 306.36 L440.05 306.36 L440.73 306.36 L441.41 306.36 L442.09 306.36 L442.77 306.36 L443.46 306.36 L444.14 306.36 L444.82 306.36 L445.50 306.36 L446.18 306.36 L446.86 306.36 L447.54 306.36 L448.23 306.36 L448.91 306.36 L449.59 306.36 L450.27 306.36 L450.95 306.36 L451.63 306.36 L452.32 306.36 L453.00 306.36 L453.68 306.36 L454.36 306.36 L455.04 306.36 L455.72 306.36 L456.40 306.36 L457.09 306.36 L457.77 306.36 L458.45 306.36 L459.13 306.36 L459.81 306.36 L460.49 306.36 L461.17 306.36 L461.86 306.36 L462.54 306.36 L463.22 306.36 L463.90 306.36 L464.58 306.36 L465.26 306.36 L465.95 306.36 L466.63 306.36 L467.31 306.36 L467.99 306.36 L468.67 306.36 L469.35 306.36 L470.03 306.36 L470.72 306.36 L471.40 306.36 L472.08 306.36 L472.76 306.36 L473.44 306.36 L474.12 306.36 L474.81 306.36 L475.49 306.36 L476.17 306.36 L476.85 306.36 L477.53 306.36 L478.21 306.36 L478.89 306.36 L479.58 306.36 L480.26 306.36 L480.94 306.36 L481.62 306.36 L482.30 306.36 L482.98 306.36 L483.67 306.36 L484.35 306.36 L485.03 306.36 L485.71 306.36 L486.39 306.36 L487.07 306.36 L487.75 306.36 L488.44 306.36 L489.12 306.36 L489.80 306.36 L490.48 306.36 L491.16 306.36 L491.84 306.36 L492.53 306.36 L493.21 306.36 L493.89 306.36 L494.57 306.36 L495.25 306.36 L495.93 306.36 L496.61 306.36 L497.30 306.36 L497.98 306.36 L498.66 306.36 L499.34 306.36 L500.02 306.36 L500.70 306.36 L501.38 306.36 L502.07 306.36 L502.75 306.36 L503.43 306.36 L504.11 306.36 L504.79 306.36 L505.47 306.36 L506.16 306.36 L506.84 306.36 L507.52 306.36 L508.20 306.36 L508.88 306.36 L509.56 306.36 L510.24 306.36 L510.93 306.36 L511.61 306.36 L512.29 306.36 L512.97 306.36 L513.65 306.36 L514.33 306.36 L515.02 306.36 L515.70 306.36 L516.38 306.36 L517.06 306.36 L517.74 306.36 L518.42 306.36 L519.10 306.36 L519.79 306.36 L520.47 306.36 L521.15 306.36 L521.83 306.36 L522.51 306.36 L523.19 306.36 L523.88 306.36 L524.56 306.36 L525.24 306.36 L525.92 306.36 L526.60 306.36 L527.28 306.36 L527.96 306.36 L528.65 306.36 L529.33 306.36 L530.01 306.36 L530.69 306.36 L531.37 306.36 L532.05 306.36 L532.74 306.36 L533.42 306.36 L534.10 306.36 L534.78 306.36 L535.46 306.36 L536.14 306.36 L536.82 306.36 L537.51 306.36 L538.19 306.36 L538.87 306.36 L539.55 306.36 L540.23 306.36 L540.91 306.36 L541.59 306.36 L542.28 306.36 L542.96 306.36 L543.64 306.36 L544.32 306.36 L545.00 306.36 L545.68 306.36 L546.37 306.36 L547.05 306.36 L547.73 306.36 L548.41 306.36 L549.09 306.36 L549.77 306.36 L550.45 306.36 L551.14 306.36 L551.82 306.36 L552.50 306.36 L553.18 306.36 L553.86 306.36 L554.54 306.36 L555.23 306.36 L555.91 306.36 L556.59 306.36 L557.27 306.36 L557.95 306.36 L558.63 306.36 L559.31 306.36 L560.00 306.36 L560.68 306.36 L561.36 306.36 L562.04 306.36 L562.72 306.36 L563.40 306.36 L564.09 306.36 L564.77 306.36 L565.45 306.36 L566.13 306.36 L566.81 306.36 L567.49 306.36 L568.17 306.36 L568.86 306.36 L569.54 306.36 L570.22 306.36 L570.90 306.36 L571.58 306.36 L572.26 306.36 L572.95 306.36 L573.63 306.36 L574.31 306.36 L574.99 306.36 L575.67 306.36 L576.35 306.36 L577.03 306.36 L577.72 306.36 L578.40 306.36 L579.08 306.36 L579.76 306.36 L580.44 306.36 L581.12 306.36 L581.80 306.36 L582.49 306.38 L583.17 306.42 L583.85 306.48 L584.53 306.57 L585.21 306.68 L585.89 306.81 L586.58 306.97 L587.26 307.15 L587.94 307.36 L588.62 307.59 L589.30 307.85 L589.98 308.13 L590.66 308.43 L591.35 308.75 L592.03 309.11 L592.71 309.48 L593.39 309.88 L594.07 310.30 L594.75 310.75 L595.44 311.22 L596.12 311.71 L596.80 312.23 L597.48 312.77 L598.16 313.33 L598.84 313.92 L599.52 314.54 L600.21 315.17 L600.89 315.84 L601.57 316.52 L602.25 317.23 L602.93 317.96 L603.61 318.72 L604.30 319.50 L604.98 320.30 L605.66 321.13 L606.34 321.99 L607.02 322.86 L607.70 323.76 L608.38 324.69 L609.07 325.63 L609.75 326.61 L610.43 327.60 L611.11 328.62 L611.79 329.67 L612.47 330.73 L613.15 331.83" fill="none" stroke="#00ffff" stroke-width="1.0" stroke-dasharray="5.7 2.7"/>
</g>
<rect x="346.05" y="249.77" width="261.85" height="113.18" fill="none" stroke="#000" stroke-width="1.95"/>
<path d="M346.05 306.36 h9.00 M607.90 306.36 h-9.00 M372.00 362.95 v-9.00 M372.00 249.77 v9.00 M476.85 362.95 v-9.00 M476.85 249.77 v9.00 M581.70 362.95 v-9.00 M581.70 249.77 v9.00" stroke="#000" stroke-width="1.9" fill="none"/>
<text transform="translate(106.70 440.69) scale(1.0450 1.0800)" text-anchor="end" font-size="30.00"  >0</text>
<text transform="translate(106.70 374.46) scale(1.0450 1.0800)" text-anchor="end" font-size="30.00"  >0.02</text>
<text transform="translate(106.70 308.23) scale(1.0450 1.0800)" text-anchor="end" font-size="30.00"  >0.04</text>
<text transform="translate(106.70 242.01) scale(1.0450 1.0800)" text-anchor="end" font-size="30.00"  >0.06</text>
<text transform="translate(106.70 175.78) scale(1.0450 1.0800)" text-anchor="end" font-size="30.00"  >0.08</text>
<text transform="translate(106.70 109.55) scale(1.0450 1.0800)" text-anchor="end" font-size="30.00"  >0.1</text>
<text transform="translate(106.70 43.32) scale(1.0450 1.0800)" text-anchor="end" font-size="30.00"  >0.12</text>
<text transform="translate(114.70 471.50) scale(1.0550 1.0800)" text-anchor="start" font-size="30.00"  >-1</text>
<text transform="translate(254.40 471.50) scale(1.0550 1.0800)" text-anchor="start" font-size="30.00"  >-0.5</text>
<text transform="translate(429.30 471.50) scale(1.0550 1.0800)" text-anchor="start" font-size="30.00"  >0</text>
<text transform="translate(568.80 471.50) scale(1.0550 1.0800)" text-anchor="start" font-size="30.00"  >0.5</text>
<text transform="translate(733.30 471.50) scale(1.0550 1.0800)" text-anchor="start" font-size="30.00"  >1</text>
<text transform="translate(326.70 371.35) scale(1.0450 1.0800)" text-anchor="end" font-size="30.00"  >0.079</text>
<text transform="translate(326.70 314.76) scale(1.0450 1.0800)" text-anchor="end" font-size="30.00"  >0.08</text>
<text transform="translate(326.70 258.17) scale(1.0450 1.0800)" text-anchor="end" font-size="30.00"  >0.081</text>
<text transform="translate(346.40 402.30) scale(1.0600 1.0800)" text-anchor="start" font-size="30.00"  >-0.2</text>
<text transform="translate(474.10 402.30) scale(1.0600 1.0800)" text-anchor="start" font-size="30.00"  >0</text>
<text transform="translate(566.70 402.30) scale(1.0600 1.0800)" text-anchor="start" font-size="30.00"  >0.2</text>
<text transform="translate(158.79 46.65) scale(1.0720 1.0165)" text-anchor="start" font-size="30.00" font-style="italic" >θ</text>
<text transform="translate(182.26 49.20) scale(1.4929 1.0400)" text-anchor="start" font-size="30.00"  >=</text>
<text transform="translate(216.28 46.94) scale(0.9429 1.0534)" text-anchor="start" font-size="30.00"  >10</text>
<text transform="translate(246.73 36.23) scale(1.0800 1.0737)" text-anchor="start" font-size="21.00"   stroke-width="0.3">0</text>
<path d="M279.80 34.60 l-4.50 4.50 l4.50 4.50 l4.50 -4.50 z" fill="none" stroke="#0000ff" stroke-width="1.05"/><circle cx="279.80" cy="39.10" r="0.45" fill="#0000ff" fill-opacity="0.6"/>
<text transform="translate(158.79 77.40) scale(1.0720 1.0165)" text-anchor="start" font-size="30.00" font-style="italic" >θ</text>
<text transform="translate(182.26 79.95) scale(1.4929 1.0400)" text-anchor="start" font-size="30.00"  >=</text>
<text transform="translate(216.28 77.69) scale(0.9429 1.0534)" text-anchor="start" font-size="30.00"  >10</text>
<text transform="translate(246.39 67.25) scale(1.0800 1.1027)" text-anchor="start" font-size="21.00"   stroke-width="0.3">1</text>
<path d="M275.30 65.50 h9.00 v9.00 h-9.00 z" fill="none" stroke="#ff0000" stroke-width="1.05"/><circle cx="279.80" cy="70.00" r="0.45" fill="#ff0000" fill-opacity="0.6"/>
<text transform="translate(158.79 108.15) scale(1.0720 1.0165)" text-anchor="start" font-size="30.00" font-style="italic" >θ</text>
<text transform="translate(182.26 110.70) scale(1.4929 1.0400)" text-anchor="start" font-size="30.00"  >=</text>
<text transform="translate(216.28 108.44) scale(0.9429 1.0534)" text-anchor="start" font-size="30.00"  >10</text>
<text transform="translate(246.87 98.00) scale(1.0800 1.1027)" text-anchor="start" font-size="21.00"   stroke-width="0.3">2</text>
<circle cx="279.80" cy="100.90" r="4.50" fill="none" stroke="#00c000" stroke-width="1.05"/><circle cx="279.80" cy="100.90" r="0.45" fill="#00c000" fill-opacity="0.6"/>
<text transform="translate(158.79 138.90) scale(1.0720 1.0165)" text-anchor="start" font-size="30.00" font-style="italic" >θ</text>
<text transform="translate(182.26 141.45) scale(1.4929 1.0400)" text-anchor="start" font-size="30.00"  >=</text>
<text transform="translate(216.28 139.19) scale(0.9429 1.0534)" text-anchor="start" font-size="30.00"  >10</text>
<text transform="translate(246.66 128.48) scale(1.0800 1.0832)" text-anchor="start" font-size="21.00"   stroke-width="0.3">3</text>
<path d="M279.80 126.76 l-4.50 7.29 h9.00 z" fill="none" stroke="#ff00ff" stroke-width="1.05"/><circle cx="279.80" cy="131.80" r="0.45" fill="#ff00ff" fill-opacity="0.6"/>
<text transform="translate(516.77 45.94) scale(1.0670 1.0465)" text-anchor="start" font-size="30.00"  >Newton</text>
<text transform="translate(555.27 76.88) scale(1.0646 0.9872)" text-anchor="start" font-size="30.00"  >glass</text>
<path d="M637.3 38.95 H720.2" stroke="#000" stroke-width="1.1" stroke-dasharray="1.3 2.2" fill="none"/>
<path d="M637.3 69.95 H719.3" stroke="#00ffff" stroke-width="1" stroke-dasharray="5.7 2.7" fill="none"/>
<text transform="translate(405.39 517.11) scale(0.8756 0.9679)" text-anchor="start" font-size="30.00" font-style="italic" >y</text>
<text transform="translate(419.50 524.62) scale(1.5515 1.5100)" text-anchor="start" font-size="30.00"  >/</text>
<text transform="translate(435.37 516.90) scale(1.0753 1.0446)" text-anchor="start" font-size="30.00" font-style="italic" >H</text>
<g transform="rotate(-90)"><text transform="translate(-246.89 23.26) scale(1.2606 0.9062)" text-anchor="start" font-size="30.00" font-style="italic" stroke-width="1.0">u</text><text transform="translate(-219.02 11.28) scale(1.2459 0.8608)" text-anchor="start" font-size="21.00" font-style="italic"  stroke-width="0.3">τ</text><text transform="translate(-208.99 14.77) scale(1.3360 1.0173)" text-anchor="start" font-size="15.00"   stroke-width="0.2">0</text><path d="M-224.9 16.6 H-192.2" stroke="#000" stroke-width="1.25"/><text transform="translate(-224.68 35.00) scale(1.1176 1.0883)" text-anchor="start" font-size="21.00"   stroke-width="0.3">2</text><text transform="translate(-213.20 35.00) scale(1.1847 1.0982)" text-anchor="start" font-size="21.00" font-style="italic"  stroke-width="0.3">H</text></g>
</svg>
</body></html>
